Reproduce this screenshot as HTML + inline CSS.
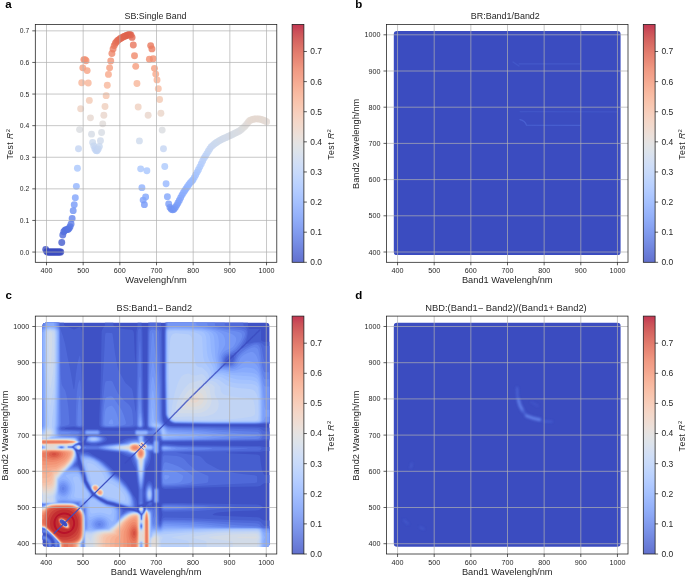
<!DOCTYPE html>
<html><head><meta charset="utf-8"><title>Figure</title>
<style>html,body{margin:0;padding:0;background:#fff;}svg{display:block;}text{font-family:"Liberation Sans",sans-serif;opacity:0.999;}</style>
</head><body>
<svg width="685" height="578" viewBox="0 0 685 578" font-family="'Liberation Sans', sans-serif" fill="#262626">
<defs><linearGradient id="cbg" x1="0" y1="0" x2="0" y2="1"><stop offset="0.0000" stop-color="#c33652"/><stop offset="0.0312" stop-color="#cb5058"/><stop offset="0.0625" stop-color="#d4625f"/><stop offset="0.0938" stop-color="#dc7167"/><stop offset="0.1250" stop-color="#e47f6f"/><stop offset="0.1562" stop-color="#ea8b78"/><stop offset="0.1875" stop-color="#f09982"/><stop offset="0.2188" stop-color="#f3a28b"/><stop offset="0.2500" stop-color="#f6ad94"/><stop offset="0.2812" stop-color="#f8b79e"/><stop offset="0.3125" stop-color="#f9c0a8"/><stop offset="0.3438" stop-color="#f8c8b2"/><stop offset="0.3750" stop-color="#f7cfbd"/><stop offset="0.4062" stop-color="#f4d6c7"/><stop offset="0.4375" stop-color="#f0dbd0"/><stop offset="0.4688" stop-color="#ebe0da"/><stop offset="0.5000" stop-color="#e4e3e3"/><stop offset="0.5312" stop-color="#dde3ea"/><stop offset="0.5625" stop-color="#d6e0f1"/><stop offset="0.5938" stop-color="#ceddf7"/><stop offset="0.6250" stop-color="#c7d9fa"/><stop offset="0.6562" stop-color="#bed4fd"/><stop offset="0.6875" stop-color="#b6ceff"/><stop offset="0.7188" stop-color="#adc7ff"/><stop offset="0.7500" stop-color="#a4c0fe"/><stop offset="0.7812" stop-color="#9bb7fc"/><stop offset="0.8125" stop-color="#92aff9"/><stop offset="0.8438" stop-color="#8aa5f4"/><stop offset="0.8750" stop-color="#819bee"/><stop offset="0.9062" stop-color="#7991e7"/><stop offset="0.9375" stop-color="#7186df"/><stop offset="0.9688" stop-color="#697bd7"/><stop offset="1.0000" stop-color="#6270cd"/></linearGradient> <filter id="sb" x="-20%" y="-20%" width="140%" height="140%"><feGaussianBlur stdDeviation="0.6"/></filter><filter id="sb2" x="-30%" y="-30%" width="160%" height="160%"><feGaussianBlur stdDeviation="0.85"/></filter><filter id="sb3" x="-5%" y="-5%" width="110%" height="110%"><feGaussianBlur stdDeviation="0.35"/></filter><filter id="hb" x="-2%" y="-2%" width="104%" height="104%"><feGaussianBlur stdDeviation="0.75"/></filter></defs>
<rect width="685" height="578" fill="#ffffff"/>
<g>
<clipPath id="clipa"><rect x="35.30" y="24.40" width="241.50" height="237.90"/></clipPath>
<g clip-path="url(#clipa)">
<circle cx="45.72" cy="249.52" r="3.45" fill="#3d50c3" fill-opacity="0.8"/><circle cx="46.71" cy="251.59" r="3.45" fill="#3b4cc0" fill-opacity="0.8"/><circle cx="47.69" cy="252.05" r="3.45" fill="#3b4cc0" fill-opacity="0.8"/><circle cx="48.68" cy="252.05" r="3.45" fill="#3b4cc0" fill-opacity="0.8"/><circle cx="49.67" cy="252.05" r="3.45" fill="#3b4cc0" fill-opacity="0.8"/><circle cx="50.66" cy="252.05" r="3.45" fill="#3b4cc0" fill-opacity="0.8"/><circle cx="51.66" cy="252.05" r="3.45" fill="#3b4cc0" fill-opacity="0.8"/><circle cx="52.65" cy="252.05" r="3.45" fill="#3b4cc0" fill-opacity="0.8"/><circle cx="53.66" cy="252.05" r="3.45" fill="#3b4cc0" fill-opacity="0.8"/><circle cx="54.66" cy="252.05" r="3.45" fill="#3b4cc0" fill-opacity="0.8"/><circle cx="55.66" cy="252.05" r="3.45" fill="#3b4cc0" fill-opacity="0.8"/><circle cx="56.67" cy="252.05" r="3.45" fill="#3b4cc0" fill-opacity="0.8"/><circle cx="57.69" cy="252.05" r="3.45" fill="#3b4cc0" fill-opacity="0.8"/><circle cx="58.70" cy="252.05" r="3.45" fill="#3b4cc0" fill-opacity="0.8"/><circle cx="59.72" cy="252.05" r="3.45" fill="#3b4cc0" fill-opacity="0.8"/><circle cx="60.74" cy="252.05" r="3.45" fill="#3b4cc0" fill-opacity="0.8"/><circle cx="61.76" cy="242.52" r="3.45" fill="#455cce" fill-opacity="0.8"/><circle cx="62.78" cy="234.99" r="3.45" fill="#4f69d9" fill-opacity="0.8"/><circle cx="63.81" cy="231.73" r="3.45" fill="#536edd" fill-opacity="0.8"/><circle cx="64.84" cy="230.38" r="3.45" fill="#5572df" fill-opacity="0.8"/><circle cx="65.88" cy="229.61" r="3.45" fill="#5673e0" fill-opacity="0.8"/><circle cx="66.91" cy="229.61" r="3.45" fill="#5673e0" fill-opacity="0.8"/><circle cx="67.95" cy="229.44" r="3.45" fill="#5673e0" fill-opacity="0.8"/><circle cx="68.99" cy="228.47" r="3.45" fill="#5875e1" fill-opacity="0.8"/><circle cx="70.04" cy="226.74" r="3.45" fill="#5977e3" fill-opacity="0.8"/><circle cx="71.09" cy="223.92" r="3.45" fill="#5d7ce6" fill-opacity="0.8"/><circle cx="72.14" cy="218.52" r="3.45" fill="#6485ec" fill-opacity="0.8"/><circle cx="73.19" cy="210.66" r="3.45" fill="#6f92f3" fill-opacity="0.8"/><circle cx="74.25" cy="204.75" r="3.45" fill="#779af7" fill-opacity="0.8"/><circle cx="75.31" cy="197.63" r="3.45" fill="#81a4fb" fill-opacity="0.8"/><circle cx="76.37" cy="186.36" r="3.45" fill="#92b4fe" fill-opacity="0.8"/><circle cx="77.43" cy="168.25" r="3.45" fill="#aac7fd" fill-opacity="0.8"/><circle cx="78.50" cy="148.77" r="3.45" fill="#c4d5f3" fill-opacity="0.8"/><circle cx="79.57" cy="129.59" r="3.45" fill="#dadce0" fill-opacity="0.8"/><circle cx="80.65" cy="108.72" r="3.45" fill="#edd1c2" fill-opacity="0.8"/><circle cx="81.72" cy="82.73" r="3.45" fill="#f7b497" fill-opacity="0.8"/><circle cx="82.80" cy="67.85" r="3.45" fill="#f59f80" fill-opacity="0.8"/><circle cx="83.88" cy="59.61" r="3.45" fill="#f29072" fill-opacity="0.8"/><circle cx="84.97" cy="59.61" r="3.45" fill="#f29072" fill-opacity="0.8"/><circle cx="86.06" cy="60.74" r="3.45" fill="#f29274" fill-opacity="0.8"/><circle cx="87.15" cy="70.61" r="3.45" fill="#f6a283" fill-opacity="0.8"/><circle cx="88.24" cy="83.06" r="3.45" fill="#f7b497" fill-opacity="0.8"/><circle cx="89.34" cy="100.39" r="3.45" fill="#f2c9b4" fill-opacity="0.8"/><circle cx="90.44" cy="117.86" r="3.45" fill="#e6d7cf" fill-opacity="0.8"/><circle cx="91.54" cy="134.13" r="3.45" fill="#d5dbe5" fill-opacity="0.8"/><circle cx="92.65" cy="142.41" r="3.45" fill="#ccd9ed" fill-opacity="0.8"/><circle cx="93.76" cy="145.85" r="3.45" fill="#c7d7f0" fill-opacity="0.8"/><circle cx="94.87" cy="148.74" r="3.45" fill="#c4d5f3" fill-opacity="0.8"/><circle cx="95.98" cy="150.43" r="3.45" fill="#c3d5f4" fill-opacity="0.8"/><circle cx="97.10" cy="150.70" r="3.45" fill="#c1d4f4" fill-opacity="0.8"/><circle cx="98.22" cy="148.99" r="3.45" fill="#c4d5f3" fill-opacity="0.8"/><circle cx="99.35" cy="146.41" r="3.45" fill="#c7d7f0" fill-opacity="0.8"/><circle cx="100.47" cy="140.78" r="3.45" fill="#cedaeb" fill-opacity="0.8"/><circle cx="101.60" cy="132.53" r="3.45" fill="#d7dce3" fill-opacity="0.8"/><circle cx="102.74" cy="123.86" r="3.45" fill="#e0dbd8" fill-opacity="0.8"/><circle cx="103.87" cy="115.26" r="3.45" fill="#e9d5cb" fill-opacity="0.8"/><circle cx="105.01" cy="106.55" r="3.45" fill="#efcebd" fill-opacity="0.8"/><circle cx="106.15" cy="95.66" r="3.45" fill="#f5c4ac" fill-opacity="0.8"/><circle cx="107.30" cy="85.24" r="3.45" fill="#f7b79b" fill-opacity="0.8"/><circle cx="108.45" cy="74.38" r="3.45" fill="#f7a889" fill-opacity="0.8"/><circle cx="109.60" cy="67.85" r="3.45" fill="#f59f80" fill-opacity="0.8"/><circle cx="110.75" cy="60.98" r="3.45" fill="#f39475" fill-opacity="0.8"/><circle cx="111.91" cy="53.53" r="3.45" fill="#ee8669" fill-opacity="0.8"/><circle cx="113.07" cy="48.96" r="3.45" fill="#eb7d62" fill-opacity="0.8"/><circle cx="114.24" cy="45.61" r="3.45" fill="#e9785d" fill-opacity="0.8"/><circle cx="115.40" cy="43.13" r="3.45" fill="#e67259" fill-opacity="0.8"/><circle cx="116.57" cy="41.79" r="3.45" fill="#e57058" fill-opacity="0.8"/><circle cx="117.75" cy="40.51" r="3.45" fill="#e46e56" fill-opacity="0.8"/><circle cx="118.92" cy="39.62" r="3.45" fill="#e36c55" fill-opacity="0.8"/><circle cx="120.10" cy="38.72" r="3.45" fill="#e36b54" fill-opacity="0.8"/><circle cx="121.29" cy="37.93" r="3.45" fill="#e26952" fill-opacity="0.8"/><circle cx="122.47" cy="37.34" r="3.45" fill="#e16751" fill-opacity="0.8"/><circle cx="123.66" cy="36.74" r="3.45" fill="#e16751" fill-opacity="0.8"/><circle cx="124.86" cy="36.15" r="3.45" fill="#e0654f" fill-opacity="0.8"/><circle cx="126.05" cy="35.65" r="3.45" fill="#e0654f" fill-opacity="0.8"/><circle cx="127.25" cy="35.22" r="3.45" fill="#df634e" fill-opacity="0.8"/><circle cx="128.45" cy="34.79" r="3.45" fill="#df634e" fill-opacity="0.8"/><circle cx="129.66" cy="34.36" r="3.45" fill="#de614d" fill-opacity="0.8"/><circle cx="130.87" cy="34.93" r="3.45" fill="#df634e" fill-opacity="0.8"/><circle cx="132.08" cy="37.39" r="3.45" fill="#e16751" fill-opacity="0.8"/><circle cx="133.30" cy="44.98" r="3.45" fill="#e8765c" fill-opacity="0.8"/><circle cx="134.51" cy="55.70" r="3.45" fill="#f08a6c" fill-opacity="0.8"/><circle cx="135.74" cy="66.37" r="3.45" fill="#f59c7d" fill-opacity="0.8"/><circle cx="136.96" cy="83.57" r="3.45" fill="#f7b599" fill-opacity="0.8"/><circle cx="138.19" cy="106.93" r="3.45" fill="#efcfbf" fill-opacity="0.8"/><circle cx="139.42" cy="140.92" r="3.45" fill="#cdd9ec" fill-opacity="0.8"/><circle cx="140.66" cy="168.86" r="3.45" fill="#aac7fd" fill-opacity="0.8"/><circle cx="141.90" cy="187.64" r="3.45" fill="#90b2fe" fill-opacity="0.8"/><circle cx="143.14" cy="200.12" r="3.45" fill="#7ea1fa" fill-opacity="0.8"/><circle cx="144.38" cy="204.65" r="3.45" fill="#779af7" fill-opacity="0.8"/><circle cx="145.63" cy="196.96" r="3.45" fill="#82a6fb" fill-opacity="0.8"/><circle cx="146.88" cy="170.70" r="3.45" fill="#a7c5fe" fill-opacity="0.8"/><circle cx="148.14" cy="115.21" r="3.45" fill="#e9d5cb" fill-opacity="0.8"/><circle cx="149.40" cy="59.31" r="3.45" fill="#f29072" fill-opacity="0.8"/><circle cx="150.66" cy="45.59" r="3.45" fill="#e9785d" fill-opacity="0.8"/><circle cx="151.93" cy="48.91" r="3.45" fill="#eb7d62" fill-opacity="0.8"/><circle cx="153.20" cy="58.82" r="3.45" fill="#f18f71" fill-opacity="0.8"/><circle cx="154.47" cy="68.35" r="3.45" fill="#f59f80" fill-opacity="0.8"/><circle cx="155.74" cy="74.11" r="3.45" fill="#f7a889" fill-opacity="0.8"/><circle cx="157.02" cy="79.90" r="3.45" fill="#f7b093" fill-opacity="0.8"/><circle cx="158.31" cy="88.64" r="3.45" fill="#f7bca1" fill-opacity="0.8"/><circle cx="159.59" cy="99.46" r="3.45" fill="#f3c8b2" fill-opacity="0.8"/><circle cx="160.88" cy="113.31" r="3.45" fill="#ead4c8" fill-opacity="0.8"/><circle cx="162.18" cy="130.12" r="3.45" fill="#dadce0" fill-opacity="0.8"/><circle cx="163.47" cy="148.79" r="3.45" fill="#c4d5f3" fill-opacity="0.8"/><circle cx="164.77" cy="166.52" r="3.45" fill="#adc9fd" fill-opacity="0.8"/><circle cx="166.08" cy="183.70" r="3.45" fill="#96b7ff" fill-opacity="0.8"/><circle cx="167.38" cy="196.73" r="3.45" fill="#82a6fb" fill-opacity="0.8"/><circle cx="168.70" cy="204.00" r="3.45" fill="#799cf8" fill-opacity="0.8"/><circle cx="170.01" cy="207.45" r="3.45" fill="#7396f5" fill-opacity="0.8"/><circle cx="171.33" cy="209.19" r="3.45" fill="#7093f3" fill-opacity="0.8"/><circle cx="172.65" cy="209.83" r="3.45" fill="#7093f3" fill-opacity="0.8"/><circle cx="173.98" cy="209.33" r="3.45" fill="#7093f3" fill-opacity="0.8"/><circle cx="175.30" cy="207.55" r="3.45" fill="#7396f5" fill-opacity="0.8"/><circle cx="176.64" cy="205.36" r="3.45" fill="#7699f6" fill-opacity="0.8"/><circle cx="177.97" cy="203.05" r="3.45" fill="#7a9df8" fill-opacity="0.8"/><circle cx="179.31" cy="200.51" r="3.45" fill="#7da0f9" fill-opacity="0.8"/><circle cx="180.65" cy="197.81" r="3.45" fill="#81a4fb" fill-opacity="0.8"/><circle cx="182.00" cy="195.11" r="3.45" fill="#85a8fc" fill-opacity="0.8"/><circle cx="183.35" cy="192.64" r="3.45" fill="#88abfd" fill-opacity="0.8"/><circle cx="184.71" cy="190.67" r="3.45" fill="#8badfd" fill-opacity="0.8"/><circle cx="186.06" cy="188.70" r="3.45" fill="#8db0fe" fill-opacity="0.8"/><circle cx="187.43" cy="186.72" r="3.45" fill="#90b2fe" fill-opacity="0.8"/><circle cx="188.79" cy="184.74" r="3.45" fill="#94b6ff" fill-opacity="0.8"/><circle cx="190.16" cy="182.87" r="3.45" fill="#96b7ff" fill-opacity="0.8"/><circle cx="191.53" cy="181.42" r="3.45" fill="#98b9ff" fill-opacity="0.8"/><circle cx="192.91" cy="179.97" r="3.45" fill="#9abbff" fill-opacity="0.8"/><circle cx="194.29" cy="177.59" r="3.45" fill="#9ebeff" fill-opacity="0.8"/><circle cx="195.67" cy="174.96" r="3.45" fill="#a2c1ff" fill-opacity="0.8"/><circle cx="197.06" cy="172.33" r="3.45" fill="#a5c3fe" fill-opacity="0.8"/><circle cx="198.45" cy="169.69" r="3.45" fill="#a9c6fd" fill-opacity="0.8"/><circle cx="199.84" cy="166.83" r="3.45" fill="#adc9fd" fill-opacity="0.8"/><circle cx="201.24" cy="163.91" r="3.45" fill="#b1cbfc" fill-opacity="0.8"/><circle cx="202.65" cy="160.98" r="3.45" fill="#b5cdfa" fill-opacity="0.8"/><circle cx="204.05" cy="158.30" r="3.45" fill="#b9d0f9" fill-opacity="0.8"/><circle cx="205.46" cy="155.96" r="3.45" fill="#bbd1f8" fill-opacity="0.8"/><circle cx="206.88" cy="153.62" r="3.45" fill="#bed2f6" fill-opacity="0.8"/><circle cx="208.29" cy="151.26" r="3.45" fill="#c1d4f4" fill-opacity="0.8"/><circle cx="209.72" cy="148.91" r="3.45" fill="#c4d5f3" fill-opacity="0.8"/><circle cx="211.14" cy="146.83" r="3.45" fill="#c6d6f1" fill-opacity="0.8"/><circle cx="212.57" cy="145.60" r="3.45" fill="#c9d7f0" fill-opacity="0.8"/><circle cx="214.00" cy="144.36" r="3.45" fill="#cad8ef" fill-opacity="0.8"/><circle cx="215.44" cy="143.18" r="3.45" fill="#cbd8ee" fill-opacity="0.8"/><circle cx="216.88" cy="142.26" r="3.45" fill="#ccd9ed" fill-opacity="0.8"/><circle cx="218.33" cy="141.33" r="3.45" fill="#cdd9ec" fill-opacity="0.8"/><circle cx="219.77" cy="140.41" r="3.45" fill="#cedaeb" fill-opacity="0.8"/><circle cx="221.23" cy="139.62" r="3.45" fill="#cfdaea" fill-opacity="0.8"/><circle cx="222.68" cy="138.96" r="3.45" fill="#cfdaea" fill-opacity="0.8"/><circle cx="224.14" cy="138.31" r="3.45" fill="#d1dae9" fill-opacity="0.8"/><circle cx="225.61" cy="137.65" r="3.45" fill="#d2dbe8" fill-opacity="0.8"/><circle cx="227.08" cy="136.99" r="3.45" fill="#d2dbe8" fill-opacity="0.8"/><circle cx="228.55" cy="136.32" r="3.45" fill="#d3dbe7" fill-opacity="0.8"/><circle cx="230.03" cy="135.66" r="3.45" fill="#d4dbe6" fill-opacity="0.8"/><circle cx="231.51" cy="134.92" r="3.45" fill="#d5dbe5" fill-opacity="0.8"/><circle cx="232.99" cy="134.17" r="3.45" fill="#d5dbe5" fill-opacity="0.8"/><circle cx="234.48" cy="133.42" r="3.45" fill="#d6dce4" fill-opacity="0.8"/><circle cx="235.97" cy="132.67" r="3.45" fill="#d7dce3" fill-opacity="0.8"/><circle cx="237.47" cy="131.91" r="3.45" fill="#d8dce2" fill-opacity="0.8"/><circle cx="238.97" cy="131.16" r="3.45" fill="#d8dce2" fill-opacity="0.8"/><circle cx="240.47" cy="130.19" r="3.45" fill="#d9dce1" fill-opacity="0.8"/><circle cx="241.98" cy="128.91" r="3.45" fill="#dbdcde" fill-opacity="0.8"/><circle cx="243.49" cy="127.62" r="3.45" fill="#dcdddd" fill-opacity="0.8"/><circle cx="245.01" cy="126.22" r="3.45" fill="#dedcdb" fill-opacity="0.8"/><circle cx="246.53" cy="124.33" r="3.45" fill="#dfdbd9" fill-opacity="0.8"/><circle cx="248.06" cy="122.44" r="3.45" fill="#e1dad6" fill-opacity="0.8"/><circle cx="249.58" cy="120.58" r="3.45" fill="#e3d9d3" fill-opacity="0.8"/><circle cx="251.12" cy="120.04" r="3.45" fill="#e4d9d2" fill-opacity="0.8"/><circle cx="252.65" cy="119.50" r="3.45" fill="#e4d9d2" fill-opacity="0.8"/><circle cx="254.20" cy="118.95" r="3.45" fill="#e5d8d1" fill-opacity="0.8"/><circle cx="255.74" cy="118.89" r="3.45" fill="#e5d8d1" fill-opacity="0.8"/><circle cx="257.29" cy="118.89" r="3.45" fill="#e5d8d1" fill-opacity="0.8"/><circle cx="258.85" cy="118.89" r="3.45" fill="#e5d8d1" fill-opacity="0.8"/><circle cx="260.40" cy="119.24" r="3.45" fill="#e5d8d1" fill-opacity="0.8"/><circle cx="261.97" cy="119.70" r="3.45" fill="#e4d9d2" fill-opacity="0.8"/><circle cx="263.53" cy="120.25" r="3.45" fill="#e4d9d2" fill-opacity="0.8"/><circle cx="265.10" cy="120.93" r="3.45" fill="#e3d9d3" fill-opacity="0.8"/><circle cx="266.68" cy="121.77" r="3.45" fill="#e2dad5" fill-opacity="0.8"/>
<line x1="46.50" x2="46.50" y1="24.40" y2="262.30" stroke="#b0b0b0" stroke-width="0.7"/>
<line x1="83.17" x2="83.17" y1="24.40" y2="262.30" stroke="#b0b0b0" stroke-width="0.7"/>
<line x1="119.84" x2="119.84" y1="24.40" y2="262.30" stroke="#b0b0b0" stroke-width="0.7"/>
<line x1="156.51" x2="156.51" y1="24.40" y2="262.30" stroke="#b0b0b0" stroke-width="0.7"/>
<line x1="193.18" x2="193.18" y1="24.40" y2="262.30" stroke="#b0b0b0" stroke-width="0.7"/>
<line x1="229.85" x2="229.85" y1="24.40" y2="262.30" stroke="#b0b0b0" stroke-width="0.7"/>
<line x1="266.52" x2="266.52" y1="24.40" y2="262.30" stroke="#b0b0b0" stroke-width="0.7"/>
<line x1="35.30" x2="276.80" y1="252.05" y2="252.05" stroke="#b0b0b0" stroke-width="0.7"/>
<line x1="35.30" x2="276.80" y1="220.45" y2="220.45" stroke="#b0b0b0" stroke-width="0.7"/>
<line x1="35.30" x2="276.80" y1="188.85" y2="188.85" stroke="#b0b0b0" stroke-width="0.7"/>
<line x1="35.30" x2="276.80" y1="157.25" y2="157.25" stroke="#b0b0b0" stroke-width="0.7"/>
<line x1="35.30" x2="276.80" y1="125.65" y2="125.65" stroke="#b0b0b0" stroke-width="0.7"/>
<line x1="35.30" x2="276.80" y1="94.05" y2="94.05" stroke="#b0b0b0" stroke-width="0.7"/>
<line x1="35.30" x2="276.80" y1="62.45" y2="62.45" stroke="#b0b0b0" stroke-width="0.7"/>
<line x1="35.30" x2="276.80" y1="30.85" y2="30.85" stroke="#b0b0b0" stroke-width="0.7"/>
</g>
<rect x="35.30" y="24.40" width="241.50" height="237.90" fill="none" stroke="#1a1a1a" stroke-width="0.75"/>
<line x1="46.50" x2="46.50" y1="262.30" y2="265.30" stroke="#1a1a1a" stroke-width="0.7"/>
<text x="46.50" y="272.90" font-size="7.0" text-anchor="middle" textLength="12.0" lengthAdjust="spacingAndGlyphs" >400</text>
<line x1="83.17" x2="83.17" y1="262.30" y2="265.30" stroke="#1a1a1a" stroke-width="0.7"/>
<text x="83.17" y="272.90" font-size="7.0" text-anchor="middle" textLength="12.0" lengthAdjust="spacingAndGlyphs" >500</text>
<line x1="119.84" x2="119.84" y1="262.30" y2="265.30" stroke="#1a1a1a" stroke-width="0.7"/>
<text x="119.84" y="272.90" font-size="7.0" text-anchor="middle" textLength="12.0" lengthAdjust="spacingAndGlyphs" >600</text>
<line x1="156.51" x2="156.51" y1="262.30" y2="265.30" stroke="#1a1a1a" stroke-width="0.7"/>
<text x="156.51" y="272.90" font-size="7.0" text-anchor="middle" textLength="12.0" lengthAdjust="spacingAndGlyphs" >700</text>
<line x1="193.18" x2="193.18" y1="262.30" y2="265.30" stroke="#1a1a1a" stroke-width="0.7"/>
<text x="193.18" y="272.90" font-size="7.0" text-anchor="middle" textLength="12.0" lengthAdjust="spacingAndGlyphs" >800</text>
<line x1="229.85" x2="229.85" y1="262.30" y2="265.30" stroke="#1a1a1a" stroke-width="0.7"/>
<text x="229.85" y="272.90" font-size="7.0" text-anchor="middle" textLength="12.0" lengthAdjust="spacingAndGlyphs" >900</text>
<line x1="266.52" x2="266.52" y1="262.30" y2="265.30" stroke="#1a1a1a" stroke-width="0.7"/>
<text x="266.52" y="272.90" font-size="7.0" text-anchor="middle" textLength="16.0" lengthAdjust="spacingAndGlyphs" >1000</text>
<line x1="32.30" x2="35.30" y1="252.05" y2="252.05" stroke="#1a1a1a" stroke-width="0.7"/>
<text x="29.20" y="254.55" font-size="7.0" text-anchor="end" textLength="9.4" lengthAdjust="spacingAndGlyphs" >0.0</text>
<line x1="32.30" x2="35.30" y1="220.45" y2="220.45" stroke="#1a1a1a" stroke-width="0.7"/>
<text x="29.20" y="222.95" font-size="7.0" text-anchor="end" textLength="9.4" lengthAdjust="spacingAndGlyphs" >0.1</text>
<line x1="32.30" x2="35.30" y1="188.85" y2="188.85" stroke="#1a1a1a" stroke-width="0.7"/>
<text x="29.20" y="191.35" font-size="7.0" text-anchor="end" textLength="9.4" lengthAdjust="spacingAndGlyphs" >0.2</text>
<line x1="32.30" x2="35.30" y1="157.25" y2="157.25" stroke="#1a1a1a" stroke-width="0.7"/>
<text x="29.20" y="159.75" font-size="7.0" text-anchor="end" textLength="9.4" lengthAdjust="spacingAndGlyphs" >0.3</text>
<line x1="32.30" x2="35.30" y1="125.65" y2="125.65" stroke="#1a1a1a" stroke-width="0.7"/>
<text x="29.20" y="128.15" font-size="7.0" text-anchor="end" textLength="9.4" lengthAdjust="spacingAndGlyphs" >0.4</text>
<line x1="32.30" x2="35.30" y1="94.05" y2="94.05" stroke="#1a1a1a" stroke-width="0.7"/>
<text x="29.20" y="96.55" font-size="7.0" text-anchor="end" textLength="9.4" lengthAdjust="spacingAndGlyphs" >0.5</text>
<line x1="32.30" x2="35.30" y1="62.45" y2="62.45" stroke="#1a1a1a" stroke-width="0.7"/>
<text x="29.20" y="64.95" font-size="7.0" text-anchor="end" textLength="9.4" lengthAdjust="spacingAndGlyphs" >0.6</text>
<line x1="32.30" x2="35.30" y1="30.85" y2="30.85" stroke="#1a1a1a" stroke-width="0.7"/>
<text x="29.20" y="33.35" font-size="7.0" text-anchor="end" textLength="9.4" lengthAdjust="spacingAndGlyphs" >0.7</text>
<text x="155.50" y="19.10" font-size="8.7" text-anchor="middle" textLength="62" lengthAdjust="spacingAndGlyphs" >SB:Single Band</text>
<text x="156.05" y="283.30" font-size="8.7" text-anchor="middle" textLength="61.5" lengthAdjust="spacingAndGlyphs" >Wavelengh/nm</text>
<text font-size="8.7" text-anchor="middle" letter-spacing="0.45" transform="translate(13.20,143.95) rotate(-90)" >Test <tspan font-style="italic">R</tspan><tspan font-size="6" dy="-3.2">2</tspan></text>
<text x="5.30" y="7.80" font-size="11.5" text-anchor="start" font-weight="bold" fill="#000">a</text>
<rect x="292.10" y="24.40" width="11.80" height="237.90" fill="url(#cbg)" stroke="#1a1a1a" stroke-width="0.75"/>
<line x1="303.90" x2="306.90" y1="262.30" y2="262.30" stroke="#1a1a1a" stroke-width="0.7"/>
<text x="310.20" y="265.25" font-size="8.4" text-anchor="start" textLength="11.8" lengthAdjust="spacingAndGlyphs" >0.0</text>
<line x1="303.90" x2="306.90" y1="232.19" y2="232.19" stroke="#1a1a1a" stroke-width="0.7"/>
<text x="310.20" y="235.14" font-size="8.4" text-anchor="start" textLength="11.8" lengthAdjust="spacingAndGlyphs" >0.1</text>
<line x1="303.90" x2="306.90" y1="202.07" y2="202.07" stroke="#1a1a1a" stroke-width="0.7"/>
<text x="310.20" y="205.02" font-size="8.4" text-anchor="start" textLength="11.8" lengthAdjust="spacingAndGlyphs" >0.2</text>
<line x1="303.90" x2="306.90" y1="171.96" y2="171.96" stroke="#1a1a1a" stroke-width="0.7"/>
<text x="310.20" y="174.91" font-size="8.4" text-anchor="start" textLength="11.8" lengthAdjust="spacingAndGlyphs" >0.3</text>
<line x1="303.90" x2="306.90" y1="141.84" y2="141.84" stroke="#1a1a1a" stroke-width="0.7"/>
<text x="310.20" y="144.79" font-size="8.4" text-anchor="start" textLength="11.8" lengthAdjust="spacingAndGlyphs" >0.4</text>
<line x1="303.90" x2="306.90" y1="111.73" y2="111.73" stroke="#1a1a1a" stroke-width="0.7"/>
<text x="310.20" y="114.68" font-size="8.4" text-anchor="start" textLength="11.8" lengthAdjust="spacingAndGlyphs" >0.5</text>
<line x1="303.90" x2="306.90" y1="81.62" y2="81.62" stroke="#1a1a1a" stroke-width="0.7"/>
<text x="310.20" y="84.57" font-size="8.4" text-anchor="start" textLength="11.8" lengthAdjust="spacingAndGlyphs" >0.6</text>
<line x1="303.90" x2="306.90" y1="51.50" y2="51.50" stroke="#1a1a1a" stroke-width="0.7"/>
<text x="310.20" y="54.45" font-size="8.4" text-anchor="start" textLength="11.8" lengthAdjust="spacingAndGlyphs" >0.7</text>
<text transform="translate(333.90,144.15) rotate(-90)" font-size="8.7" text-anchor="middle" letter-spacing="0.45">Test <tspan font-style="italic">R</tspan><tspan font-size="6" dy="-3.2">2</tspan></text>
</g>
<g>
<clipPath id="clipb"><rect x="386.50" y="24.40" width="241.50" height="237.90"/></clipPath>
<g clip-path="url(#clipb)">
<g transform="translate(351.2,0)"><rect x="42.6" y="31.1" width="226.8" height="224.0" rx="3.2" fill="#3b4cc0"/><g filter="url(#sb)" fill="none" stroke-linecap="round" stroke="#4e68d8"><path d="M168.8 119.6Q173.8 120.5 175.3 125.2L228.8 125.4" stroke-width="1.2" opacity="0.7"/><path d="M168.8 111.7L265.8 111.9" stroke-width="1.0" opacity="0.4"/><path d="M161.8 62.0L167.8 66.0M167.8 63.8L228.8 63.8" stroke-width="1.2" opacity="0.4"/></g></g>
<line x1="397.55" x2="397.55" y1="24.40" y2="262.30" stroke="#b0b0b0" stroke-width="0.7"/>
<line x1="434.20" x2="434.20" y1="24.40" y2="262.30" stroke="#b0b0b0" stroke-width="0.7"/>
<line x1="470.85" x2="470.85" y1="24.40" y2="262.30" stroke="#b0b0b0" stroke-width="0.7"/>
<line x1="507.50" x2="507.50" y1="24.40" y2="262.30" stroke="#b0b0b0" stroke-width="0.7"/>
<line x1="544.15" x2="544.15" y1="24.40" y2="262.30" stroke="#b0b0b0" stroke-width="0.7"/>
<line x1="580.80" x2="580.80" y1="24.40" y2="262.30" stroke="#b0b0b0" stroke-width="0.7"/>
<line x1="617.45" x2="617.45" y1="24.40" y2="262.30" stroke="#b0b0b0" stroke-width="0.7"/>
<line x1="386.50" x2="628.00" y1="252.00" y2="252.00" stroke="#b0b0b0" stroke-width="0.7"/>
<line x1="386.50" x2="628.00" y1="215.80" y2="215.80" stroke="#b0b0b0" stroke-width="0.7"/>
<line x1="386.50" x2="628.00" y1="179.60" y2="179.60" stroke="#b0b0b0" stroke-width="0.7"/>
<line x1="386.50" x2="628.00" y1="143.40" y2="143.40" stroke="#b0b0b0" stroke-width="0.7"/>
<line x1="386.50" x2="628.00" y1="107.20" y2="107.20" stroke="#b0b0b0" stroke-width="0.7"/>
<line x1="386.50" x2="628.00" y1="71.00" y2="71.00" stroke="#b0b0b0" stroke-width="0.7"/>
<line x1="386.50" x2="628.00" y1="34.80" y2="34.80" stroke="#b0b0b0" stroke-width="0.7"/>
</g>
<rect x="386.50" y="24.40" width="241.50" height="237.90" fill="none" stroke="#1a1a1a" stroke-width="0.75"/>
<line x1="397.55" x2="397.55" y1="262.30" y2="265.30" stroke="#1a1a1a" stroke-width="0.7"/>
<text x="397.55" y="272.90" font-size="7.0" text-anchor="middle" textLength="12.0" lengthAdjust="spacingAndGlyphs" >400</text>
<line x1="434.20" x2="434.20" y1="262.30" y2="265.30" stroke="#1a1a1a" stroke-width="0.7"/>
<text x="434.20" y="272.90" font-size="7.0" text-anchor="middle" textLength="12.0" lengthAdjust="spacingAndGlyphs" >500</text>
<line x1="470.85" x2="470.85" y1="262.30" y2="265.30" stroke="#1a1a1a" stroke-width="0.7"/>
<text x="470.85" y="272.90" font-size="7.0" text-anchor="middle" textLength="12.0" lengthAdjust="spacingAndGlyphs" >600</text>
<line x1="507.50" x2="507.50" y1="262.30" y2="265.30" stroke="#1a1a1a" stroke-width="0.7"/>
<text x="507.50" y="272.90" font-size="7.0" text-anchor="middle" textLength="12.0" lengthAdjust="spacingAndGlyphs" >700</text>
<line x1="544.15" x2="544.15" y1="262.30" y2="265.30" stroke="#1a1a1a" stroke-width="0.7"/>
<text x="544.15" y="272.90" font-size="7.0" text-anchor="middle" textLength="12.0" lengthAdjust="spacingAndGlyphs" >800</text>
<line x1="580.80" x2="580.80" y1="262.30" y2="265.30" stroke="#1a1a1a" stroke-width="0.7"/>
<text x="580.80" y="272.90" font-size="7.0" text-anchor="middle" textLength="12.0" lengthAdjust="spacingAndGlyphs" >900</text>
<line x1="617.45" x2="617.45" y1="262.30" y2="265.30" stroke="#1a1a1a" stroke-width="0.7"/>
<text x="617.45" y="272.90" font-size="7.0" text-anchor="middle" textLength="16.0" lengthAdjust="spacingAndGlyphs" >1000</text>
<line x1="383.50" x2="386.50" y1="252.00" y2="252.00" stroke="#1a1a1a" stroke-width="0.7"/>
<text x="380.40" y="254.50" font-size="7.0" text-anchor="end" textLength="12.0" lengthAdjust="spacingAndGlyphs" >400</text>
<line x1="383.50" x2="386.50" y1="215.80" y2="215.80" stroke="#1a1a1a" stroke-width="0.7"/>
<text x="380.40" y="218.30" font-size="7.0" text-anchor="end" textLength="12.0" lengthAdjust="spacingAndGlyphs" >500</text>
<line x1="383.50" x2="386.50" y1="179.60" y2="179.60" stroke="#1a1a1a" stroke-width="0.7"/>
<text x="380.40" y="182.10" font-size="7.0" text-anchor="end" textLength="12.0" lengthAdjust="spacingAndGlyphs" >600</text>
<line x1="383.50" x2="386.50" y1="143.40" y2="143.40" stroke="#1a1a1a" stroke-width="0.7"/>
<text x="380.40" y="145.90" font-size="7.0" text-anchor="end" textLength="12.0" lengthAdjust="spacingAndGlyphs" >700</text>
<line x1="383.50" x2="386.50" y1="107.20" y2="107.20" stroke="#1a1a1a" stroke-width="0.7"/>
<text x="380.40" y="109.70" font-size="7.0" text-anchor="end" textLength="12.0" lengthAdjust="spacingAndGlyphs" >800</text>
<line x1="383.50" x2="386.50" y1="71.00" y2="71.00" stroke="#1a1a1a" stroke-width="0.7"/>
<text x="380.40" y="73.50" font-size="7.0" text-anchor="end" textLength="12.0" lengthAdjust="spacingAndGlyphs" >900</text>
<line x1="383.50" x2="386.50" y1="34.80" y2="34.80" stroke="#1a1a1a" stroke-width="0.7"/>
<text x="380.40" y="37.30" font-size="7.0" text-anchor="end" textLength="16.0" lengthAdjust="spacingAndGlyphs" >1000</text>
<text x="505.30" y="19.10" font-size="8.7" text-anchor="middle" textLength="69" lengthAdjust="spacingAndGlyphs" >BR:Band1/Band2</text>
<text x="507.25" y="283.30" font-size="8.7" text-anchor="middle" textLength="90.6" lengthAdjust="spacingAndGlyphs" >Band1 Wavelengh/nm</text>
<text font-size="8.7" text-anchor="middle" textLength="90" lengthAdjust="spacingAndGlyphs" transform="translate(358.80,143.95) rotate(-90)" >Band2 Wavelengh/nm</text>
<text x="355.30" y="7.50" font-size="11.5" text-anchor="start" font-weight="bold" fill="#000">b</text>
<rect x="643.30" y="24.40" width="11.80" height="237.90" fill="url(#cbg)" stroke="#1a1a1a" stroke-width="0.75"/>
<line x1="655.10" x2="658.10" y1="262.30" y2="262.30" stroke="#1a1a1a" stroke-width="0.7"/>
<text x="661.40" y="265.25" font-size="8.4" text-anchor="start" textLength="11.8" lengthAdjust="spacingAndGlyphs" >0.0</text>
<line x1="655.10" x2="658.10" y1="232.19" y2="232.19" stroke="#1a1a1a" stroke-width="0.7"/>
<text x="661.40" y="235.14" font-size="8.4" text-anchor="start" textLength="11.8" lengthAdjust="spacingAndGlyphs" >0.1</text>
<line x1="655.10" x2="658.10" y1="202.07" y2="202.07" stroke="#1a1a1a" stroke-width="0.7"/>
<text x="661.40" y="205.02" font-size="8.4" text-anchor="start" textLength="11.8" lengthAdjust="spacingAndGlyphs" >0.2</text>
<line x1="655.10" x2="658.10" y1="171.96" y2="171.96" stroke="#1a1a1a" stroke-width="0.7"/>
<text x="661.40" y="174.91" font-size="8.4" text-anchor="start" textLength="11.8" lengthAdjust="spacingAndGlyphs" >0.3</text>
<line x1="655.10" x2="658.10" y1="141.84" y2="141.84" stroke="#1a1a1a" stroke-width="0.7"/>
<text x="661.40" y="144.79" font-size="8.4" text-anchor="start" textLength="11.8" lengthAdjust="spacingAndGlyphs" >0.4</text>
<line x1="655.10" x2="658.10" y1="111.73" y2="111.73" stroke="#1a1a1a" stroke-width="0.7"/>
<text x="661.40" y="114.68" font-size="8.4" text-anchor="start" textLength="11.8" lengthAdjust="spacingAndGlyphs" >0.5</text>
<line x1="655.10" x2="658.10" y1="81.62" y2="81.62" stroke="#1a1a1a" stroke-width="0.7"/>
<text x="661.40" y="84.57" font-size="8.4" text-anchor="start" textLength="11.8" lengthAdjust="spacingAndGlyphs" >0.6</text>
<line x1="655.10" x2="658.10" y1="51.50" y2="51.50" stroke="#1a1a1a" stroke-width="0.7"/>
<text x="661.40" y="54.45" font-size="8.4" text-anchor="start" textLength="11.8" lengthAdjust="spacingAndGlyphs" >0.7</text>
<text transform="translate(685.10,144.15) rotate(-90)" font-size="8.7" text-anchor="middle" letter-spacing="0.45">Test <tspan font-style="italic">R</tspan><tspan font-size="6" dy="-3.2">2</tspan></text>
</g>
<g>
<clipPath id="clipc"><rect x="35.30" y="316.10" width="241.50" height="237.90"/></clipPath>
<g clip-path="url(#clipc)">
<clipPath id="hc"><rect x="42.60" y="322.80" width="226.80" height="224.00" rx="3.2"/></clipPath>
<g clip-path="url(#hc)"><rect x="40.6" y="320.8" width="230.8" height="228.0" fill="#3e51c5"/>
<path fill="#465ecf" fill-rule="evenodd" d="M41.1 321.3l22.8 0 0.1 3.5 0.3 0.5 1.6 1 8.2 3.3 3.5 -1.7 2 -0.7 0.5 0.1 0.5 0.4 0.5 0.8 0.7 1.8 0.3 3 0.5 28.9 1.3 33.1 0.3 29.5 -0.2 1 -0.8 1 -1.1 0.7 -1.5 0.5 -2 0 -4 -0.7 -1.5 0 -6.2 0.5 -2.1 0.5 0.1 0.5 4 0.5 10.7 0.3 2 0.5 1.5 0.9 0.5 0 1.5 -1.4 1 -0.4 1.5 -0.2 10 0 1.5 0.4 1.5 0.7 1 0.3 14.5 0.3 16.5 0 1 -0.1 1.5 -1.1 1.7 -0.7 0.6 -0.5 -1.3 -1 -0.5 -0.1 -5.5 0.5 -17 0.5 -8 -0.1 -2.5 -0.4 -1.5 -0.4 -1.3 -1 -0.6 -1 -0.1 -2 0.2 -8.5 1 -22 0.5 -16.5 0.8 -43.5 0.1 -1.5 0.5 -1.5 2.5 -4 0.2 -1 0 -3.5 8.4 0 0.1 4 0.9 1 0.8 0.5 2.4 1 1.6 0.4 6 1 6.5 0.6 1 0.4 0.6 0.6 0.4 1 0.3 2 0.9 21 0.3 5.5 0.5 3.7 0.5 -11.6 0.2 -20.1 0.3 -2 0.9 -4 0.1 -5 3.9 0 0.1 4.5 0.8 4.5 0.1 2.5 1.1 75 0.5 7.9 0.9 8.6 -0.1 1 -0.4 1 -1.7 2 0.3 0.2 1 0.3 2.5 -0.1 0.5 0 0.5 -0.4 -0.9 -2 -0.4 -1.5 0.3 -5.5 0.7 -86.5 0.1 -2.5 0.6 -4.5 0 -4.5 13 0 0.1 4.5 1 4.5 0.1 3 0.4 49 0 32 0.5 4.4 0.5 2.4 0.5 1.1 2.1 2.1 0.6 0.5 1.8 0.6 3 0.5 3.5 0.2 32 0 49.5 0.4 3 0.2 4.5 0.9 7 0.1 0 12.9 -7 0 -4.5 0.5 -2.5 0.1 -82 0.7 -11 0.3 -1.5 -0.2 -2 -1 -0.5 0.1 -0.1 3.7 0.1 0.6 0.5 0.3 2 -1.7 1 -0.4 1 0 12.5 1.2 4.5 0.2 52 0.8 23.5 0.2 2.5 0.1 4.5 0.8 7 0.1 0 3.9 -7 0 -4.5 1 -2 0.2 -18.7 0.2 -13.5 0.5 3.5 0.5 5.7 0.3 21.5 0.9 2 0.3 1 0.4 0.7 0.6 0.3 1 0.8 7 1 6 0.7 2 1 2 1 0.9 1 0.2 5.5 0 0 8.2 -6.5 0.1 -1 0.4 -3.5 2.3 -1.5 0.4 -1.5 0.1 -45 0.8 -17 0.6 -19.5 0.9 -10 0.2 -2 -0.1 -1 -0.5 -1 -1.1 -0.6 -1.9 -0.3 -2 -0.2 -7.5 0.5 -16 0.2 -4 0.4 -3 -0.2 -0.5 -0.8 -1.1 -0.5 0.1 -0.6 1.5 -1.1 1.5 -0.4 1 0 16.5 0.3 14.5 0.2 1 0.8 1.5 0.4 1.5 0 10 -0.3 2 -0.7 1 -1 1 0.1 0.5 1 2 0.3 1.5 0.4 11 0.1 1.4 0.5 1 0.5 -0.5 0.5 -1.4 1.4 -4.5 -0.2 -2 -1.4 -4 -0.2 -2.5 0.7 -2 0.6 -1 0.6 -0.4 1 -0.3 18.5 0 22 0.3 52 1.2 2.5 0.1 1.5 0.5 1.9 1.1 1.1 1 -0.3 0.5 -2.7 1.8 -2 0.7 -2.5 0.3 -22.3 0.7 -13.7 1 -3.1 0.5 -1.7 0.5 -1.9 1 -0.3 0.5 1.5 0.5 5.1 0.5 5.9 0.3 32 1.1 1.5 0.2 1 0.4 2.8 2 1.7 0.7 7 0.1 0 27.7 -217 0 -0.1 -6 -0.9 -2.4 -1.5 -2.2 -2.5 -2.4 -2.8 -1.5 -2.2 -0.5 -3 0zM64.1 522.9l-0.3 0.4 0.8 0.6 0.1 -0.1 -0.1 -0.4zM83.1 434.1l-1.8 1.2 -0.2 0.5 0.3 0.5 0.2 0.3 0.5 0.1 3 -0.6 0.5 0.3 0.2 0.4 0.3 1.6 0.2 -0.6 1.2 -2 -0.4 -0.3 -2 -0.3 -1.5 -1.1zM106.1 434.8l-5 0.1 -0.8 0.4 3.3 0.8 2 1 0.8 0.7 0.4 0.5 0.2 1 -0.4 1 -0.5 0.6 -1.5 1.1 -2.5 1.1 -2 0.6 -4.1 0.6 2.1 0.4 20.7 -2.4 1.2 -0.5 3.1 -1.9 3 -1.3 4 -0.9 5 -0.5 0.7 -0.4 -0.1 -0.5 -0.5 -0.5 -1.1 -0.8 -1 -0.4 -17 -0.1zM148.6 435.7l-2.5 0.7 -0.3 0.4 -0.1 0.5 0.3 1 2.7 1.5 1.4 2.6 0.7 0.4 1 0 0.3 -0.2 0.4 -0.8 0.5 -2 0 -3.5 -0.2 -0.5 -0.7 -0.2zM85.6 439.1l-0.8 1.2 -1.2 1.2 -2.5 1.5 -2.7 0.8 2.2 1.2 1 1.3 0.2 0.5 -0.1 1 -0.4 1 -0.4 0.5 -1.3 0.9 -1 0.2 -1 -0.1 -1.8 -1 -0.4 0 0.2 0.7 1.3 2.3 0.9 5 0.2 3.5 -0.4 3 2.3 3.5 1.5 3.5 1.4 4 1.8 6.7 3 5.6 3.8 5.2 1.2 1.9 1.1 1.1 2.9 1.9 3.6 2.6 5.5 3 1.4 0.6 6.5 1.6 4.5 1.6 3.6 1.7 2.4 1.7 0.5 0.1 3.5 -0.4 4 0.4 4.5 0.8 2.5 1.5 0.1 -0.1 -0.1 -0.5 -0.9 -1.5 -0.1 -1 0.1 -1 0.6 -1 0.8 -0.8 1.5 -0.5 1 0.1 1 0.7 0.8 1 0.7 1.7 0.5 -1 0.4 -1.7 1.1 -1.9 1 -1.3 1.7 -1.3 -2.7 0 -1.1 -0.5 -0.6 -1.5 -0.5 -2.5 -0.3 -3 -0.4 4.5 0 3.5 -0.2 1 -0.4 0.5 -0.5 0.3 -2.5 0.6 -1 0 -0.7 -0.4 -0.4 -0.5 -0.2 -1 0.3 -3 0.1 -10.5 -1.3 -9 -1.3 -11.4 -0.5 -1.5 -2.3 -4.1 -0.9 -2.5 -1 -3.5 -0.6 -0.5 -3.2 -0.8 -2.5 -0.9 -4.3 -2.3 -1.7 -0.5 -11.5 -1.3 -9 -1.2 -9 0 -4.5 0.4 -1 -0.1 -0.8 -0.8 -0.3 -1 0.3 -1.5 0.4 -1.5 0.4 -0.5 1 -0.5 4.6 0 2 -0.5 -2.1 -0.3 -2 -0.4 -1 -0.5 -0.3 -0.3 -0.3 -1zM151.6 452.7l-0.8 6.1 -0.9 3.5 -1.2 3 -2.1 3.2 -0.5 1.8 -2.3 19.5 0.3 4 0.2 -2.5 1 -5 1.4 -3 1.4 -1.7 1 -0.5 0.5 0 1 0.4 0.5 0.4 0.7 0.9 0.7 1.5 0.4 1.5 0.2 1.4 0.5 0.3 0.2 -0.7 0.3 -15 -0.1 -16.5 -0.3 -1 -1.1 -1.4 -0.5 -0.3zM152.1 500.8l-1.5 0.9 -0.5 0.1 1.5 0.1 0.7 0.4 0.2 1 -0.6 2.5 0.3 0.5 0.9 0.3 0.5 -0.4 0.9 -1.4 0 -0.5 -1.2 -2 -0.2 -1.9zM164.7 321.3l83.2 0 0.1 5 0.6 1.8 0.5 0.6 1 0.2 9.5 0 1 0.2 0.3 0.2 0.2 1 0 9.5 0.4 1 0.8 0.5 1.8 0.5 7 0 0 82.3 -7 0 -7.5 0.6 -46 0 -34.5 -0.6 -1.5 -0.1 -2 -0.5 -2 -1 -1.5 -1.2 -2.4 -2.5 -0.9 -1.5 -0.6 -1.5 -0.4 -2.5 -0.6 -35 0 -45 0.1 -3 0.4 -4zM77.4 451.3l0.7 -0.1 2 0.5 2.5 -0.3 2 0 3.5 0.7 2 0.9 2.6 1.8 6.9 3.7 4 2.6 2.5 1.9 6 5.8 0.8 1 1.9 3.5 3.8 2.1 2.7 2.4 3.8 4 1.7 2 3 4.5 3.8 6.9 2.1 3.1 0.8 2 0.5 2.5 0.1 2 -0.4 3 0.6 2 -0.2 0.6 -0.5 0.2 -3 -1.6 -4.5 -0.9 -15.9 -4.8 -5.6 -1.3 -9.5 -4.8 -1.5 -1 -2.5 -2.2 -2.4 -2.7 -1.3 -2 -4.4 -8.5 -1.4 -5.5 -4.8 -15.5 -1.2 -5.3 -1.3 -2.2 -0.1 -0.5zM41.1 535.8l0 -0.5 3 0 1.5 0.3 2 1 2.5 2.3 1.3 1.9 0.6 1.5 0.1 6 -4.7 0 0 -5 -0.3 -0.9 -1.4 -1.6 -1.1 -0.7 -3.5 -0.2zM41.1 543.3l0 -0.3 2.5 0.1 0.5 0.2 0.2 5 -3.2 0z"/>
<path fill="#4f69d9" fill-rule="evenodd" d="M41.1 321.3l18.7 0 0 4.5 0.3 2.3 2.7 7.7 2.3 8.3 2.5 13.2 3 14.1 2.5 15.1 0.5 2.5 0.5 0.2 0.5 -2.9 1.3 -12 1.2 -8.3 1 -5 1.5 -5.5 0.5 0.5 0.5 4.3 0.5 7.5 1.3 24 0.5 20.5 0.1 11 -0.2 2 -0.7 1.1 -1.5 0.8 -3 -0.1 -3 -1.1 -1 -0.1 -11 1.4 -1.2 0.5 -0.3 0.5 0 0.5 0.5 0.5 2.5 0.5 15 0.6 1.5 0.4 0.9 0.5 0.4 0.5 0.2 0.5 -0.1 1 -0.3 0.5 -2.1 1.5 -0.1 0.5 0.5 1 0.1 0.5 -0.5 1.5 0.3 1.5 1.6 1.5 -0.4 0.5 -0.5 0.3 -2.2 0.7 -1.8 1 0.5 0.2 2 0.1 1.5 0.8 0.7 0.9 0.1 0.5 -0.1 1.5 -1.2 1.3 -1.5 0.5 -1 -0.2 -2.5 -1.3 -0.5 -0.1 -0.1 0.3 1.9 3.5 0.5 2 0.5 3.5 0 2 -0.2 1.5 -1.5 3.5 0.4 0.4 2 1.1 1.5 2 1.3 2.5 1.5 4 1.9 7 3.2 6 3.3 4.5 1.8 2.9 3 1.8 4.6 3.3 5.6 3 1.3 0.6 7 1.8 5.5 2.2 2.1 1.4 0.8 1 0.6 1.4 0.5 0.3 3.5 -1.5 1.5 -0.2 2.5 0.1 3.5 0.5 2 0.6 3.5 1.8 -0.5 -1.4 -0.9 -1.6 -0.3 -1 0.4 -1.5 1.3 -1.3 1 -0.2 1 0.1 1.1 0.9 0.8 1.5 0.1 2.5 1 -1.6 0.8 -2.4 0.7 -1 0.5 0.3 0.5 0.8 0.5 0.4 2 0.3 1.5 -0.4 1.5 0.5 0.5 -0.3 1.5 -2 0.5 -0.2 1 0 1 0.8 0.7 1.8 0.5 13.5 0.5 2 0.3 0.5 0.5 0.2 0.6 -0.7 1.4 -3.8 1 -1.7 1 -0.6 1 -0.2 24 0.5 36 1.8 30.5 0.9 3 0.3 1 0.4 1 0.7 2.5 2.9 1 0.8 1 0.2 6 0 0 22.3 -216.5 0 0 -5 -0.2 -1.5 -0.8 -2.1 -1.5 -2.2 -2.5 -2.4 -2.5 -1.5 -2.5 -0.7 -3.5 -0.1zM63.1 522.3l0 0.5 0.7 1 0.8 0.6 0.5 0.1 0.2 -0.2 -0.2 -0.8 -0.6 -0.7 -0.9 -0.6zM73.6 446.3l-1.4 0.5 0 0.5 1.4 0.6 0.3 -0.1zM140.6 513.7l0.5 1.6 0.5 0.4 0.6 -1.4 -0.1 -0.4zM149.5 321.3l7.7 0 0.2 4.5 0.5 1 2.2 2.7 0.7 1.8 0.2 3 0.8 48 0.1 32 0.4 3.5 0.5 3 0.8 2.1 1.1 1.4 1.4 1 2 0.7 6.5 0.8 32 0.2 51.5 0.9 1.5 0.3 1 0.5 2.5 2.1 1 0.5 1 0.2 6 0 0 7.6 -6.5 0 -4.5 1.2 -3 0.2 -93 0.8 -1.5 -0.2 -1 -0.5 -0.8 -0.8 -0.7 -1.2 -0.5 -0.4 -0.5 0.4 -0.2 0.7 0.4 3 0.1 6 -0.1 3 -0.5 1.5 -1.2 1.2 -1.5 0.4 -1 -0.2 -1 -0.5 -1.5 -2 -0.5 -0.2 -1.5 0.3 -0.4 0.5 -0.3 4 -0.8 3.5 -1.1 3 -1.9 3.5 -0.5 2 -1.6 14.5 -1.2 7 0.1 13.5 -0.2 0.5 -0.6 0.4 -2 0.5 -1 -0.4 -0.2 -0.5 0.1 -14 -1.2 -7 -1.7 -15 -0.5 -2.1 -2.1 -4.4 -1.2 -4.5 -0.3 -0.5 -4.9 -1.4 -4.6 -2.1 -2 -0.5 -15.4 -1.7 -7 -1.1 -10.5 0 -3.5 0.1 -0.7 -0.3 -0.3 -1 0.5 -1.9 0.5 -0.6 0.5 -0.2 13.5 0.1 7.5 -1.2 15.2 -1.7 1.5 -0.5 3.3 -1.8 2.5 -0.9 3 -0.7 5 -0.5 0.5 -0.2 0.3 -0.9 0 -1 -0.5 -0.5 -1.5 -1 -0.7 -1 -0.2 -1 0.2 -1 0.5 -1 1.4 -1.1 1.5 -0.3 3 -0.1 5.5 0.1 3 0.5 0.5 -0.1 0.7 -0.5 -0.1 -0.5 -1.6 -1 -0.9 -1 -0.3 -1 -0.1 -1 0.8 -92 0.2 -3 1.1 -4zM148.1 435.2l-2.3 0.6 -0.8 0.5 -0.2 0.5 0.3 2.5 0.5 0.7 2 1.1 1.3 2.2 3.2 0.4 0.5 -0.4 1.1 -4 -0.1 -3.8 -0.5 -0.5 -1 -0.1 -2.5 0zM165.4 321.3l77.9 0 0.1 4 0.8 1 1.4 1 1 1.1 0.8 1.4 0.4 1.5 -0.1 3 -0.7 3.5 -1.5 5 0 0.5 0.2 0.5 0.4 0.2 1 0.1 7.5 -1.9 3.5 -0.3 1.5 0.3 1.5 0.6 1.4 1 1.6 1.7 0.5 0.3 6.5 0.2 0 77.5 -7 0 -5.5 0.5 -6.5 0.1 -42 0 -34 -0.5 -1.5 -0.2 -2 -0.5 -1.5 -0.7 -1.8 -1.4 -1.9 -2 -1 -1.5 -0.7 -2 -0.4 -2.5 -0.6 -33.5 0 -42 0.1 -6 0.6 -5zM231.1 355.2l-2.8 1.1 -1.2 0.8 -1 1 -0.7 1.2 -0.5 1.5 -0.1 1.5 0.4 1 1.9 0.9 1.5 0 1.4 -0.4 1 -0.5 1.6 -1.6 1.2 -2.4 0.3 -1 0 -1.2 -0.5 -1.5 -0.5 -0.5 -1 -0.1zM139.1 328.8l1 -0.3 0.5 0.3 0.6 1.5 0.2 2 1.1 73.5 0.2 5.5 1 11.5 0.1 2 -0.2 1 -0.2 0.5 -0.8 0.9 -1 0.6 -1 0.3 -1 -0.1 -1.5 -0.5 -1.2 -0.7 -1.3 -1.4 -2.5 1.1 -4 0.4 -18 0.6 -6 -0.1 -2.8 -0.6 -1.2 -0.8 -0.5 -1.2 0.2 -13 3 -50 1.3 -26.1 0.4 -2.4 0.6 -0.4 0.5 -0.1 5 0.1 0.5 0.3 0.5 1 2.4 19.1 1.6 9 1.5 6.7 1.4 3.3 5.2 9.5 0.9 1.2 5 4.5 1 1.1 0.5 1 0.5 1.6 1.1 6.6 1.9 14.8 0.5 -4 0.5 -14.4 1.1 -61.4 0.4 -2.7 0.5 -0.8zM86.2 429.8l1.4 -0.2 10 0.1 2 0.7 1.5 1.6 1.1 0.8 -0.6 0.1 -2 1.7 -1.5 0.5 -7.5 0.1 -4.5 -0.3 -1.4 -0.6 -0.4 -0.5 -0.2 -1 0.1 -1 0.4 -1 0.6 -0.5zM90 435.8l2.6 -0.3 3.5 0.1 5.5 0.9 1.5 0.5 1.3 0.8 0.4 0.5 0.2 1 -0.4 1 -1.5 1.2 -2 0.9 -2.5 0.6 -3 0.4 -3 0 -3 -0.2 -2.5 -0.6 -0.6 -0.3 -0.5 -1 0.3 -2 0.6 -1.5 0.6 -1 0.6 -0.6 0.5 -0.2zM83.6 437.3l1 -0.2 0.4 0.2 0.1 1 -0.4 1 -0.6 0.7 -0.5 0.4 -0.5 0 -0.7 -0.6 -0.1 -1 0.6 -1zM163.8 444.8l3.8 0.1 9.5 0.9 5 0.2 74.5 1 2.5 0.2 1.5 0.4 0.8 0.7 0 0.5 -0.6 1 -1.2 0.6 -2 0.3 -61 1.1 -15.7 0.5 -4.7 0.5 15.4 1.9 6.4 1.1 1.7 0.5 0.9 0.5 1.2 1 4.1 4.5 1.2 1 10.1 5.5 2.3 1 1.7 0.5 6.9 1.5 8.5 1.4 7.5 1 10.3 1.1 1.7 0.4 0.9 0.6 0.1 0.5 0 5 -0.2 0.5 -0.3 0.1 -1.1 0.4 -0.9 0.1 -31 1.6 -38 2.3 -18 0.6 -3 0 -1.5 -0.3 -0.5 -0.3 -0.5 -0.8 -0.6 -2.2 -0.3 -8 0.8 -19 0.4 -2 0.9 -2 -1.9 -2 -0.5 -1.5 -0.2 -1 0.1 -1 0.9 -1.5 0.9 -0.8zM80.6 453.3l1 -0.3 2 -0.1 2 0.1 2 0.5 7.5 3.5 4.5 2.6 4 2.8 6.5 5.9 1.3 1.5 2.7 4.5 4.5 2.6 2.1 1.9 4.7 5 1.9 2.5 3.5 5.5 3.6 7 0.8 2.5 0.3 3 -0.1 2 -0.3 1 -0.5 0.5 -0.5 0.3 -1 0.1 -3 -0.3 -5 -1.4 -12.1 -3.7 -5.4 -1.3 -9 -4.4 -2 -1.4 -3 -2.8 -1.8 -2.1 -1 -1.5 -4.5 -9 -1.7 -6.5 -2.7 -8.5 -2 -7 -0.4 -2 0.1 -1.5 0.3 -1zM148.5 483.3l1.1 -0.3 1 0.4 0.7 0.9 0.7 1.5 0.9 4.5 0.1 6.5 -0.2 2 -0.4 1 -0.5 0.5 -2.3 1.1 -2 0.4 -1 -0.2 -0.3 -0.3 -0.5 -1 -0.6 -3.5 -0.1 -4 0.4 -3 0.7 -3 0.9 -2zM156 485.8l0.1 -0.1 0.2 0.6 1.8 1.8 0.5 0.7 0.4 1 0.1 1.5 -0.1 10 -0.4 1 -0.5 0.7 -1 0.6 -1 0.1 -1 -0.1 -0.5 -0.3 -0.5 -0.6 -0.3 -0.9 -0.4 -8 0 -3 0.5 -2 0.7 -1.3 0.8 -0.7zM150 502.8l0.6 -0.1 0.7 0.1 0.3 0.5 -0.1 0.5 -0.9 1.3 -0.5 0.3 -1 0.1 -0.5 -0.2 -0.4 -0.5 0 -0.5 0.8 -1zM163.3 504.3l1.8 -0.2 10.5 0 23.5 0.6 27 1.6 7.1 0.5 3.8 0.5 -3 0.5 -35.9 3.1 -15 0.6 -18 0.3 -1.5 -0.2 -1 -0.7 -0.5 -0.8 -0.4 -1.3 -0.2 -1.5 0.2 -1 0.8 -1.5zM41.1 536.3l0 -0.5 3 0 1.5 0.4 2 1.1 2.2 2 1 1.5 0.6 1.5 0.2 6 -3.7 0 0 -5 -0.3 -1 -1 -1.3 -1.5 -1.2 -1 -0.3 -3 -0.1z"/>
<path fill="#5875e1" fill-rule="evenodd" d="M41.1 321.3l18.1 0 0.1 5 0.7 4 0.1 2 0.5 34.5 0.5 12.3 0.5 4.6 0.5 1.7 3 5 0.6 1.9 0.9 4 1 6 0.8 6 1 14 -0.1 1.5 -0.7 1 -1.1 0.5 -1.4 0.3 -4.5 0.8 -1 0.7 -0.5 0.6 -0.2 1.1 0.1 0.5 0.5 0.5 1.1 0.4 17 0.9 1.1 0.2 0.8 0.5 0.3 0.5 -0.1 1 -0.4 0.5 -2.2 1 -0.5 0.5 1.2 1.5 0.1 0.5 -0.2 1 0.5 2 0.3 0.5 1.2 1 -0.3 0.5 -4.4 2 -2.4 1.7 -2.2 0.8 0 0.5 0.7 0.2 1.5 0.7 1.3 1.6 1 2 0.9 3.5 0.2 3 -0.2 2 -0.5 1.5 -1.7 2.5 -0.6 1.5 0.3 0.5 2.3 0.4 1 0.4 1 0.8 1 1.3 1.1 2.1 1.1 3 1.7 6.5 0.6 1.4 3 5.5 3.7 5.1 1.3 2.5 0.5 0.5 2.5 1.3 5.3 3.7 5.7 3 8 2.2 3 1.2 2.2 1.1 1.7 1.5 0.6 1.5 0.3 2 0.2 0.3 0.5 0.1 1 -0.4 2.5 -1.7 2 -0.7 2.5 -0.2 3.5 0.4 3 0.9 2.5 1.4 0.8 0.9 0.7 1.7 0.5 0.7 0.4 -1.4 1 -2 -0.4 -0.1 -1 0.4 -0.8 -0.3 -1.9 -3 -0.3 -1 0.2 -1 0.6 -1 0.7 -0.5 1 -0.3 1 0.2 1.3 1.1 0.4 1.5 -0.4 2.5 -0.4 1 0.1 0.4 1 -1.2 1.4 -2.7 0.6 -1.7 0.5 -0.5 1.5 1.4 2 0.6 1.5 -0.3 0.5 0.3 1 0.9 0.5 0.1 1 -2.2 0.5 -0.6 0.5 -0.3 1 0.1 0.7 0.7 0.3 1 0.8 14.5 0.4 1.5 0.3 0.6 0.5 0.4 0.5 0.1 0.5 -0.3 0.5 -0.7 1.1 -3.1 0.9 -1.4 1 -0.5 1.5 -0.2 18 0.3 16 0.5 37 2 19 0.8 2.5 0.4 1.5 0.9 1.7 2.2 1.3 0.7 2 0.3 6.5 0 0 20.5 -212.3 0 -0.1 -5 -0.1 -0.4 -0.5 -0.4 -0.3 0.3 -0.1 0.5 0 5 -2.6 0 -0.1 -5 -0.2 -1.5 -0.9 -2.5 -1.3 -2 -3 -2.8 -2.5 -1.4 -2.5 -0.7 -3.5 0 0 -2.6 3 -0.1 0.5 0 0.2 -0.4 -0.7 -0.5 -3 -0.1zM63.1 521.9l-0.4 0.4 0.4 1 0.4 0.5 1.1 0.8 0.5 0.2 0.5 -0.1 0 -0.7 -0.5 -0.9 -1 -0.9zM165.9 321.3l58.8 0 0 3.5 0.2 0.5 0.5 0.5 0.7 0.3 3.3 0.7 11.2 1.4 3.5 1 1.5 0.7 0.7 0.9 0.4 1.5 -0.1 2 -0.5 2.5 -1 2.5 -3.8 7 -0.6 1.5 0 0.5 0.9 0.2 2 -0.4 7.5 -3.8 2 -0.7 3.5 -0.6 2.5 0.4 0.8 0.4 0.4 0.5 1.5 4 1.8 10.4 0.5 1.6 0.5 0.9 0.5 0.3 0.5 0.1 5.5 0 0 61.4 -7 0 -5 0.6 -5 0.1 -44 0 -34 -0.5 -2 -0.2 -1.5 -0.5 -1.5 -0.8 -1.5 -1.1 -1.7 -1.8 -1.1 -1.5 -0.9 -2.5 -0.2 -2 -0.6 -33.5 0 -43.5 0.1 -5 0.7 -5zM235.6 352.3l-7.5 2.8 -1.5 0.8 -1 0.9 -1 1.6 -0.7 2.4 -0.1 2 0.2 1 0.4 0.5 2.2 0.9 1.5 0.1 2.5 -0.6 1 -0.5 1.2 -0.9 0.8 -1 1 -1.9 1.8 -5.1 0.3 -3 -0.6 -0.1zM151.5 327.8l1.1 -0.5 0.5 0.1 3.5 1.4 1.6 1.5 0.6 1 0.3 1.5 1.8 51.5 0.4 30.5 0.4 4 0.4 2 0.8 2 1.2 1.9 2 1.2 2 0.8 2 0.4 4 0.3 30.5 0.4 52.5 1.8 2 0.5 1.5 1.2 0.9 1.5 1.1 3 -0.2 1 -1.3 2 -0.7 0.5 -0.8 0.3 -2 0.2 -93 1 -1.5 0 -1.1 -0.5 -0.8 -1 -1.1 -2.4 -0.5 -0.4 -0.5 0 -0.6 0.8 -0.4 1.5 0.1 1 0.6 2 0.1 1.5 0 7.5 -0.1 1 -0.5 1 -1.2 0.8 -1.5 0.2 -1 -0.3 -0.5 -0.4 -1.5 -2.2 -2.5 0.3 -0.5 0.2 -0.3 0.4 -0.3 4 -0.6 3 -0.9 2.5 -1.5 3 -0.9 3.8 -1.6 14.7 -1.4 7 0 10.5 0.2 2.5 -0.1 0.5 -0.4 0.5 -1.2 0.4 -0.5 0 -0.5 -0.4 -0.1 -0.5 0.2 -3 0 -10 -1.4 -8 -1.7 -14.9 -0.8 -3.6 -1.5 -3.5 -1.2 -4.5 -0.5 -0.5 -4 -1 -5 -1.9 -3 -0.6 -15.5 -1.7 -7 -1.3 -10.5 -0.1 -3 0.3 -0.7 -0.2 -0.4 -0.5 0 -0.5 0.6 -1.2 0.5 -0.3 3 0.1 10.5 0 7.5 -1.4 15.5 -1.7 2.3 -0.5 3.7 -1.8 3 -0.9 3 -0.6 3.5 -0.2 0.6 -0.5 0.4 -2.5 -0.3 -0.5 -1.7 -1 -0.5 -0.5 -0.3 -0.5 -0.2 -1 0.3 -1.5 1 -1 0.7 -0.3 1 -0.2 8 0 1.5 0.2 2.5 0.7 1.5 -0.4 0.9 -0.5 0.2 -0.5 -0.3 -0.5 -0.7 -0.5 -2.1 -0.8 -0.8 -0.7 -0.4 -1 -0.2 -1.5 1.1 -91.5 0.1 -2 0.6 -1.5 0.6 -0.7zM149.6 434.3l-5.1 1.5 -0.3 0.5 0.4 3.9 0.5 0.7 1.5 0.9 1.4 2 4.1 0.5 0.5 -0.1 0.5 -0.7 0.5 -2.2 0.7 -2 0 -4 -0.2 -0.5 -0.5 -0.3zM140.1 340.3l0.5 9.8 0.5 17.9 0.8 40.3 1.3 16 -0.1 1 -0.4 1 -1.1 1 -1 0.2 -1.5 -0.1 -1.5 -0.8 -0.8 -1.3 -0.1 -1.5 1.4 -53.4 1 -20.1 0.5 -7.2zM79.5 380.3l0.1 -0.2 0.5 0.3 0.5 2.5 0.6 6.9 0.6 14 0.3 19 -0.1 2 -0.4 1 -1 0.7 -1 0.1 -2 -0.3 -1 -0.5 -0.7 -1 -0.2 -2 0.4 -16.5 0.7 -13 0.6 -5 0.6 -3.5 0.6 -2.4zM106 381.3l1.6 -0.3 3 -0.2 1 0.1 0.5 0.3 0.5 0.7 3 6.9 2.5 4.9 6.5 7.3 4.4 3.8 1.6 2.2 0.9 1.8 0.5 1.5 0.6 4 0.6 9 -0.1 1 -0.7 1 -1.6 0.5 -2.2 0.2 -17 1 -7 -0.2 -1.5 -0.5 -0.8 -0.5 -0.3 -0.5 -0.3 -1.5 0.1 -6.5 0.8 -13.6 2 -17.6 0.5 -3.1 0.5 -1.4zM86.1 430.3l1.5 -0.3 10 0.1 1 0.3 1 0.7 0.5 0.7 0.1 1 -0.3 1 -0.3 0.2 -1.5 0.7 -11.5 0 -1 -0.3 -0.5 -0.3 -0.5 -0.8 0 -0.5 0.3 -1.5 0.4 -0.5zM89.1 436.3l2 -0.2 3.5 -0.1 2.5 0.1 2.5 0.4 2 0.5 1.4 0.8 0.5 0.5 0.2 1 -0.5 1 -1.1 0.9 -1.5 0.7 -2 0.6 -4.5 0.4 -2.5 0 -2.5 -0.4 -2 -0.6 -0.5 -0.5 -0.2 -0.6 0.2 -1.5 0.9 -2 0.6 -0.6zM77.8 444.8l0.8 -0.1 1 0.3 1.1 0.8 0.5 1 0.1 0.5 -0.3 1 -0.4 0.6 -1 0.7 -1 0.3 -1 -0.2 -3 -1.7 -0.5 -0.7 0.2 -1 0.8 -0.9 1 -0.4zM162.5 445.8l1.1 -0.4 1.5 0 10.2 0.9 5.3 0.3 36.5 0.7 30.6 1 -0.4 0.5 -15.4 1 -11.2 0.5 -56.1 1.5 -1 -0.1 -1 -0.4 -0.5 -0.5 -0.6 -1 -0.3 -1.5 0.1 -1 0.6 -1zM80.9 454.3l1.2 -0.4 1.5 0 2 0.1 2 0.5 6 2.4 5.5 3.2 3.9 2.7 6.5 6 1.2 1.5 2.7 4.5 4.7 2.8 2 1.7 6.4 7 3 4.5 2 3.5 1.9 4.5 0.9 3 0.2 3.5 -0.1 1 -0.7 1 -0.6 0.3 -1 0.1 -2.5 -0.3 -5 -1.3 -10.5 -3.3 -7 -1.8 -9 -4.5 -2 -1.5 -3 -2.9 -1.4 -1.8 -0.9 -1.5 -0.7 -1.7 -3.5 -6.8 -1.5 -6 -3.2 -10 -1.6 -5.5 -0.3 -3 0.4 -1zM164.5 455.3l5.1 0.1 7 0.6 3.3 0.8 2.7 1.3 2.1 1.7 3.5 4 6.8 6 4.1 2.2 8.8 3.8 0.5 0.5 0.1 1 -0.3 4 -0.4 1 -1 0.5 -2.6 0.5 -21.1 2.3 -7.5 0.5 -9.5 0.2 -2 -0.1 -1 -0.4 -0.7 -1 -0.5 -2 -0.1 -9.5 1.2 -15.5 0.1 -1 0.5 -1zM148.3 484.8l0.8 -0.5 1 0.1 0.9 0.9 0.5 1 0.9 3.5 0.2 5 -0.2 3.5 -0.5 1.5 -0.8 0.7 -1 0.4 -2 0.5 -1 -0.2 -0.7 -0.9 -0.6 -3 -0.2 -3.5 0.2 -3 0.6 -2.5 0.8 -2zM155.8 487.8l1.3 0.2 0.9 0.8 0.5 1 0.2 1.5 -0.1 10 -0.5 1 -0.5 0.5 -1.5 0.4 -1 -0.1 -0.8 -0.8 -0.3 -1 -0.1 -1.5 0 -9.5 0.2 -1 0.5 -0.9 0.5 -0.4zM163.5 505.3l1.6 -0.2 5 0 21.5 0.5 11.6 0.7 4.8 0.5 2.2 0.5 -1.1 0.5 -3.2 0.5 -12.8 1.2 -12.5 0.6 -15.5 0.3 -1 -0.1 -1 -0.4 -0.5 -0.6 -0.4 -1 -0.1 -1 0.3 -1 0.4 -0.5zM41.1 536.3l3 0 1.5 0.3 2 1.2 2 2 1 1.5 0.5 1.5 0 5.5 -2.7 0 0 -5 -0.5 -1.5 -1.8 -1.9 -1 -0.7 -1 -0.2 -3 -0.1z"/>
<path fill="#6282ea" fill-rule="evenodd" d="M41.1 321.3l17.5 0 0.1 4.5 0.8 4 0.2 3 0.4 46 0.9 44 -0.3 2.5 -1.5 2.5 -0.2 1 0.1 0.6 0.5 0.7 1.5 0.8 13.5 0.7 2.5 0.2 2 0.5 0.2 0.5 -0.4 0.5 -0.3 0.1 -3 0.7 -5.5 0.7 -0.7 0.5 5.7 0.6 2 0.6 0.5 0.7 0.3 1.1 0.8 2 1.4 1.5 -0.4 0.5 -4.2 2 -2.4 1.7 -1.5 0.6 -2.8 0.2 0 0.5 2.8 0.2 2 1 1.7 2.3 1 3 0.4 3.5 -0.3 2.5 -0.5 1.5 -2.8 4.5 -0.5 1 0.5 0.5 3 0.3 1.5 0.4 1 0.8 1 1.3 1 1.9 1.1 2.8 1.9 7 2.9 5.5 4.3 6 1.2 2.5 2.6 1.3 6 4.1 5.5 2.9 7.5 2.1 2.9 1.1 1.9 1 1.2 1 0.7 1 0.3 1 0.3 3 0.2 0.6 1 -0.1 4.5 -2.7 2 -0.9 2.5 -0.2 3.5 0.4 2.5 0.7 2.7 1.7 0.9 1.5 0.3 1 0.1 2 0.2 0.5 0.3 0.2 0.3 -2.7 0.5 -1.5 1.8 -2.5 1.4 -2.7 0.5 -1.3 0.5 -0.6 1.5 1.3 2.5 1 1 0.1 0.5 0.5 0.7 2.2 0.3 3.3 0.5 2.7 1.5 -9.4 0.5 -0.8 0.5 -0.1 0.5 0.5 0.3 2.3 1 12.5 0.7 2.2 0.5 0.6 0.5 0.3 0.5 0 0.5 -0.2 0.5 -0.5 1.5 -3.5 1 -1.2 1.5 -0.3 3.5 0 20 0.4 17 0.9 31.5 2.7 19 1.1 2 0.3 3.2 1.2 2.3 0.5 7.5 0 0 20 -212 0 0 -5 -0.5 -0.8 -1 -0.9 -0.5 0 -0.1 0.2 0.1 6.5 -1.5 0 0 -5 -0.2 -1.5 -0.9 -2.5 -1.8 -2.5 -2.6 -2.5 -2.5 -1.6 -2.5 -0.7 -4 -0.1 0 -1.6 4.7 0 -0.1 -0.5 -0.4 -0.5 -1.2 -0.8 -3 -0.1zM61.1 446.8l-0.7 0.5 0.7 0.3 0.5 0 0.7 -0.3 -0.6 -0.5zM62.6 521.8l-0.1 0.5 0.1 0.5 1 1.3 1.5 0.9 0.5 0 0.3 -0.2 -0.2 -1 -1.1 -1.4 -1 -0.6zM76.6 503.2l-0.2 0.1 0.2 0.5 0.8 0.5 0.7 0.2 0.3 -0.2 0 -0.5 -0.3 -0.5zM83.6 509.3l-0.3 0.5 0.2 0.5 0.6 0.9 0.5 0 0 -1.4 -0.5 -0.5zM141.1 525.2l-0.2 1.1 0.2 0.7 0.5 -0.2 0.1 -0.5 -0.1 -0.8zM166.4 321.3l48.4 0 0.2 4 0.3 0.5 0.8 0.5 1.1 0.5 1.9 0.6 6.5 1.1 14.5 1.4 1.5 0.4 2 1 0.9 1 0.4 1 0.1 1 -0.3 1.5 -0.7 2 -1.2 2.5 -1.7 2.9 -1.5 2.1 -2.9 3.5 -2.1 1.8 -2.8 1.7 -5.7 2.3 -1 0.8 -1.1 1.4 -0.6 1.5 -0.3 1.5 -0.2 4 0.3 1 0.4 0.5 2 0.8 2 0.1 2.5 -0.3 2 -0.7 1.4 -0.9 1.3 -1.5 2.3 -5.2 1.7 -2.8 2.8 -2.8 4 -3 5 -2.8 3.5 -1.4 1.5 -0.2 1 0 1 0.3 0.6 0.4 1.1 1.5 0.9 2.5 1.7 14.5 0.7 3.4 1 3.6 0.5 0.9 1 0.6 6 0 0 50.2 -7 0.1 -5 0.7 -4.5 0.1 -44 0.1 -34 -0.6 -2.5 -0.2 -1.5 -0.5 -1.5 -0.8 -1.4 -1.1 -1.8 -2 -1 -1.5 -0.7 -2 -0.2 -2 -0.6 -34 0 -43.5 0.2 -4.5 0.8 -5zM151.5 329.8l1.1 -0.4 0.5 0 2.1 0.9 1.1 1 0.6 2 0.9 19 2.1 34.5 0.8 30.5 0.6 3.5 0.7 1.5 1.6 2.6 1.5 1.1 2.5 1.3 1.5 0.4 2.5 0.3 30 0.8 36 2.1 19 0.9 1.5 0.3 1 0.7 1 1.5 0.5 1.5 -0.5 1.4 -1 1.1 -1.1 0.5 -1.9 0.2 -52 1.1 -39.5 0.4 -1.5 -0.1 -1.1 -0.6 -0.4 -0.6 -1 -2.8 -0.5 -0.9 -0.5 -0.5 -0.5 -0.1 -0.5 0.3 -0.7 1.1 -0.8 2.5 0.1 0.5 1.1 2 0.3 1.5 0 8 -0.4 1.5 -1.1 0.9 -1 0.2 -1 -0.1 -1 -0.7 -1 -2 -0.5 -0.3 -3.2 0.5 -0.8 0.5 -0.2 3.5 -0.5 3 -0.9 2.5 -1.4 3.1 -0.5 2.3 -1.7 14.6 -0.8 5 -0.5 2.2 -1 2 -0.5 -0.1 -0.5 -0.9 -0.8 -2.7 -0.9 -5.5 -1.3 -12 -0.5 -3.3 -0.5 -2.3 -1.3 -3.4 -1.2 -4.3 -0.5 -0.3 -3 -0.7 -5.5 -1.9 -4.8 -0.8 -8.7 -0.9 -7 -0.9 -3.4 -0.7 -1.4 -0.5 -0.8 -0.5 0.1 -0.5 0.9 -0.5 3.1 -0.9 5 -0.8 12 -1.2 3.8 -0.6 1.9 -0.5 2.8 -1.3 2.5 -0.8 3 -0.5 3.5 -0.2 0.5 -0.7 0.5 -3.5 -2.5 -1.5 -0.4 -0.5 -0.2 -1 0.4 -1.5 0.4 -0.5 0.8 -0.5 1.5 -0.2 8 0.1 1.5 0.4 2 1 2.5 -0.7 1.1 -0.6 0.5 -0.5 0 -0.5 -0.4 -0.5 -0.8 -0.5 -2.9 -1.1 -0.7 -0.4 -0.6 -1 -0.2 -1 0.4 -39 1.1 -51.8 0.2 -1.7 0.3 -1.2 0.5 -0.6zM149.1 433.6l-1.5 1 -3.1 0.7 -0.7 0.5 0.4 5 0.4 0.6 1.5 1.2 0.9 1.2 0.6 0.5 5 0.5 0.6 -0.5 0.7 -3 1.4 -2.5 -0.4 -4 -0.3 -0.7 -1 -0.4 -3.5 -0.3zM140 376.8l0.1 -0.3 0.5 4.8 0.9 29 1.2 14 -0.1 1 -0.4 1 -0.6 0.5 -1 0.4 -1.5 -0.2 -1.2 -0.7 -0.5 -1 -0.2 -1.5 1.4 -36.4 0.5 -6.1 0.5 -3.7zM79.5 396.3l0.1 -0.4 0.5 0.5 0.5 3.9 0.5 11 0.1 11 0 2 -0.3 1 -0.5 0.5 -0.8 0.1 -1 -0.2 -0.7 -0.4 -0.3 -0.4 -0.3 -2.1 0.3 -10.3 0.5 -8.2 0.5 -4.4 0.5 -2.7zM110.3 396.3l1.8 0.1 1 0.9 6.8 10 1.8 3 2.1 5 2.1 7 0 1.5 -0.4 0.5 -0.8 0.5 -1.5 0.5 -2.5 0.5 -8.1 0.7 -7.4 -0.2 -1.3 -0.5 -0.6 -0.5 -0.3 -1 -0.1 -1 0.4 -10.5 0.8 -8.1 1 -5.6 0.5 -1.1 0.9 -0.7 1.6 -0.6zM85.9 430.8l0.7 -0.3 1 -0.1 10 0.1 1 0.3 0.6 0.5 0.3 0.5 0.2 1 -0.4 1 -0.7 0.4 -1 0.3 -11 -0.1 -1 -0.4 -0.5 -0.7 0 -1.5zM92.5 436.3l4.6 0.1 3 0.6 1.8 0.8 0.5 0.5 0.3 1 -0.6 1 -1.5 1 -2 0.7 -2 0.4 -2.5 0.2 -3 -0.2 -2.5 -0.4 -1.5 -0.7 -0.3 -1 0.1 -1 0.6 -1.5 0.6 -0.7 1.5 -0.6zM76.2 445.3l2.4 -0.4 1.5 0.5 0.8 0.9 0.1 0.5 -0.1 1.5 -0.8 0.9 -1.5 0.5 -1 -0.2 -2.5 -1.4 -0.7 -0.8 -0.1 -0.5 0.8 -1zM162.5 446.3l1.1 -0.4 1.5 -0.1 14 1.3 26.4 0.7 6.6 0.5 -0.1 0.5 -3.3 0.5 -5.8 0.5 -38.3 1.4 -1.5 -0.2 -0.5 -0.3 -0.6 -0.9 -0.4 -1 0 -1 0.4 -1zM84.4 447.3l0.7 -0.2 0.5 0.1 0.4 0.1 0.1 0.5 -1.5 0.4 -0.4 -0.4zM81.9 454.8l1.7 -0.2 2 0.2 4.5 1.2 4.5 2 5 3 3 2.3 6.5 6 3.8 6 5.2 3.1 1.7 1.4 6.3 6.9 2.8 4.1 2 3.5 1.5 3.5 1.1 4 0.3 3 -0.2 1.1 -0.5 0.9 -0.5 0.3 -1 0.2 -2.5 -0.3 -15.8 -4.7 -5.7 -1.4 -6.1 -3.1 -2.9 -1.2 -2 -1.4 -3.5 -3.4 -1.8 -2.5 -1.2 -2.8 -3.2 -6.2 -1.4 -5.5 -3.6 -11.5 -1.2 -4.5 -0.2 -1.5 0.1 -1.4 0.5 -0.7zM165.4 462.3l1.7 0.2 5 1.5 6 2.3 3.5 1.9 9.9 6.6 1.2 1 0.2 1 -0.4 3 -0.8 2 -0.4 0.5 -0.9 0.5 -1.9 0.5 -6.9 0.9 -6.5 0.6 -7 0.3 -3 0 -1.5 -0.3 -0.8 -1 -0.4 -1.5 -0.2 -6 0.2 -4 0.7 -5.5 0.5 -2.2 0.5 -1.3 0.5 -0.7zM148.4 485.8l0.7 -0.4 1 0.1 0.5 0.4 0.6 0.9 0.5 1.5 0.4 2 0.3 4.5 -0.3 3.5 -0.5 1.4 -1.5 1 -1 0.3 -1 0.1 -0.5 -0.2 -0.5 -0.4 -0.5 -1.2 -0.4 -2.5 -0.2 -3 0.2 -2.5 0.5 -2.5 0.9 -2zM154.8 488.8l0.8 -0.4 1 0 0.5 0.2 0.7 0.7 0.5 1.5 0 10 -0.2 0.7 -0.5 0.8 -0.5 0.3 -1 0.2 -1 -0.2 -0.4 -0.3 -0.3 -0.5 -0.2 -1 0 -10 0.1 -1zM140.7 501.8l0.4 -0.2 0.3 1.2 -0.1 0.5 -0.7 0.2 -0.3 -0.2 0 -0.5zM163.6 506.3l1 -0.2 1.5 -0.1 14.4 0.3 9.9 0.5 3.6 0.5 -0.9 0.5 -7 0.7 -9.5 0.4 -11.5 0.3 -1.5 -0.4 -0.5 -0.5 -0.3 -1 0.3 -0.6zM140.5 506.8l1.1 -0.1 1 0.4 0.6 0.7 0.4 1 -0.1 1.5 -0.5 2 -0.9 0.9 -0.5 0.2 -0.5 -0.1 -0.5 -0.5 -1.8 -3 0 -1 0.1 -0.5 0.7 -1zM41.1 536.8l3 0 1.5 0.4 1.7 1.1 1.8 1.7 1 1.6 0.4 1.2 0.1 5.5 -1.6 0 -0.1 -5.5 -0.4 -1 -0.7 -1 -1.7 -1.6 -1 -0.6 -1 -0.2 -3 0z"/>
<path fill="#6b8df0" fill-rule="evenodd" d="M44.2 321.3l13.4 0 0 4.5 1.3 3 0.4 1.5 0.1 4 0.4 89 -0.2 2 -1.2 2.5 -0.1 1.5 0.3 0.7 0.6 0.8 0.9 0.6 1 0.4 6 0.2 2.9 0.3 1.1 0.5 -1 0.5 -2.5 0.4 -6 0.3 -0.6 0.3 -0.2 0.5 0.5 0.5 3.8 0.8 8.5 0.5 2 0.4 1.5 1.2 1.4 2.6 1.2 1 -0.5 0.5 -4 2 -1.6 1.3 -1 0.5 -1.5 0.4 -2.8 0.3 0 0.5 0.3 0.1 3 0.3 1 0.3 1 0.7 1.2 1.6 0.6 1 0.8 3 0.2 3 -0.4 2.5 -0.7 1.5 -4 6.5 0.3 0.4 0.4 0.1 3.6 0.1 1.5 0.3 1 0.5 1 1 1 1.6 1.1 2.5 1.8 6.5 0.6 1.5 3 5.5 4.2 6 0.8 2.1 0.5 0.4 2.5 1.1 6 4.1 5.5 2.9 7 1.9 2.6 1 1.9 1 1.2 1 0.8 1.5 0.5 5.4 0.5 0.1 0.5 -0.3 6 -3.6 1.5 -0.7 2.5 -0.4 3 0.2 2 0.4 1.5 0.6 2 1.4 0.7 0.9 0.5 1 0.2 3 0.1 0.4 0.5 0.2 0.3 -0.6 0.1 -2 0.3 -1.5 0.5 -1 1.5 -2 2.3 -4.2 1.2 1.2 2.2 1 1.5 1.5 0.5 2 0.5 8 0.6 2.4 0.5 0.4 0.5 -0.5 0.5 -1.8 1 -5.4 0.5 -0.1 1.3 8 0.9 2 0.8 0.8 0.5 0.2 1 -0.1 0.5 -0.4 2 -3.8 0.5 -0.5 1 -0.4 2 -0.1 13 0.3 11.5 0.5 12 0.9 19 2.1 6.4 0.5 14.9 0.5 13.7 0.2 2 0.2 5 1 7 0 0 19.6 -187.3 0 -0.2 -6 -0.5 0 -0.5 1 0 5 -23.3 0 -0.1 -5 -0.6 -1.1 -3 -2.7 -4.5 -4.8 -3.5 -3.1 -2.6 -2.8 -0.9 -0.5 -3 -0.1 0 -23 3 -0.1 0.7 -0.3 0.3 -0.5 -1 -0.2 -3 0 0 -177.9 2.5 0 0.5 -0.4 0.1 -1zM60.6 446.7l-0.6 0.6 0.7 0.5 1.4 0 0.6 -0.5 -0.6 -0.6zM75.1 502.6l-0.5 0.2 0.5 0.5 3 1.7 0.5 0.3 0.5 -0.2 -0.1 -1.8 -0.4 -0.6 -1 -0.2zM81.1 506.2l-0.3 0.1 -0.2 0.5 0.5 0.4 0.4 -0.4 -0.1 -0.5zM82.6 508.7l0 0.6 0.5 1 1.5 2.4 0.5 0.3 0.2 -2.2 -0.2 -1.7 -0.5 -0.4zM98.6 523.2l-0.8 0.6 -0.2 0.5 0.1 0.5 0.4 0.5 1 0.4 0.5 0 1 -0.4 0.3 -0.5 0.1 -0.5 -0.4 -0.7 -1 -0.5zM141.1 524.8l-0.3 0.5 -0.2 1 0.5 1.2 0.5 -0.2 0.3 -1 -0.3 -1.3zM62.6 487.1l-0.6 0.7 -0.2 0.5 0.1 1 0.7 0.9 0.5 0.1 0.5 -0.1 0.5 -0.4 0.3 -0.5 0 -1 -0.3 -0.8 -0.5 -0.4zM62.6 521.5l-0.3 0.3 0.2 1 1.1 1.5 1.5 0.9 0.5 0.1 0.5 -0.4 0 -0.6 -0.2 -0.5 -0.8 -1.1 -1.5 -1.1zM167 321.3l40.3 0 0 3 0.2 1 0.5 0.5 0.9 0.5 1.3 0.5 8.4 2 17.1 2.5 3.9 0.9 1.2 0.6 0.8 1 0.4 1 0.1 1.5 -0.3 1.5 -0.7 1.8 -0.9 1.7 -3.1 4.5 -2.2 2.5 -2.3 1.9 -2.2 1.1 -3.8 1.2 -1.5 0.8 -1.5 1.5 -0.9 1.5 -0.5 1.5 -0.2 1.5 0 5.5 0.6 1.3 2 0.8 2 0.2 3.5 -0.2 2 -0.4 1.5 -0.6 1.4 -1.1 1.1 -1.3 2 -4.9 1.4 -2.3 1.6 -1.7 2.5 -2.1 4.7 -3.2 3.4 -1.5 1.4 -0.4 1.5 -0.1 1.5 0.4 1 0.6 0.8 1 0.7 2.3 1 5.3 0.8 6.4 1.3 7.5 0.9 3.8 1 3 0.5 1 0.5 0.5 0.5 0.2 6 0 0 42.7 -6.5 0 -5 1 -4 0.2 -45 0 -34 -0.5 -2 -0.2 -1.5 -0.4 -1.5 -0.7 -1.5 -1.1 -1.9 -2 -1 -1.5 -0.7 -2 -0.3 -2 -0.5 -34.5 0 -44 0.2 -4 1 -4.5zM152.3 332.8l0.3 -0.4 0.5 0.2 0.5 1.7 1.1 12.5 1.9 17.2 1.2 12.3 1.2 18 0.8 24.5 0.3 1.5 0.5 1 2.6 4 4.4 2.9 1 0.4 1.5 0.3 25 0.8 17 1.2 15.5 1.4 15.5 1.7 12 1 2 0.5 0.4 0.3 -0.4 0.5 -3.2 0.5 -11.8 0.7 -16.4 1.3 -10.2 0.5 -19.3 0.5 -32.1 0.3 -1 -0.1 -1 -0.7 -1.5 -4.1 -1 -1.5 -0.5 -0.4 -0.6 0 -0.4 0.3 -1 1.3 -0.5 0.2 -0.4 -0.8 0.1 -1.5 -0.2 -0.3 -2.3 -0.2 -0.2 -0.5 1.7 -1.5 0.1 -0.5 -0.3 -0.5 -1.3 -1 -3.7 -1.3 -1 -0.5 -0.5 -0.7 -0.2 -1.5 0.5 -34.5 0.7 -22.1 2.3 -32.4 0.2 -1.9zM140 400.3l0.1 -0.4 0.8 10.9 1.4 13 -0.3 2 -0.4 0.6 -1 0.4 -1 -0.1 -1 -0.4 -0.7 -1 -0.1 -1 0.1 -5.5 0.7 -8.5 1 -9.2zM109.3 406.3l2.3 -0.5 1 0.5 2 2.8 1.8 3.7 1.3 4.5 1.1 5.5 0 1 -0.3 0.5 -0.6 0.5 -1.1 0.5 -3.7 0.6 -4.5 0 -3 -0.4 -0.6 -0.2 -0.5 -0.5 -0.2 -2 0.3 -6 0.5 -5 0.3 -1.5 0.4 -1 0.8 -1.2 1 -0.9zM86.9 430.8l10.7 0 1 0.5 0.4 0.5 0.2 1 -0.2 0.5 -0.4 0.5 -1 0.4 -11 -0.1 -0.7 -0.3 -0.3 -0.4 -0.2 -1.1 0.5 -1zM136.3 430.8l1.3 -0.3 8 -0.1 1.6 0.4 1.3 1 0.2 1 -0.6 1 -1.5 0.8 -3 0.6 -0.5 0.6 0.5 2 0.1 2.5 0.3 1 2.9 3 0.7 0.4 3 0.2 2 0.5 0.5 -0.1 0.5 -0.8 0.3 -2.2 0.4 -1 0.3 -0.5 1 -0.8 1 0 0.5 0.3 0.8 1 0.4 1.5 0 8 -0.2 1 -0.5 0.7 -0.5 0.4 -1 0.2 -1.2 -0.3 -0.8 -0.7 -1 -2.3 -4 0.6 -1 0.4 -0.7 6 -0.7 2.5 -1.1 2.4 -0.5 2.1 -0.7 4.5 -1 9.5 -0.8 5.3 -0.8 3.2 -0.7 1.3 -0.5 -0.1 -0.5 -0.9 -0.6 -2.3 -0.7 -4 -1.3 -11.5 -0.9 -6 -0.5 -2 -1.2 -3 -0.8 -3.3 -0.5 -0.3 -3 -0.6 -3.2 -1.3 -2.2 -0.5 -5.6 -0.8 -13.5 -1.5 -3.4 -0.7 -1.5 -0.5 -0.7 -0.5 0 -0.5 0.9 -0.5 2.7 -0.7 6 -0.9 12.5 -1.4 3.5 -0.7 3.5 -1.4 2 -0.6 6 -0.6 0.4 -0.7 0.2 -2 0.5 -2 -0.3 -0.5 -1.8 -0.6 -1 -0.9 -0.2 -1.5 0.4 -1zM89.6 436.8l4.5 -0.3 4 0.4 1.7 0.4 1.1 0.5 0.6 0.5 0.3 1 -0.6 1 -0.7 0.5 -2.9 1 -3.5 0.4 -4 -0.3 -2.2 -0.6 -0.6 -0.5 -0.2 -0.5 0.1 -1 0.6 -1.5 0.8 -0.7zM77.1 445.3l1 -0.2 1 0 1 0.5 0.5 0.5 0.3 0.7 0 1 -0.8 1.2 -1 0.5 -1 0 -3 -1.6 -0.5 -0.6 -0.1 -0.5 0.6 -0.8 0.5 -0.3zM163.7 446.3l3.4 0.1 10.5 1.1 10.6 0.8 0 0.5 -3.6 0.5 -11.3 1 -9.2 0.4 -1 -0.3 -0.5 -0.4 -0.4 -0.7 -0.3 -1 0.2 -1 0.4 -0.5zM83.4 455.3l3.7 0.4 4 1.2 4 1.9 4.8 3 3.2 2.6 5.2 4.9 4.2 6.5 5.6 3.3 2 1.8 6 6.6 2.6 3.8 1.9 3.5 1.3 3 0.9 3.5 0.3 3 -0.1 1 -0.4 1 -0.9 0.5 -0.6 0.1 -2.5 -0.3 -15 -4.5 -6 -1.5 -6 -3 -2 -0.7 -1.5 -0.8 -1.7 -1.3 -3.3 -3.2 -1.7 -2.3 -1.2 -3 -2.9 -5.5 -1.7 -6.5 -4.2 -13.5 -0.5 -3 0.2 -1.5 0.5 -0.6 0.5 -0.2zM164.4 469.8l0.7 -0.4 1 0 5.5 1.1 4.4 1.3 3.6 1.6 2.2 1.4 1.2 1 0.2 0.5 -0.1 1 -0.8 2.5 -0.7 1 -1.1 1 -0.8 0.5 -1.7 0.5 -3.5 0.5 -4.4 0.3 -4.5 0.2 -1.5 -0.2 -0.5 -0.3 -0.5 -1.3 -0.3 -5.7 0.3 -3.2 0.3 -1.3 0.2 -0.8zM149 486.3l0.6 -0.1 0.5 0.2 0.5 0.5 0.8 1.4 0.6 3 0.1 4 -0.2 2.5 -0.4 1.5 -0.4 0.5 -0.8 0.5 -1.7 0.5 -1 -0.4 -0.6 -1.1 -0.5 -2.5 -0.1 -3 0.3 -3 0.5 -2 0.9 -1.8zM154.9 489.3l0.7 -0.4 0.5 -0.1 1 0.3 0.6 0.7 0.3 1 -0.1 10 -0.4 1 -0.4 0.3 -1 0.3 -1 -0.2 -0.5 -0.7 -0.1 -0.7 -0.1 -10 0.2 -1zM141.1 506.8l1 0.2 0.5 0.3 0.7 1 0.2 1 -0.8 3 -0.6 0.7 -0.5 0.2 -0.5 -0.2 -0.5 -0.5 -1.4 -2.2 -0.3 -1 0.2 -1 0.5 -0.8 0.5 -0.4z"/>
<path fill="#7597f6" fill-rule="evenodd" d="M45.3 321.3l11.2 0 0.1 4.5 0.6 1.5 1.4 1.9 0.5 2.1 0.1 52 -0.3 39.5 -0.1 2.5 -1.2 3 0.1 1.5 1.4 2.5 0.2 0.5 -0.2 2 0.3 0.5 0.7 0.4 1.5 0.6 2.8 0.5 8.2 0.3 2.5 0.4 1 0.5 1 0.8 1 2 1.2 1 -0.4 0.5 -3.8 1.9 -2.5 1.8 -1.5 0.4 -2.5 0.1 -0.5 0.3 -0.1 0.5 0.6 0.3 3.5 0.4 1.5 0.9 1.6 2.4 0.7 2 0.2 2 0 2.5 -0.5 2 -2.3 4 -2.8 4 -0.5 1 0.6 0.4 6 0.2 1.5 0.6 1 1 1 1.6 1 2.3 1.6 5.9 0.6 1.5 3 5.5 4.2 6 0.9 2.5 0.7 0.4 2.5 1 5.5 3.8 5.5 2.9 1.5 0.6 6.5 1.8 2.3 1 1.6 1 0.8 1 0.4 1 0.3 2 0 4 0.1 0.5 0.5 0.3 4.5 -3 4.5 -2.5 2 -0.5 3 0 2 0.4 1.5 0.4 2.5 1.7 0.6 0.7 0.4 1 0.4 3.5 0.6 0.3 0.4 -0.8 0.2 -2.5 0.2 -1 0.5 -1 1.6 -2 2.1 -3.7 1.4 1.2 1.1 0.4 0.9 0.6 1 1.5 0.5 2.5 0.4 8 0.2 1.5 0.6 1.5 0.4 0.5 0.5 0.3 0.5 -0.2 1.5 -1.7 0.5 0 2.1 3.1 0.6 0.5 0.8 0.3 1 -0.1 0.5 -0.3 2.5 -3.6 1 -0.4 1.5 -0.1 21 0.8 22.6 1.9 8.7 0.5 19.2 0.5 20 0.1 2 0.2 4.5 1.1 7 0.1 0 19 -187.1 0 0 -5.5 -0.4 -1.4 -0.9 0.9 -0.4 1 -0.1 5 -22.7 0 -0.1 -5 -0.8 -1.3 -6.5 -6.7 -7 -6.6 -1 -0.6 -3 -0.1 0 -22.5 3 0 1 -0.5 0.8 -0.7 -1.2 -0.5 -3.6 0 0 -175.8 2.5 0 0.5 -0.1 0.5 -0.5 0.6 -1.6zM60.1 446.7l-0.4 0.6 0.4 0.5 0.5 0.1 1.5 0.1 0.5 -0.2 0.5 -0.5 -0.3 -0.5 -0.7 -0.3 -1 0zM71.6 502.2l-0.2 0.1 1.2 0.3 2.5 1 3.7 2.2 2.7 2.5 2.8 4.5 1.2 3 0.1 0.8 0.2 -2.3 -0.1 -5.5 -0.6 -0.6 -2 -0.4 -0.6 -0.5 0.1 -1 0.7 -1.5 -0.2 -0.4 -1.5 0.8 -1.1 0.1 -0.5 -0.5 -0.4 -2 -0.3 -0.5 -0.7 -0.2 -5 -0.1zM86.1 520l-0.5 1.8 0 2 0 2 0.5 1.4 0.2 -3.4zM97.6 521.3l-1.5 0.9 -0.8 1.1 -0.2 1.5 0.8 1.5 1.5 1 1.7 0.3 2.2 -0.3 1.5 -1 0.6 -1 0.2 -1 -0.3 -1 -0.6 -1 -1.1 -0.8 -1 -0.4 -1.5 -0.1zM141.1 524.5l-0.5 0.7 -0.1 1.1 0.1 0.8 0.5 0.7 0.5 -0.1 0.5 -1.4 -0.4 -1.5zM62.1 484.7l-1 0.7 -0.9 1.4 -0.3 1.5 0.1 1.5 0.6 1.5 0.9 1 1.1 0.5 1 0 1.5 -0.7 1 -1.2 0.5 -1.6 -0.1 -1.5 -0.5 -1.5 -0.9 -1.1 -1.5 -0.7zM60.1 501.8l3.5 0.3 4.8 -0.3 -4.8 -0.3zM62.6 521.3l-0.5 0.4 0 0.6 0.9 1.5 1.6 1.3 1 0.3 0.5 -0.1 0.2 -0.5 -0.1 -0.5 -0.9 -1.5 -1.2 -1.1 -1 -0.4zM167.9 321.3l28.4 0 0 3 0.1 0.5 0.5 0.5 1.4 0.5 3.8 0.6 3.3 0.9 9.7 1.9 7.2 1.6 7.7 2.5 2.2 1 2.2 1.5 0.9 1 0.6 1 0.3 2 -0.5 2.5 -1.5 3 -1.6 1.9 -1.5 1.1 -4.5 1.7 -2 1.3 -2 2 -1.3 2.5 -0.4 1.5 -0.2 1.5 0.4 6.5 0.3 1.5 0.7 0.5 2.5 0.6 5.5 0.2 2 -0.2 1.9 -0.6 2.1 -1.3 1.7 -1.7 0.8 -1.5 1.1 -3 0.9 -1.7 1.5 -1.8 2 -1.6 3.5 -1.8 3 -0.9 2 0.1 1 0.5 1 0.8 1 1.2 1 1.7 1.5 4 1.6 6.5 2.9 13.9 1 3.7 0.5 1.1 0.5 0.6 0.5 0.3 6 0 0 35 -6.5 0 -4.5 1.3 -3 0.2 -47 0.1 -34.5 -0.6 -1.5 -0.2 -1.5 -0.5 -1.5 -0.8 -1 -0.9 -2 -2.2 -0.9 -1.5 -0.6 -2 -0.1 -2 -0.6 -34 0.1 -45 0.3 -3.5 1.6 -4.5zM152.5 361.3l0.1 -0.4 0.5 0.5 0.5 2.2 2 10.9 1 7.3 1.2 15 1 22.5 0.7 2 2.1 2.4 1.4 2.1 2.2 1.5 2.4 2 2 0.7 21 0.8 14 1 11.6 1.5 10.9 2 1.4 0.5 -0.8 0.5 -2.8 0.5 -11.6 1.5 -5.6 0.5 -11.6 0.5 -31.5 0.5 -1 -0.1 -1 -0.4 -0.6 -1 -1.4 -4.4 -2 -3.9 -3.5 -1.7 -5.5 -1.9 -0.5 -0.6 -0.3 -1 0.3 -22.4 0.5 -17 1 -11.7 1.5 -10.9zM140.1 412.8l0.5 1.1 0.5 2.8 0.8 7.1 0 1 -0.3 1 -0.5 0.5 -0.5 0.2 -1 -0.1 -0.8 -0.6 -0.4 -0.5 -0.1 -1 0.1 -3.5 0.4 -3.5 0.8 -3.7zM111.4 419.3l0.7 0.1 0.5 0.9 0.6 2 0 1.5 -0.4 0.5 -0.7 0.2 -2.4 -0.2 -0.9 -0.5 -0.2 -0.5 0.2 -1 1.2 -2zM137.1 430.8l8.5 -0.1 1.5 0.5 0.7 0.6 0.2 1 -0.5 1 -1.4 0.7 -3 0.5 -0.6 0.3 0 0.5 0.8 2 0.1 3 0.2 0.5 1.5 1.7 2 1.8 1 0.3 3 0.2 2 0.8 0.5 -0.4 0.1 -0.4 0.7 -3.5 0.7 -0.9 0.5 -0.3 1 0 0.5 0.3 0.6 0.9 0.3 1 0 8 -0.3 1 -0.6 0.7 -1.5 0.2 -0.9 -0.4 -0.6 -0.9 -0.5 -1.9 -0.5 -0.4 -2 0.8 -3 0.3 -0.4 0.1 -0.3 0.5 -0.1 3 -0.3 2.5 -0.6 2 -1.3 3.4 -0.5 2.9 -2.1 16.7 -0.6 3 -0.3 0.8 -0.5 0.7 -0.5 -0.1 -0.2 -0.4 -0.8 -2.3 -0.7 -4.2 -1.2 -10.5 -1 -7 -1.4 -3.5 -0.8 -3.5 -0.4 -0.4 -3.5 -0.7 -3.4 -1.4 -7.1 -1.1 -12.7 -1.4 -3.3 -0.7 -1.1 -0.3 -0.8 -0.5 0.1 -0.5 0.9 -0.5 2.9 -0.7 18.5 -2.3 2.6 -0.5 2.9 -1.2 2 -0.5 2.5 -0.3 3 -0.1 0.6 -0.4 0.4 -3.5 0.7 -1.5 0 -0.5 -2.7 -0.9 -0.6 -0.6 -0.2 -0.5 0 -1.5 0.4 -0.5zM86.6 431.3l1 -0.2 9.5 0 0.7 0.2 0.6 0.5 0.3 1 -0.2 0.5 -0.4 0.4 -1 0.3 -10 -0.1 -0.6 -0.1 -0.4 -0.3 -0.3 -0.7 0.2 -1zM91.6 436.8l4 0 3 0.5 1.3 0.5 0.7 0.5 0.3 0.5 0.1 0.5 -0.7 1 -1.2 0.7 -2 0.6 -2 0.2 -2.5 0.1 -2 -0.2 -2 -0.6 -1 -0.6 -0.2 -1.2 0.8 -1.5 0.9 -0.6zM77.7 445.3l0.9 -0.1 1 0.2 0.5 0.4 0.7 1 0 1 -0.2 0.5 -0.5 0.5 -1 0.6 -0.5 0.1 -1 -0.3 -2.8 -1.9 0 -0.5 0.2 -0.5 0.6 -0.4zM163.3 446.8l1.8 -0.2 3.5 0.3 5.8 0.9 1.5 0.5 -0.4 0.5 -3.9 0.9 -4.5 0.4 -3 0.1 -1 -0.4 -0.7 -1 -0.1 -1 0.3 -0.6zM82.1 456.3l1 -0.3 2 -0.1 2 0.3 2.5 0.6 4 1.7 4.8 2.8 2.7 2 6.5 6 4.5 7 5.5 3.2 2 1.6 6.5 7.2 2.4 3.5 1.7 3 1.2 3 0.8 3 0.3 3 -0.1 1 -0.4 1 -0.6 0.5 -0.8 0.2 -2 -0.2 -5.5 -1.5 -9.5 -3 -6 -1.4 -6 -3.1 -2 -0.6 -1.5 -0.7 -1.5 -1.2 -1.5 -1.7 -1.6 -1.3 -1.3 -1.5 -0.9 -1.5 -0.8 -2.5 -3.1 -6 -1.5 -6 -4.3 -14 -0.3 -2.5 0.3 -1zM164.5 475.3l0.6 -0.4 0.5 0 2.3 0.4 1.3 0.5 0.4 0.5 0 0.5 -0.7 1 -1.2 1 -1.6 0.7 -1 -0.1 -0.5 -0.6 -0.3 -1.5 -0.1 -1zM148.7 487.3l0.9 -0.3 0.5 0.2 0.8 1.1 0.7 2.2 0.3 2.8 -0.1 3 -0.4 2.5 -0.7 1 -1.6 0.6 -1 -0.1 -0.6 -1 -0.6 -2 -0.2 -2.5 0.1 -2.5 0.3 -2 0.8 -2zM155.9 489.3l0.7 0.1 0.6 0.4 0.3 0.5 0.1 1 0 9.5 -0.5 0.8 -1 0.4 -1 -0.4 -0.4 -0.8 0 -1 0 -9 0.4 -1.1zM140 507.3l1.1 -0.4 1 0.2 0.8 0.7 0.4 1 0 1 -0.5 2 -0.7 0.9 -0.5 0.3 -0.5 -0.2 -0.4 -0.5 -1.6 -2.5 -0.1 -0.5 0.2 -1z"/>
<path fill="#7ea1fa" fill-rule="evenodd" d="M46 321.3l9.4 0 0.1 4.5 0.8 1.5 1.8 2.2 0.6 1.8 0.2 5 -0.1 41 -0.7 46 -0.2 2 -0.8 2.5 -0.1 1 0.1 1 0.9 2.5 0 2.5 0.3 0.5 0.8 0.8 1 0.6 1 0.3 2.8 0.3 8.7 0.2 2.5 0.4 1.5 0.9 1.2 2 1.1 1 -0.8 0.8 -2.5 1.2 -3 2.1 -1.5 0.3 -2.5 0.2 -0.7 0.4 0 0.5 0.7 0.4 3 0.2 1 0.4 1 0.8 0.9 1.2 0.8 1.5 0.5 2 0.2 1.5 -0.2 2.5 -0.9 2.5 -1.9 3.5 -3.9 5 -0.4 1 0.9 0.3 7 0.2 1.5 0.6 1 0.9 1.6 3 1.7 6 0.6 1.5 3 5.5 4.2 6 0.9 2.9 0.5 0.3 2.5 0.7 6.5 4.4 5.5 2.9 6.6 1.8 2.4 1 1.5 1 0.9 1 0.4 1.5 0.2 7 0.3 0.5 0.2 0.1 1 -0.5 4.8 -3.6 4.2 -2.3 2 -0.6 2.5 -0.2 2 0.3 2 0.6 1 0.5 1.5 1.1 0.9 1.6 0.3 3.5 0.3 0.4 0.5 0.1 0.5 -0.6 0.2 -2.9 0.5 -1.5 1.8 -2.4 1.5 -2.9 0.5 -0.6 1.5 1.3 1.5 0.7 0.7 0.9 0.5 1 0.4 3 0.2 8.5 0.4 2 1.3 1.5 1 0.1 1.5 -0.8 0.5 0 2.2 1.7 1.3 0.5 1 -0.1 0.7 -0.4 2.3 -2.6 1 -0.4 2 -0.1 13 0.5 20.9 1.1 14.7 0.5 42.4 0.4 2 0.2 1.7 0.4 1.2 0.5 2.1 1.3 6.5 0.1 0 17.6 -186.9 0 0 -6.5 -0.1 -0.6 -0.5 -0.5 -1.2 1.6 -0.5 1 0 5 -22.3 0 0 -5 -1 -1.5 -6.8 -7 -6.7 -6.3 -1 -0.5 -3 -0.1 0 -22 3 -0.1 1 -0.5 1.5 -1 0 -0.5 -0.5 -0.1 -5 -0.1 0 -174.5 3 -0.2 1 -1.1 0.8 -2zM59.6 446.8l-0.2 0.5 0.4 0.5 1.3 0.4 1.5 -0.2 0.4 -0.2 0.4 -0.5 -0.3 -0.5 -1.5 -0.5 -1 0.1zM97.6 519.7l-1.5 0.6 -1 0.6 -0.9 0.9 -0.6 1 -0.3 1 0 1 0.3 1 0.6 1 1.4 1.1 0.9 0.4 1.1 0.1 4 -0.2 1.5 -0.4 0.8 -0.5 0.9 -1 0.5 -1.5 -0.1 -1.5 -0.8 -1.5 -1.3 -1.2 -1.5 -0.7 -2 -0.4zM141.1 524.2l-0.5 0.6 -0.3 1.5 0.3 1.3 0.5 0.5 0.7 -0.3 0.4 -1.5 -0.3 -1.5 -0.3 -0.5zM62.6 482.8l-1 0.3 -1 0.6 -1 1.4 -0.5 2.8 0 2.9 0.4 1.5 1.1 1.3 1.5 0.9 1.5 0.2 1 -0.3 1 -0.5 1.5 -1.6 0.8 -2 0.2 -2 -0.6 -2.5 -1.4 -1.9 -1.5 -0.9 -1 -0.3zM61.6 500.8l-2.8 0.5 -0.4 0.5 0 0.5 1.2 0.2 10 0.1 3 0.4 2 0.7 2.5 1.3 2 1.4 2 1.9 1.2 1.5 1.5 2.5 1.1 3 0.3 3.5 0.1 9.5 0.3 0.8 0.5 0 0.4 -0.3 0.4 -1.5 0.2 -3.5 -0.6 -8 -0.3 -7.5 -0.2 -0.5 -0.4 -0.2 -1.4 -0.3 -0.6 -0.3 -0.2 -0.7 0.8 -1.5 1.7 -2 0.2 -0.5 -0.4 -0.5 -0.6 0.1 -3 2.3 -1 0.2 -0.5 -0.4 -0.5 -1.9 -0.5 -0.5 -0.5 -0.1 -7 -0.2 -7.5 -0.6zM62.1 521.3l-0.2 0.5 0.2 0.8 1.2 1.7 1.8 1.2 0.5 0.1 0.7 -0.3 0.2 -0.5 -0.3 -1 -1.2 -1.5 -1.5 -1 -0.9 -0.2zM169.7 326.8l5.4 -0.3 13.5 0.4 14 1 8 1.4 4.4 1 2.1 0.7 2.7 1.3 2.3 1.5 1.3 1.5 1 2 0.7 3 0.1 3 -0.2 1.5 -0.5 1.5 -3.9 6.4 -0.7 1.6 -0.5 2 -0.2 3 0.7 4.5 0.2 3 0.2 1 0.8 0.6 2.5 0.5 7 0.5 3 -0.3 2 -0.7 2 -1.2 6.5 -5.5 1.5 -0.7 1.5 -0.2 2.5 0.1 2.5 0.8 1.5 0.8 2.5 2.1 1.5 2 1 2.2 1.4 4.5 0.7 3 1.9 11 2 19.5 0.5 2.4 0.5 0.5 0.5 0.1 5 0 0 6.9 -5.5 0 -0.5 0.3 -1.1 2.8 -1.4 1.5 -2.2 1 -2.8 0.4 -46.5 0.1 -35 -0.6 -1.5 -0.1 -1.5 -0.4 -1.5 -0.8 -1 -0.7 -2.6 -2.9 -0.7 -1.5 -0.5 -2 -0.6 -35.5 0.1 -46.5 0.3 -2 0.5 -1.3 1 -1.1zM152.5 376.8l0.1 -0.4 0.5 0.4 0.5 1.9 1.4 7.6 0.9 6 0.7 8.5 0.9 18.5 0.9 2 3 3 1.2 1.9 1.8 1.1 3.2 3.1 2 0.8 17.5 0.8 9.8 0.8 11.2 1.8 3.6 0.7 1.1 0.5 -0.6 0.5 -6 1 -8.6 1 -5.5 0.3 -27.5 0.8 -1.1 -0.1 -0.7 -0.5 -0.9 -2 -2.3 -7.7 -2.5 -0.6 -6.8 -2.2 -0.7 -0.5 -0.4 -1 0.4 -18 0.5 -11.9 1.1 -11.1 0.9 -5.8zM140 417.3l0.1 -0.1 0.5 0.5 0.5 2.3 0.4 3.3 -0.1 2 -0.3 0.5 -0.5 0.3 -1.1 -0.3 -0.4 -0.5 -0.3 -1 0.3 -4 0.5 -2.1zM136.7 431.3l1.4 -0.3 7.5 0 1 0.3 0.5 0.4 0.4 0.6 0 0.5 -0.2 0.5 -0.4 0.5 -0.8 0.4 -3 0.4 -2 0.7 -0.5 -0.1 -0.9 -0.4 -2.6 -0.6 -0.7 -0.4 -0.3 -0.5 -0.1 -1zM86.6 431.8l1 -0.3 9.5 0.1 0.6 0.2 0.4 0.5 0.1 0.5 -0.3 0.5 -0.8 0.3 -9.5 0 -1.1 -0.3 -0.2 -0.5 0 -0.5zM140.1 435.8l0.5 -0.4 0.5 -0.1 1 0.8 0.5 0.7 0.4 1 0.1 3 0.3 0.5 1.7 2.1 2.5 2 3.5 0.2 1.3 0.7 0.7 0.9 0.5 0 0.5 -1.9 0.4 -3 0.6 -0.9 1 -0.3 0.7 0.2 0.7 1 0.2 1 0 7.5 -0.1 0.5 -0.5 0.8 -0.5 0.2 -1 0.1 -1 -0.6 -1 -3.9 -0.5 0 -0.6 0.9 -0.9 0.6 -1 0.3 -3 0.1 -0.7 0.5 -0.2 5 -0.4 2 -1.2 2.9 -0.3 1.1 -1 7 -1.3 11 -0.7 3.5 -0.7 1.3 -0.5 -0.1 -0.4 -0.7 -0.6 -2.3 -2.6 -19.7 -0.2 -1 -1.4 -3 -0.8 -3.5 -3.5 -0.8 -3.5 -1.5 -7.5 -1 -11 -1.3 -3.5 -0.7 -1.6 -0.7 0 -0.5 0.6 -0.3 2.5 -0.7 19.5 -2.5 6 -1.9 2.5 -0.2 3 0 0.5 -0.6 0.4 -3.8 0.6 -1.1zM89.8 437.3l3.8 -0.4 3.5 0.3 1.5 0.4 1 0.6 0.5 0.6 0.1 0.5 -0.2 0.5 -0.9 0.7 -2.3 0.8 -3.2 0.3 -3 -0.3 -2 -0.6 -0.6 -0.4 -0.2 -0.5 0 -0.5 0.3 -1 0.5 -0.5zM76.4 445.8l1.7 -0.5 1.5 0.3 0.8 0.7 0.3 0.5 0 1 -0.3 0.5 -0.4 0.5 -0.9 0.5 -0.5 0.1 -1 -0.3 -2.6 -1.8 0 -0.5 0.3 -0.5zM163.1 447.3l1.5 -0.3 3.5 0.3 2.7 0.5 0.8 0.5 -0.7 0.5 -2.1 0.5 -3.2 0.3 -1.5 0 -0.8 -0.3 -0.4 -0.5 -0.2 -0.5 0 -0.5zM82.6 456.8l1 -0.2 2 0 4 0.7 4 1.6 4.8 2.9 3.1 2.5 5.4 5 1.7 2.4 3 4.9 6 3.6 2 1.6 6.5 7.2 2 3 1.6 2.8 1.4 3.5 0.6 3 0.1 3 -0.3 1 -0.4 0.4 -1.5 0.3 -2 -0.3 -14 -4.1 -6 -1.5 -5.5 -2.8 -2.5 -0.7 -1 -0.5 -1.9 -1.3 -1.6 -1.9 -1.5 -1.2 -1.2 -1.4 -0.9 -1.5 -0.9 -2.9 -2.5 -4.6 -0.5 -1.3 -1.3 -5.2 -4.3 -14 -0.3 -2.5 0.3 -1zM149.5 487.8l0.9 0.5 0.7 1.4 0.5 2.6 0.1 2.5 -0.2 2.5 -0.4 1.5 -0.9 1 -1.1 0.3 -0.8 -0.3 -0.7 -1.2 -0.5 -2.3 -0.1 -2.5 0.2 -2.5 0.7 -2 0.7 -1.1zM156 489.8l0.6 0.2 0.4 0.3 0.2 1.5 0 8.5 -0.1 0.5 -0.4 0.5 -0.6 0.2 -0.5 -0.1 -0.5 -0.5 -0.1 -1.1 0 -9 0.2 -0.5 0.4 -0.4zM140.2 507.3l0.9 -0.3 1 0.2 0.6 0.6 0.5 1 0 1 -0.6 2 -0.5 0.7 -0.5 0.2 -0.7 -0.4 -1.7 -2.5 -0.1 -0.5 0.2 -1z"/>
<path fill="#88abfd" fill-rule="evenodd" d="M47.5 321.3l6.3 0 0.2 4 0.9 1.5 2.6 3 0.6 1 0.3 1.5 -0.1 38.5 -1 52.5 -0.1 2 -0.7 2.5 -0.1 1 0.7 3.5 0.1 2.5 0.4 1 0.8 1 1 0.5 3.7 0.3 9 0.2 2.5 0.3 1.5 0.7 1.4 2 1.1 1 -0.2 0.5 -3.1 1.5 -2.7 1.9 -1.5 0.4 -2.5 0.1 -0.9 0.6 0 0.5 0.4 0.4 3.5 0.4 1 0.3 1 0.8 1.1 1.6 0.4 1 0.6 2 0.1 2 -0.4 2.5 -1.9 4 -1.9 2.8 -3.5 4.2 -0.6 1 -0.1 0.5 0.7 0.3 6 0 2.5 0.1 1.5 0.6 1 0.9 1.5 2.8 1.8 6.3 2.9 5.5 4.5 6.5 0.8 3.1 0.5 0.4 2.4 0.5 1.1 0.5 5.5 3.8 5.5 3 1.5 0.6 5.9 1.6 2.7 1.5 0.8 1 0.5 1.5 0.1 2.5 -0.1 5.5 0.1 0.6 0.5 0.3 1.5 -0.9 4.5 -3.6 2.5 -1.6 3.5 -1.7 1.5 -0.4 1.5 -0.1 2 0.1 2 0.5 1.5 0.7 1 0.7 0.8 0.9 0.5 1 0.3 3.5 0.4 0.6 0.5 0 0.6 -0.6 0.2 -3 0.5 -1.5 1.6 -2 1.3 -2.5 0.8 -1.1 1.5 1.3 1.5 0.9 0.8 1.4 0.5 3 0.3 11 0.4 1.5 1.5 0.6 1 0.1 2 -0.4 2.6 1.2 1.4 0.2 1 -0.3 2 -1.6 1 -0.6 2 -0.2 49.5 0.9 41 0.2 3.8 0.4 1.1 0.5 2.1 2.6 1 0.7 6.5 0.1 0 15.6 -186.7 0 0 -6 -0.3 -2.6 -0.5 0.3 -1.5 2.3 -0.5 1 0 5 -21.9 0 0 -5 -0.2 -0.5 -0.9 -1.2 -6.6 -6.8 -6.9 -6.4 -1 -0.6 -3 0 0 -21.6 2.5 0 1 -0.3 2.6 -1.6 0.5 -0.5 -2.1 -0.4 -4.5 0 0 -76.6 2.5 0 0.5 -0.5 0.3 -1.5 0.1 -3 -0.4 -17.9 -0.5 -4.9 -0.5 -0.8 -2 -0.1 0 -67.9 2.5 -0.1 0.5 -0.1 0.5 -0.5 2.8 -4.2zM60.6 446.2l-1.3 0.6 -0.2 0.5 0.3 0.5 1.2 0.5 1.5 0 1.2 -0.5 0.4 -0.5 -0.2 -0.5 -0.9 -0.5zM98.1 518.3l-2 0.4 -1.5 0.8 -1.5 1.1 -1 1.2 -0.7 1.5 -0.1 1 0.2 1 0.8 1.5 1.5 1.5 0.9 0.5 0.9 0.2 2 0 4.5 -0.3 2.2 -0.4 1 -0.5 1.2 -1.5 0.5 -1.5 -0.2 -2 -0.8 -1.5 -1.5 -1.5 -1.9 -1 -2 -0.5zM141.1 523.9l-0.5 0.4 -0.2 0.5 -0.2 1.5 0.3 1.5 0.6 0.6 0.5 -0.1 0.4 -0.5 0.3 -1.5 -0.2 -1.6 -0.5 -0.7zM62.1 481.2l-1 0.4 -1 0.7 -0.5 0.6 -0.5 1.1 -0.5 4.1 -0.1 4.2 0.1 0.6 0.5 1 1.5 1.6 1.5 0.9 1.5 0.2 1 -0.2 1.5 -0.8 1 -0.9 1 -1.3 1.1 -2.6 0.2 -1.5 0 -1.5 -0.3 -1.5 -0.5 -1.4 -1.5 -2.2 -1 -0.8 -1.5 -0.7 -1.5 -0.2zM62.1 499.8l-3.5 0.8 -0.5 0.3 -0.5 1.4 0.5 0.3 1 0.2 10.5 0.1 2 0.2 2 0.4 1.5 0.6 2.5 1.4 1.5 1.1 2.2 2.2 1.4 2 1.1 2 0.9 3 0.3 3 0.1 10.4 0.5 0.7 1.4 -0.6 0.3 -0.5 0.5 -2 0.4 -3 -1.1 -8.5 -0.3 -7.5 -0.2 -0.6 -0.5 -0.3 -1.5 -0.5 -0.2 -0.6 0.5 -1 1.6 -2 0.3 -1 -0.2 -0.5 -0.5 -0.3 -1 0.2 -2.5 1.9 -1 0.3 -0.4 -0.6 -0.6 -1.5 -0.5 -0.2 -8.5 -0.4 -7.5 -1.1zM62.1 521.1l-0.3 0.7 0.1 0.5 0.5 1 0.8 1 1.9 1.3 1 0.1 0.5 -0.4 0 -0.5 -0.3 -1 -1.2 -1.5 -1.5 -1.1 -1 -0.2zM173.4 327.8l15.7 0.2 13 0.8 6 1 3.5 0.8 2.9 1.2 1.4 1 1.2 1.5 0.7 1.5 0.5 2 0.4 3 0.2 3.5 0 2.5 -1.2 7.5 -0.2 3.5 0.3 2.5 0.9 4.5 0.2 3.5 0.2 0.8 0.5 0.5 6 0.5 4.5 0.8 2.5 0 3.6 -0.6 6.9 -2.5 2 -0.3 2.5 0 3.5 0.4 2.5 0.7 1.5 0.8 2 1.8 1.5 2.2 1 2.7 1 4.5 1.1 6.7 0.8 12.5 0.2 14.5 -0.3 5.5 -0.4 1 -0.4 0.5 -1 0.6 -1.5 0.4 -4 0.2 -44 0 -34.5 -0.5 -2 -0.2 -1.5 -0.4 -1.5 -0.7 -1.6 -1.4 -1.4 -1.6 -0.9 -1.4 -0.6 -2 -0.1 -1.5 -0.6 -35 0.1 -45 0.1 -1.6 0.4 -1.4 0.6 -1.1 0.5 -0.3 1.5 -0.4zM152.5 390.3l0.1 -0.3 0.5 0.5 1.2 7.3 0.9 9 0.7 11 0.4 2 0.4 1 0.7 1 3.7 3 1 2 1.3 0.5 0.7 0.5 2.5 3 1 0.9 2 0.9 19 1.4 7.5 1 2.9 0.8 -0.8 0.5 -3.2 0.5 -8.4 0.8 -17.5 0.8 -4.5 0.5 -1 -0.2 -0.5 -0.3 -1 -2 -1.2 -4.6 -0.3 -3.7 -3 -0.1 -5 -1.2 -2.2 -1 -0.4 -0.5 -0.2 -0.5 0.4 -5.5 0.9 -18 0.8 -8zM140.1 420.8l0.5 0.2 0.4 2.3 0 1.5 -0.4 0.7 -0.7 -0.2 -0.4 -1 0.1 -1.8zM136.7 431.8l0.4 -0.3 1 -0.1 7.5 0 1 0.4 0.3 0.5 0.1 0.5 -0.2 0.5 -0.7 0.5 -4.5 0.6 -1.5 0 -3.1 -0.6 -0.5 -0.5 -0.1 -0.5zM87.4 432.3l9.2 -0.1 0.5 0.2 0.1 0.4 -1.1 0.2 -8 0 -1 -0.2zM140.2 436.3l0.9 -0.2 1.1 0.7 0.5 1 0.1 3 2.3 2.9 2.5 1.9 3 0.2 1 0.3 0.7 0.7 0.2 1 -0.6 1 -0.8 0.4 -4 0.3 -0.6 0.3 -0.1 5.5 -0.5 2 -1.3 3.4 -2.2 17.1 -0.8 3.7 -0.5 0.9 -0.5 -0.1 -0.4 -1 -0.6 -2.4 -2.4 -18.1 -1.5 -3.5 -0.8 -3.5 -0.8 -0.5 -2 -0.3 -1.5 -0.4 -3 -1.4 -17 -2.1 -4 -0.8 -0.9 -0.5 0.1 -0.5 0.8 -0.4 2.6 -0.6 18.4 -2.4 3.5 -1.2 2 -0.5 2 -0.2 3.5 0.1 0.4 -0.8 0.2 -3.5 0.4 -1zM91.3 437.3l3.3 -0.1 2.5 0.3 1.9 0.8 0.4 0.5 0.1 0.5 -0.3 0.5 -1.1 0.7 -1.5 0.5 -1.5 0.3 -3.5 -0.1 -1.7 -0.4 -1.3 -0.6 -0.4 -0.4 -0.1 -0.5 0.5 -1 1 -0.6zM155.4 441.8l0.7 -0.2 0.5 0.1 0.5 0.6 0.2 1 0 7.5 -0.1 0.5 -0.4 0.5 -0.7 0.3 -1 -0.3 -0.3 -0.5 -0.5 -3.5 0.5 -5zM77 445.8l1.6 -0.4 1.2 0.4 0.8 1 0 1 -0.3 0.5 -1.2 0.9 -1 0 -0.8 -0.4 -2 -1.5 -0.1 -0.5 0.4 -0.5zM163.4 447.8l0.7 -0.3 1.5 0 1.8 0.3 0.7 0.5 -1.3 0.5 -2.2 0.2 -1 -0.3 -0.3 -0.4zM83.5 457.3l1.1 -0.2 2 0.1 4 1 3.6 1.6 4.1 2.5 7.8 7 2 2.8 3 5 6.3 3.7 2.2 1.8 6.5 7.2 3 5 1.3 3 0.7 3 0.1 3 -0.6 1.3 -1 0.4 -2.5 -0.2 -13 -3.9 -6.5 -1.6 -5.5 -2.8 -2 -0.4 -1.5 -0.6 -1.7 -1.2 -1.7 -2 -1.8 -1.5 -1.8 -2.5 -0.8 -3 -2.7 -5.3 -1.6 -6.2 -3.4 -10.8 -0.7 -2.7 -0.2 -2 0.4 -1zM148.8 488.8l0.8 -0.3 0.5 0.3 0.5 0.6 0.6 1.9 0.3 2.5 -0.2 2.5 -0.4 2 -0.6 1 -1.2 0.4 -0.7 -0.4 -0.5 -1 -0.4 -1.5 -0.2 -2 0 -2 0.3 -1.6 0.5 -1.4zM155.9 490.8l0.2 -0.1 0.2 0.1 0.1 1 0 8 -0.3 0.9 -0.4 -0.4 -0.1 -0.5 0 -8.4zM140.4 507.3l0.7 -0.2 1 0.3 0.5 0.4 0.5 1 -0.1 1 -0.7 2 -0.2 0.4 -0.5 0.3 -0.5 -0.2 -1.8 -2.5 -0.1 -0.5 0.2 -1z"/>
<path fill="#92b4fe" fill-rule="evenodd" d="M49.8 326.3l0.8 0 3 0.8 1.5 0.9 1.3 1.3 0.8 1 0.5 1.5 0.2 1.5 -0.2 35.5 -1.1 55 -0.1 1.5 -0.6 2.5 -0.1 1 0.6 3.5 0.1 2.5 0.3 1.5 0 1 3.4 0.5 10.9 0.2 3 0.2 1.5 0.6 0.6 0.5 0.9 1.5 1.3 1 -0.3 0.5 -3 1.5 -2.5 1.8 -1.5 0.4 -2.5 0.1 -0.6 0.2 -0.4 0.5 -0.1 0.5 0.6 0.6 3.5 0.3 1 0.4 1 0.8 1 1.4 0.6 1.5 0.3 1.5 0.1 2 -0.5 2.5 -1.9 4 -2.1 3 -4.7 5.5 -0.6 1 0.1 0.5 0.7 0.2 9 -0.3 1.5 0.2 1.5 0.8 1 1.3 0.5 1.1 1.7 5.7 1 2 2.5 4.5 4.1 6 0.4 1 0.3 2.7 0.5 0.4 2 0.1 1.5 0.4 6 4.1 5.5 2.9 1.5 0.7 4.5 1.2 1.3 0.5 1.7 1 1 1.4 0.4 1.6 -0.3 9 0 0.5 0.4 0.5 1.5 -0.8 5.5 -4.5 2.5 -1.8 4 -1.9 2.5 -0.6 2 -0.1 2 0.4 1.5 0.6 1.5 1 0.7 0.7 0.4 1 0.4 3.5 0.5 0.7 0.5 0.1 0.5 -0.4 0.2 -0.4 0.2 -2.5 0.3 -1.5 0.6 -1 1.2 -1.5 1.3 -2.5 0.7 -0.8 1.5 1.3 1.5 1 0.7 1.5 0.4 3 0.2 11.5 0.2 1.9 0.5 0.5 1 -0.3 1 0.1 2.5 -0.3 3 1 1 0 1 -0.2 2.5 -1.6 3.5 -0.3 36 -0.1 52.5 0.1 4 0.3 1.1 0.4 0.5 0.5 1.6 3 1.3 3.3 1 1.2 -1 1.7 -0.6 1.8 0 7.5 -121.8 0 0 -4.5 -0.1 -0.5 -0.5 -0.2 -0.2 0.7 -0.1 4.5 -56.2 0 -0.1 -7.5 -0.1 -1.5 -0.3 -0.7 -2.7 4.7 -0.1 5 -21.5 0 0 -5 -0.2 -0.6 -1 -1.2 -6.9 -7.2 -6.6 -6.1 -1 -0.5 -3 0 0 -21.3 3 0 4.5 -2.6 -1.3 -0.5 -6.2 -0.1 0 -55.5 2.5 -0.1 0.6 -0.3 -0.6 -0.4 -2.5 -0.1 0 -18.3 2.5 0 0.5 -0.2 0.5 -0.7 0.5 -2.3 0 -3.5 -0.5 -33 -0.5 -17 -0.5 -8.2 -0.5 -1.8 -0.5 -0.2 -1.5 0 0 -29.3 2.5 -0.1 0.5 -0.6 0.9 -1.8 1.1 -1.7 1 -0.7zM60.1 446.2l-1.1 0.6 -0.2 0.5 0.3 0.5 1 0.5 1 0.2 1.5 -0.2 1.1 -0.5 0.2 -0.5 -0.1 -0.5 -1.2 -0.6 -1.5 -0.1zM141.1 523.6l-0.5 0.4 -0.4 0.8 -0.2 1.5 0.3 1.5 0.3 0.5 0.5 0.4 0.5 -0.1 0.5 -0.6 0.4 -1.7 -0.4 -2 -0.5 -0.6zM62.6 479.2l-1.5 0.6 -1 0.6 -1 1.1 -0.2 0.8 -0.5 3.5 -0.5 7.5 0.2 1.3 1.7 2.7 0.2 1 -0.3 0.5 -2.1 1.5 -0.6 2 0.2 0.5 1.9 0.2 10 0 3.5 0.4 2 0.6 2 1 2 1.4 1.5 1.4 1.4 1.5 1.4 2 0.9 2 0.5 1.5 0.4 3.5 0.1 10 0.3 2.1 0.5 0.1 2.1 -0.7 1.4 -2 0.5 -0.3 1 0.2 2.5 1.6 1.5 0.3 10.4 -0.8 1.7 -0.5 0.6 -0.5 0.8 -1 0.7 -1.5 0.1 -1 -0.1 -1.5 -0.7 -1.5 -1 -1.4 -1.3 -1.1 -1.7 -1 -3 -0.9 -1.5 -0.1 -2 0.1 -3.1 0.9 -3.9 2.3 -1 0.1 -0.5 -0.5 -0.6 -1.4 -0.6 -2.5 -0.5 -9 -0.3 -0.6 -1.3 -0.9 0.4 -1 0.9 -1.2 0.4 -0.8 0 -1 -0.1 -0.5 -0.3 -0.4 -1 -0.1 -1 0.2 -2 1.4 -0.5 0.1 -0.5 -0.3 -0.5 -0.9 -0.5 -0.3 -6.5 -0.3 -3.5 -0.4 -2.1 -0.5 -1.1 -0.5 -0.5 -0.5 -0.1 -0.5 0.2 -0.5 2.1 -3.4 1 -2.6 0.3 -3 -0.4 -2.5 -0.5 -1.5 -0.8 -1.5 -1.7 -2 -1.4 -0.9 -1 -0.5 -1.5 -0.2zM62.1 520.9l-0.4 0.4 0.1 1 0.5 1 0.8 1 1 0.9 1 0.5 1 0.2 0.5 -0.4 0.1 -0.7 -0.1 -0.5 -0.5 -1 -0.9 -1 -1.6 -1.2 -1 -0.3zM169.2 328.8l5.9 -0.2 13.5 0.2 13 0.7 4.5 0.8 2 0.6 2.3 0.9 1.4 1 0.9 1 0.8 1.5 0.6 2 0.4 4 0.8 15.5 0.6 3.5 1.4 5.5 0.2 4 0.3 1 0.8 0.3 5.5 0.2 5 1 3 0.4 2.5 0 8 -0.5 8.5 0.5 3.5 0.7 1.5 0.8 1 0.8 1 1.3 1 2.3 1 3.9 0.8 4.8 0.7 12.5 0.2 14.5 -0.2 5.5 -0.4 1 -0.4 0.5 -0.9 0.5 -1.3 0.3 -5 0.2 -42.5 0 -34.5 -0.5 -2 -0.2 -1.5 -0.4 -1.5 -0.8 -1.3 -1.1 -1.7 -2 -0.6 -1 -0.5 -1.5 -0.3 -1.5 -0.5 -35 0.1 -45.5 0.2 -2 0.4 -1 0.7 -0.7zM152.6 408.3l0 -0.3 0.5 1.1 0.7 8.7 0.4 2 0.9 1.5 4.5 3 1.1 1 0.2 1 -0.3 0.6 -0.8 0.4 -2.2 0.2 -5 -1.1 -1.2 -0.6 -0.7 -1 0 -1 1 -4.5 0.4 -7zM162.5 427.8l0.6 0.1 1 0.7 3 4.5 0.5 0.6 1 0.6 2 0.5 6.9 0.5 3.1 0.5 -1.7 0.5 -9.3 0.6 -5 1.1 -1 -0.2 -0.5 -0.4 -0.6 -1.1 -1.2 -5 0 -1.5 0.2 -1 0.6 -0.8zM137.8 431.8l7.7 0 0.6 0.3 0.3 0.7 -0.3 0.5 -1 0.2 -4 0.4 -3 -0.3 -1 -0.3 -0.2 -0.5 0.2 -0.7zM140.1 436.8l1 -0.2 0.5 0.1 0.5 0.6 0.3 1 0.1 2.5 2.5 3 1.1 0.7 1.5 1.5 3.5 0.3 0.7 0.5 0.3 1 -0.2 0.5 -0.8 0.6 -1 0.2 -3.5 0.1 -0.5 0.3 -0.1 0.3 0.3 3 -0.1 2 -0.4 2 -1.4 3.5 -2.1 16 -0.7 3.4 -0.5 1 -0.5 -0.2 -0.1 -0.2 -0.4 -1 -0.5 -2.4 -2.1 -16.1 -1.6 -3.5 -0.8 -3.7 -0.5 -0.4 -3.5 -0.7 -3.5 -1.5 -16 -2.1 -3.1 -0.6 -1 -0.5 0.1 -0.5 2 -0.7 5.1 -0.8 13.4 -1.7 2.5 -1 2 -0.6 3 -0.2 3 0.3 0.5 -0.2 0.2 -0.6 0.1 -3.5 0.3 -1zM90.3 437.8l2.8 -0.4 3 0.2 2 0.7 0.5 0.5 0.1 0.5 -0.3 0.5 -0.8 0.5 -1.5 0.5 -2 0.2 -2.5 -0.1 -2 -0.6 -0.7 -0.5 -0.2 -0.5 0.1 -0.5 0.4 -0.5zM155.6 442.3l0.5 -0.1 0.5 0.3 0.3 0.8 0 7.5 -0.3 0.6 -0.5 0.2 -0.5 -0.1 -0.5 -0.6 -0.2 -2.6 0.2 -5zM77.4 445.8l1.2 -0.3 1 0.3 0.5 0.4 0.4 1.1 -0.4 1.1 -1 0.7 -1 0 -0.6 -0.3 -1.8 -1.5 -0.1 -0.6zM83.4 458.3l0.7 -0.3 1 -0.1 2.5 0.1 3 0.8 2.5 1 2.7 1.5 2.2 1.5 6.8 6 0.9 1 1.4 2 3.5 6 3.8 2 4.2 2.7 4.5 4.7 3 3.5 2.5 4.3 1.3 3.3 0.4 2 0.2 2 0 1 -0.4 1.1 -0.5 0.4 -0.5 0.2 -2.4 -0.2 -5.5 -1.5 -7.1 -2.2 -6 -1.5 -1.9 -0.8 -3.6 -1.9 -2.5 -0.4 -1 -0.4 -1.4 -0.8 -1.1 -1 -1.2 -1.5 -2.3 -1.9 -1.1 -1.6 -0.6 -1.5 -0.5 -2.5 -2.4 -4.5 -1.7 -6.5 -3.7 -12.2 -0.3 -2.3 0.2 -1zM149.4 489.3l0.7 0.3 0.5 0.8 0.5 1.9 0.1 1.5 -0.1 2.5 -0.4 1.5 -0.5 1 -0.6 0.4 -0.5 0 -0.5 -0.4 -0.5 -1 -0.6 -3 0.1 -2 0.5 -2 0.5 -1zM140.8 507.3l0.8 0 0.5 0.2 0.5 0.5 0.4 0.8 -0.3 1.5 -0.6 1.5 -0.5 0.4 -0.5 -0.3 -1.4 -1.6 -0.4 -1 0.3 -1.1 0.5 -0.6z"/>
<path fill="#9bbcff" fill-rule="evenodd" d="M48.5 327.8l1.1 -0.3 1 0 3 0.5 1 0.4 1.1 0.9 0.8 1 0.6 1.5 0.1 1.5 0 23 -0.3 24 -1 44 -0.6 4 0.5 4 0 3.5 -0.2 0.7 -1.1 0.8 0.6 0.5 2 0.1 14 0.3 2.5 0.2 1 0.2 1 0.6 1.2 1.6 1.4 1 -0.2 0.5 -2.9 1.3 -2.5 1.9 -1.5 0.4 -3 0.2 -0.7 0.7 0 0.5 0.7 0.7 3.5 0.3 1.2 0.5 1 1 0.9 1.5 0.5 1.5 0.2 2 -0.2 2 -1.3 3.5 -1.8 3.1 -2 2.6 -5.1 5.8 -1.3 2 -1.1 2 -2.5 2.5 -1.4 2 -0.4 2 -1 12 0.4 3.5 -0.6 1.5 -0.4 2.5 -0.7 1 2.1 0.3 10.5 0.1 4 0.4 1.5 0.4 2 0.9 2 1.3 1.8 1.6 1.4 1.5 1.4 2 1 2 0.5 2 0.4 3.5 0.1 10.5 0 1 0.4 1.1 1 -0.6 2 -0.3 2 -0.8 3.5 0.5 12 -1 2.2 -0.4 2.1 -1.5 2.2 -2.2 2.5 -1.3 2 -1.4 8 -6.7 3.5 -2 3.5 -1.2 2 -0.2 1.5 0.1 2 0.6 1.4 0.8 1.1 1 0.5 1 0.3 3 0.2 0.9 0.5 0.5 0.5 0 0.5 -0.3 0.3 -0.6 0.2 -2.5 0.3 -1.5 0.6 -1 1.3 -1.5 1.3 -2.6 0.5 -0.4 3 2.5 0.6 1.5 0.2 3 0.2 12 0.5 3.8 1 -1.2 1 -0.4 3 -0.4 3 0.8 1 0.1 1 -0.2 2.5 -1.3 2 -0.2 22.5 -0.7 17 -0.2 48.5 -0.1 5 0.2 1.2 0.3 0.7 0.5 1.3 2.5 0.6 2 0.5 3 -0.5 4 0 7 -120.4 0 0 -5 -0.4 -0.6 -0.5 -0.1 -0.3 0.2 -0.3 0.5 -0.1 5 -55.6 0 -0.1 -9 -0.1 -1 -0.5 -0.7 -1.2 2.7 -1.8 3 0 5 -21.2 0 0 -5 -0.5 -1 -1.3 -1.5 -6.8 -7 -6.2 -5.7 -1 -0.5 -3 0 0 -20.9 2.5 0 1 -0.3 2 -1.3 2.9 -1.3 0.1 -0.5 -2.5 -0.2 -6 0 0 -55.1 3 0 0.3 -0.2 0.3 -0.5 -0.2 -0.5 -0.4 -0.2 -3 -0.1 0 -16.9 2.5 0 0.5 -0.2 0.5 -0.4 0.8 -2.2 0.2 -3 -0.8 -57.5 -0.2 -33 0.3 -2 0.9 -2 0.8 -0.9zM59.6 446.2l-0.9 0.6 -0.2 0.5 0.6 0.7 1 0.5 1 0.1 1.5 -0.1 1 -0.4 0.4 -0.3 0.2 -0.5 -0.2 -0.5 -0.4 -0.4 -1 -0.3 -1.5 -0.2zM62.1 520.7l-0.5 0.5 -0.1 0.6 0.4 1 0.7 1.1 1 1 1.4 0.9 1.1 0.2 0.5 -0.2 0.3 -0.5 -0.2 -1 -1.1 -1.7 -1 -1 -1 -0.6 -1 -0.3zM140.6 523.7l-0.5 1.1 -0.2 2 0.5 1.5 0.7 0.6 0.5 0 0.5 -0.6 0.4 -1 0.1 -1.5 -0.2 -1 -0.4 -1 -0.4 -0.4 -0.5 -0.1zM173.8 329.3l15.3 0.2 12.5 0.9 3.5 0.9 2 1 1.2 1 1 1.5 0.8 2.5 0.3 2.5 0.5 9 0.6 4.5 1.1 5 2.9 8.5 0.2 1.5 0.2 3.5 0.2 0.7 0.5 0.2 2 -0.1 4.5 0.1 7 1.8 4.5 0.8 17.5 1.3 3 0.8 2 1.4 1 1.4 1 2.5 1.1 5.1 0.7 12 0.2 14 -0.2 5.5 -0.2 1 -0.6 0.9 -1 0.4 -1 0.2 -6 0.2 -40.5 0.1 -35 -0.6 -2 -0.1 -1.5 -0.5 -1.2 -0.6 -1.3 -1 -1.7 -2 -0.8 -1.4 -0.5 -1.6 -0.1 -1.5 -0.6 -35.5 0.2 -44 0.2 -2 0.3 -0.8 0.5 -0.5 1.5 -0.5zM152.7 422.3l0.4 -0.1 3.5 1.3 1.8 0.8 1.3 1 0.3 0.5 -0.1 0.5 -0.8 0.5 -2 0.2 -3.3 -0.7 -1.5 -0.5 -0.5 -0.5 -0.1 -1 0.4 -1.3zM162.5 428.8l0.6 0 0.5 0.3 0.9 1.2 0.9 2 1.1 3 0.1 0.5 -0.5 0.5 -1.5 0.6 -1.1 -0.1 -0.4 -0.3 -0.5 -1.1 -0.7 -3.1 -0.1 -1.5 0.3 -1.5zM140.2 437.3l0.9 -0.3 0.5 0.3 0.4 1 0.2 2.5 0.3 0.5 1.2 1 1.1 1.5 1.3 0.9 1.5 1.6 3 0.3 0.6 0.2 0.4 0.5 0 0.5 -0.3 0.5 -0.7 0.3 -4 0.2 -0.9 0.5 -0.1 0.5 0.4 3 -0.1 2.5 -0.5 2 -1.3 3 -2 15 -0.5 2.5 -0.5 1 -0.5 -0.1 -0.1 -0.4 -0.9 -3.4 -1.9 -14.6 -1.6 -3 -0.9 -4 -0.6 -0.3 -3.5 -0.7 -3.5 -1.6 -14.8 -1.9 -2.3 -0.5 -1.2 -0.5 0.1 -0.5 1.3 -0.5 4.4 -0.8 13 -1.6 3 -1.2 2 -0.5 2.5 -0.2 3.5 0.4 0.5 -0.6 0.1 -0.5 0 -3 0.2 -1zM91.6 437.8l2.5 -0.1 2 0.2 1.1 0.4 0.6 0.5 0.1 0.5 -0.3 0.5 -1 0.5 -2.5 0.4 -2.5 -0.2 -1.9 -0.7 -0.3 -0.5 0 -0.5 0.6 -0.5zM77.7 445.8l1.4 -0.1 1 0.7 0.3 0.9 -0.1 0.5 -0.7 0.9 -0.5 0.3 -1 0 -1.1 -0.7 -0.8 -1 -0.1 -0.5zM85 458.8l2.6 0.1 3.5 0.8 2.5 1.1 3.3 2 5.2 4.5 2.6 2.5 3.4 5.3 1.5 3.3 3 1.3 2.7 1.6 2.8 1.8 1.5 1.4 5.5 6.1 1 1.3 1.5 2.6 1 2.3 0.8 3 0.2 2.5 -0.2 1 -0.3 0.5 -0.5 0.4 -1 0.1 -3 -0.5 -11 -3.3 -6 -1.5 -5 -2.4 -2 -0.1 -1 -0.3 -2.3 -1.4 -1 -1 -0.7 -1 -2 -1.6 -1 -1.1 -0.8 -1.3 -0.4 -1.5 -0.1 -2 -2.5 -5 -1.5 -6 -3.2 -10.2 -0.5 -2.3 -0.1 -1.5 0.4 -1zM72 473.8l3.1 -0.2 1.8 0.2 1.2 0.5 1 1 1 2.1 1.2 3.9 1 2 2.4 4.5 3.9 5.5 0.5 1 0.1 2.5 -0.3 1.5 -0.3 0.7 -5 0.8 -2 -0.2 -5.5 -0.2 -3.8 -0.6 -1.1 -0.5 -0.5 -0.5 -0.2 -0.5 0.2 -1 1.2 -3.5 0.6 -2.5 0 -2.5 -0.2 -2 -0.8 -2.5 -1 -2 -1.4 -1.9 -3 -3.1 -0.2 -0.5 0.3 -0.5 1 -0.5 1.7 -0.5zM148.9 490.3l0.7 -0.3 0.5 0.4 0.5 1 0.3 1.9 0 2 -0.2 1.5 -0.6 1.4 -0.5 0.3 -0.5 -0.1 -0.5 -0.5 -0.5 -1.3 -0.2 -1.3 0.1 -3 0.5 -1.5zM90 498.8l2.1 -0.2 2 0.3 5.5 3.8 2.5 1.4 4.5 2.3 5.7 1.9 1.3 1 0.6 1 0.3 1 -0.1 3.5 -0.3 2.8 -0.5 2.1 -0.5 1.3 -0.5 0.6 -0.5 0 -0.5 -0.3 -2.5 -2.5 -2.1 -1.5 -2.4 -1.2 -2 -0.6 -2.5 -0.4 -2.5 0.1 -2.5 0.5 -4 1.4 -1 -0.2 -0.5 -0.4 -0.5 -1 -0.5 -2.5 -0.3 -6.7 -0.3 -2 0.8 -5 0.3 -0.2zM140 507.8l0.6 -0.4 1 0 0.5 0.2 0.6 0.7 0.2 0.5 -0.1 1 -0.7 1.4 -0.5 0.6 -1 -0.7 -1 -1.3 -0.1 -1z"/>
<path fill="#a5c3fe" fill-rule="evenodd" d="M49.2 328.3l1.4 -0.1 2.5 0.4 1 0.2 0.9 0.5 0.9 1 0.5 1 0.3 3 -0.1 24 -0.3 21 -1.1 45 -0.5 4 0.5 3.5 0 2 -0.1 1.5 -0.5 1 -1 0.5 -1.8 0.5 -0.5 0.5 5.3 0.4 16.5 0.3 1.2 0.3 0.8 0.4 1.4 1.6 1.5 1 -0.2 0.5 -2.7 1.2 -2.5 1.9 -1.5 0.4 -3 0.2 -0.5 0.3 -0.3 0.5 -0.1 0.5 0.3 0.5 0.6 0.3 3.5 0.3 1 0.4 1 1 1 1.5 0.4 1.5 0.2 2 -0.2 2 -1.4 3.5 -2 3.4 -10 11.5 -3.4 4.6 -1 10.5 -0.7 5.5 -0.2 5.5 -0.2 0.5 -0.5 0.5 -0.9 0.5 0.9 0.3 1.2 0.2 11.3 0.1 4 0.3 2 0.5 2 0.9 1.8 1.2 1.7 1.4 1.5 1.6 1.4 2 0.8 1.5 0.7 2 0.4 4 0.2 13.4 0.5 0.5 0.4 -0.9 0.6 -0.5 0.5 -0.2 5.5 -0.1 6 -0.8 10.1 -0.9 0.9 -0.5 4 -3 9.3 -8 2.6 -2 3.1 -1.8 3.5 -1.3 2 -0.2 1.5 0.1 2 0.5 1.2 0.7 1.1 1 0.6 1 0.3 3.5 0.2 0.5 0.6 0.5 0.5 0.1 0.5 -0.3 0.4 -0.8 0.2 -2.5 0.3 -1.5 1.9 -2.5 1.2 -2.4 0.5 -0.4 0.5 0.2 1 1.2 1.1 0.9 0.4 0.6 0.4 1.4 0.2 2.5 0.1 10.5 0.3 7.9 0.5 0.7 0.8 -2.6 0.7 -1 1 -0.5 1.5 -0.3 1.5 0 3.5 0.8 1 -0.2 2.5 -0.9 1.5 -0.2 45 -1.7 33 -0.2 15 0.1 1 0.3 0.9 0.8 1.1 2 0.5 1.5 0.5 3.5 -0.4 4 0 7 -119.4 0 0 -5 -0.2 -0.5 -0.5 -0.4 -0.5 -0.1 -0.5 0.2 -0.4 0.8 -0.1 5 -55.2 0 0 -8.5 -0.3 -5.9 -0.1 1.9 -1.1 3 -1 2 -1.4 2 -0.1 0.5 -0.1 5 -20.7 0 -0.1 -5 -0.4 -0.9 -1 -1.2 -6.7 -6.9 -6.8 -6.3 -1 -0.5 -3 0 0 -20.5 3 -0.1 4 -2.3 3 -1.1 1.4 -0.2 -4.4 -0.4 -7 0 0 -54.6 3 0 0.8 -0.5 0.1 -0.5 -0.1 -0.5 -0.8 -0.5 -3 -0.1 0 -15.6 2.5 0 0.5 -0.2 0.5 -0.4 0.6 -1.2 0.5 -1.5 0.4 -3.5 -0.8 -53.5 -0.2 -37 0.2 -2 0.8 -1.7 1 -0.8zM61.6 445.8l-1.5 0.1 -1.1 0.4 -0.6 0.5 -0.1 0.5 0.2 0.5 1.1 0.7 2 0.2 1.5 -0.2 1.2 -0.7 0.2 -0.5 -0.2 -0.5 -0.6 -0.5zM62.1 520.6l-0.5 0.3 -0.2 0.9 0.4 1 0.8 1.2 1 1 1.2 0.8 0.8 0.3 1 -0.1 0.4 -0.7 0 -0.5 -0.4 -1 -0.7 -1 -1.8 -1.6 -1 -0.5zM141.1 523.1l-0.5 0.3 -0.5 0.7 -0.3 2.2 0.4 2 0.4 0.6 0.5 0.3 0.5 -0.1 0.5 -0.4 0.4 -0.9 0.2 -1.5 -0.1 -1.5 -0.4 -1 -0.6 -0.7zM169.6 330.3l5.5 -0.3 14.4 0.3 11.6 1.3 1 0.2 1 0.5 1.2 1 0.8 1 0.6 1.5 0.4 1.5 0.3 3 0.4 10.5 0.9 5.5 1.2 3.5 3.2 5.8 1 2.2 0.5 2 0.3 4 0.2 0.6 0.5 0.2 2 -0.3 3 0 2.5 0.3 9.5 3.4 5 1.2 4.5 0.5 8.5 0.4 3 0.3 2.5 0.8 1 0.5 1 0.9 1 1.5 1 2.7 1 11.5 0.3 16.5 -0.2 4.5 -0.2 1 -0.4 0.5 -0.8 0.5 -1.2 0.2 -6 0.2 -40 0.1 -35 -0.6 -1.5 0 -1.6 -0.4 -1.9 -1 -1 -0.9 -2 -2.7 -0.5 -1.4 -0.3 -1.5 -0.5 -35.5 0.2 -44 0.1 -1.5 0.5 -1.3 0.5 -0.4zM153.3 424.3l1.8 -0.1 1.5 0.2 1.5 0.7 0.6 0.7 -0.6 0.5 -2.1 0 -2.9 -1 -0.2 -0.5zM162.6 430.3l0.5 -0.3 0.5 0.4 0.9 1.9 0.1 2.5 -0.1 0.5 -0.4 0.4 -0.5 -0.1 -0.2 -0.3 -0.8 -2 -0.2 -1.5zM140.6 437.8l0.5 -0.1 0.4 0.6 0.2 2.5 0.4 0.5 1.5 1 1 1.6 1.5 0.9 1.5 1.9 2.5 0.2 0.7 0.4 0.1 0.5 -1 0.5 -3.3 0.2 -0.8 0.3 -0.5 0.5 0.5 3 0 2.5 -0.5 2 -1.5 3.5 -1.7 13.3 -0.5 2.3 -0.5 1.1 -0.5 -0.2 -0.5 -1.3 -0.4 -2.2 -1.8 -13 -1.6 -3 -0.8 -4 -0.4 -0.4 -0.5 -0.1 -2 -0.3 -1.5 -0.4 -2.5 -1.3 -1 -0.4 -12.8 -1.6 -2.4 -0.5 -1.2 -0.5 0.1 -0.5 1.4 -0.5 2.4 -0.5 13 -1.6 3 -1.3 2 -0.5 3 -0.1 3 0.4 0.5 -0.3 0.5 -1.1 0.1 -3zM91.1 438.3l2 -0.4 2 0.2 1.5 0.4 0.4 0.3 0.1 0.5 -0.5 0.5 -1.5 0.5 -3 0 -1.4 -0.5 -0.5 -0.5 0.1 -0.5zM78 445.8l1.1 0 0.8 0.5 0.3 0.5 0.1 0.5 -0.2 0.8 -1 0.8 -1 0 -0.5 -0.3 -1.1 -1.3 0 -0.5 0.5 -0.5zM85.3 460.3l1.8 -0.3 3 0.5 3.4 1.3 2.3 1.5 4.8 4 3 3 3.5 5.6 1 3 0.5 0.8 3 1 1.2 0.6 4.8 2.9 1.5 1.2 5 5.6 1.5 1.9 1 1.7 1 2.4 0.6 2.3 0.1 2 -0.1 1 -0.3 0.5 -1.3 0.5 -3 -0.5 -9.5 -2.8 -6.5 -1.7 -4.5 -2.1 -2 0.2 -1.5 -0.3 -2.2 -1.3 -1 -1 -0.8 -1.2 -2 -1.5 -1.1 -1.3 -0.7 -1.5 -0.3 -1 0.1 -2.5 -2 -4.1 -1.7 -6.4 -2.8 -9.2 -0.6 -3.3 0.3 -1zM75.3 476.3l1.8 0.1 1 0.5 0.5 0.6 0.5 0.8 1.2 3 3 5.5 4.8 7 0.2 1 -0.2 1.5 -0.5 1 -0.5 0.4 -1 0.4 -1.5 0.1 -6 -0.1 -2.5 -0.4 -1.1 -0.4 -0.6 -0.5 -0.2 -0.5 -0.1 -1 0.8 -4.5 0.1 -3.5 -0.4 -3 -1.4 -4.5 -0.3 -1.5 0.2 -0.7 0.5 -0.6zM148.9 491.3l0.2 -0.3 0.5 -0.1 0.5 0.4 0.5 2 0 2.5 -0.5 1.4 -0.5 0.5 -0.5 -0.1 -0.5 -0.7 -0.4 -1.6 0.1 -2.5zM91.3 499.8l1.8 -0.2 1 0.2 7 4.6 5 2.7 3 1.2 1.8 1 0.7 1 0.3 1 -0.2 1.5 -0.6 1.3 -1 0.6 -1 0 -5.5 -1.6 -3.5 -0.5 -3 0.2 -4.5 0.8 -1 -0.1 -0.5 -0.2 -0.7 -1 -0.4 -1.5 -0.3 -3 -0.1 -4 0.2 -2 0.3 -1 0.5 -0.6zM140.2 507.8l0.9 -0.4 0.5 0.1 0.6 0.3 0.4 0.6 0.2 0.9 -0.1 0.5 -0.6 1.1 -0.5 0.4 -0.5 -0.1 -0.5 -0.3 -0.9 -1.1 -0.1 -1z"/>
<path fill="#aec9fc" fill-rule="evenodd" d="M49.6 328.8l1 0 3 0.5 1 0.4 0.5 0.4 0.8 1.7 0.3 3.5 -0.2 26 -0.4 21.5 -1.3 41.5 -0.6 3.5 0.8 4 0.1 2 -0.1 1 -0.6 1 -0.8 0.5 -2 0.7 -0.8 0.8 0.5 0.5 0.8 0.1 18.5 0.2 3 0.2 1.6 0.5 1.5 1.5 1.6 1 -0.2 0.5 -2.5 1.1 -2.6 1.9 -1.4 0.4 -3 0.2 -0.7 0.4 -0.3 0.5 0 0.5 0.5 0.7 1 0.4 2.5 0.1 1 0.2 1.5 1.3 0.8 1.3 0.5 1.5 0.1 1.5 -0.2 2 -1.2 3.5 -2 3.4 -2.5 3 -8 8.9 -3.1 4.2 -0.3 1 -0.3 4.5 -0.6 6 -1.1 6 0.1 4 -0.3 1 -0.9 0.5 -1.5 0.4 -12 0 0 -54.1 2.5 0 1 -0.2 0.6 -0.6 0.1 -0.5 -0.1 -0.5 -0.6 -0.6 -1 -0.2 -2.5 0 0 -14.3 2.5 0 0.5 -0.2 0.5 -0.5 1.7 -3.7 0.5 -2 0.2 -2 -1.2 -46.5 -0.3 -43.5 0.2 -2 0.4 -1 0.4 -0.5 1.1 -0.5zM60.1 445.8l-1.4 0.5 -0.6 0.5 -0.1 0.5 0.2 0.5 0.4 0.4 1 0.4 2 0.3 1.5 -0.2 1 -0.5 0.5 -0.4 0.2 -0.5 -0.2 -0.5 -0.5 -0.5 -1 -0.4 -1.5 -0.2zM171 331.3l4.6 -0.3 11.8 0.3 2.7 0.2 4 0.8 3.1 1 2 1 1.9 1.5 0.7 1 0.4 2 0.7 14.5 0.3 3.5 0.6 2.5 0.6 2 1 2 3.7 4.7 1.4 2.3 0.7 2 0.6 4 0.8 0.2 1.5 -0.2 3 0.1 3 0.4 3 1.3 6 3.4 4 1.3 5.5 0.7 13.5 0.6 2.5 0.6 2 1.2 1 1.4 0.3 1 0.7 4.3 0.8 7.2 0.3 14.5 -0.3 4.5 -0.4 1.5 -0.7 0.5 -1.2 0.3 -5.5 0.2 -40 0.1 -35 -0.5 -1.8 -0.1 -1.7 -0.5 -1 -0.5 -1.2 -1 -1.8 -2.5 -0.5 -1.2 -0.3 -1.8 -0.5 -42 0.3 -36.5 0.5 -2.5 0.5 -0.5zM93 438.3l2.1 0.2 0.8 0.3 0.1 0.5 -0.7 0.5 -1.7 0.2 -1.6 -0.2 -0.8 -0.5 0.2 -0.5zM140.5 441.8l0.6 -0.5 1 0.2 1 0.5 0.8 0.8 0.7 1.2 1 0.6 0.8 0.7 1 2 -0.3 0.5 -1.7 1 -0.3 0.5 0.5 3.5 -0.1 2.5 -0.6 2 -1.2 2.5 -1.6 11.8 -0.5 2.4 -0.5 1.1 -0.5 -0.1 -0.6 -1.7 -1.8 -13 -1.2 -2 -0.7 -1.5 -0.7 -3.7 -0.5 -0.4 -2.5 -0.3 -1.5 -0.5 -3 -1.6 -11.2 -1.5 -2.6 -0.5 -1.2 -0.5 0.1 -0.5 1.9 -0.6 13.5 -1.9 2.5 -1.2 2 -0.5 3 -0.2 3 0.6 0.5 -0.3zM77.3 446.3l1.3 -0.5 1 0.4 0.5 0.6 0 1 -0.3 0.5 -0.7 0.5 -0.8 0 -0.7 -0.3 -0.7 -0.7 -0.2 -0.5 0.1 -0.5zM87.7 463.3l0.9 -0.2 1.5 0.1 2.8 1.1 2.9 2 3.5 3 2.3 3.1 2.3 3.9 0.5 1.5 0.9 4 0.3 0.5 0.9 0.5 4.1 0.9 1.5 0.5 5 3.1 2 1.5 3 3.5 2 3 0.7 1.5 0.4 1.5 0 1 -0.3 1 -0.8 0.4 -0.5 0.1 -2.9 -0.5 -7.6 -2.2 -5.4 -1.3 -3.6 -1.6 -2.5 1 -1 0 -1 -0.2 -2 -1.2 -1.1 -1 -0.9 -1.4 -2 -1.5 -1.3 -1.6 -0.6 -1.5 0.1 -1.5 0.9 -2.5 -1.6 -3.4 -1.2 -5.1 -2.3 -7.5 -0.5 -3 0.1 -1zM149 492.3l0.1 -0.2 0.5 -0.2 0.5 0.7 0.1 0.7 0 2 -0.1 0.7 -0.5 0.7 -0.5 -0.2 -0.5 -1.4 0 -1.6zM51.8 503.8l2.8 -0.4 12 0.1 4 0.1 2.5 0.4 2.5 1 2.5 1.6 2.4 2.2 1.9 2.5 1.3 3 0.5 3 0.2 15.5 -0.5 3.5 -0.5 2 -0.9 2 -1.7 2.5 -0.2 0.5 0 5 -20.4 0 -0.1 -5 -0.5 -1 -1.5 -1.7 -6.5 -6.8 -6.5 -5.9 -1 -0.5 -3 -0.1 0 -20.1 3 -0.1 3.5 -2.1 2.5 -0.9zM61.6 520.7l-0.3 0.6 0.1 1 0.7 1.2 1 1.2 1.5 1.1 1 0.4 1 -0.1 0.4 -0.3 0.1 -1 -0.4 -1 -1.6 -1.9 -2 -1.3 -1 -0.1zM140.4 507.8l0.7 -0.2 0.5 0 0.5 0.3 0.5 0.8 0 1.1 -0.5 0.8 -0.5 0.4 -0.5 0 -0.5 -0.3 -0.8 -0.9 -0.1 -1zM146.4 510.3l0.2 -0.2 0.5 0.3 1 1.4 1 0.9 0.5 0.9 0.3 1.2 0.1 3 0.2 17.5 0.1 1 0.3 0.8 0.5 -0.2 0.5 -0.6 0.6 -2 0.6 -1 0.8 -0.6 1.5 -0.4 1.5 0.1 4 0.8 2.5 -0.7 1.5 -0.2 48.5 -2.3 20 -0.4 24 0 1.5 0.4 0.9 0.8 1 1.5 0.5 1.5 0.5 3.5 -0.4 4 0 7 -118.6 0 0 -5 -0.4 -0.9 -0.5 -0.3 -0.5 -0.1 -0.7 0.3 -0.4 0.5 -0.1 0.5 0 5 -54.8 0 0 -13 0.2 -2 0.3 -0.8 0.5 -0.6 1 -0.2 4 0 6.5 -1.1 11 -1 4.6 -3.3 8.9 -7.9 3 -2.3 3.5 -2.1 3.5 -1.1 2 -0.2 1.5 0.1 1.5 0.4 1.1 0.6 1.1 1 0.5 1 0.5 4 0.8 0.7 0.5 0 0.5 -0.2 0.6 -1 0.1 -2.5 0.4 -1.5 1.8 -2.5 1 -2zM141.1 522.8l-0.5 0.2 -0.5 0.8 -0.4 1 -0.1 1.5 0.5 2.3 0.5 0.6 0.5 0.3 0.5 -0.1 0.6 -0.6 0.4 -1 0.3 -1.5 -0.2 -1.5 -0.3 -1 -0.8 -0.9z"/>
<path fill="#b9d0f9" fill-rule="evenodd" d="M48 329.8l1.6 -0.4 1 -0.1 3 0.6 0.8 0.4 0.5 0.5 0.4 1 0.3 3.5 -0.3 32.5 -0.7 24.6 -0.5 8.6 -1.9 17.3 -0.4 5 0.2 4 1.6 4 0.3 2 -0.1 1 -0.6 1 -0.6 0.5 -2 1 -1.1 1 -0.3 0.5 2.4 0.4 18 0.1 3 0.2 1.5 0.3 1.9 1.5 1.6 1 -0.2 0.5 -2.4 1 -2.8 2 -1.1 0.3 -3 0.2 -0.9 0.5 -0.3 0.5 0 0.5 0.7 0.9 1 0.3 3.3 0.3 0.8 0.5 0.9 0.9 0.7 1.1 0.4 1.5 0.1 1.5 -0.2 2 -1.3 3.5 -2.1 3.5 -3 3.5 -7.1 7.7 -3.5 4.6 -0.3 1.2 -0.2 4.5 -0.7 5.5 -1.4 6.5 0.1 4.5 -0.5 0.6 -2 0.5 -11.5 0.1 0 -53.7 3.5 -0.1 0.6 -0.4 0.4 -1 -0.4 -1 -0.6 -0.4 -1 -0.2 -2.5 0 0 -12.4 2.5 -0.1 0.5 -0.2 2 -3.9 2.2 -2.8 0.4 -1.5 0.2 -1.5 -0.3 -5.5 -1.5 -18.9 -0.5 -8.9 -0.6 -28.2 -0.1 -28.5 0.2 -1.5 0.3 -1 0.7 -0.6zM59.6 445.7l-1.3 0.6 -0.5 0.5 -0.1 0.5 0.4 0.8 1 0.6 1.5 0.3 2 -0.1 1.5 -0.4 0.8 -0.7 0.2 -0.5 -0.1 -0.5 -0.5 -0.5 -0.9 -0.4 -2 -0.4zM173.5 333.8l1.1 -0.4 1 -0.1 9.5 0.6 4 0.7 1.5 1.2 1.2 2 0.8 3 1.9 18.5 0.6 3 0.7 2 0.8 1.4 1 0.9 1.5 0.7 3 0.2 4.5 4.2 1 1.2 0.7 1.4 0.5 1.5 0.4 2.5 0.2 0.5 0.7 0.1 1.5 -0.4 1.5 0 2.5 0.3 2 0.5 2.7 1.5 5.2 4 1.6 0.8 2.5 0.9 4.5 0.9 3.5 0.5 12.5 1 2.5 0.8 2 1.4 1 1.2 1 1.9 1 2.9 0.6 2.7 0.4 14.5 -0.5 4.4 -0.6 1.1 -1.4 0.6 -5.5 0.2 -37.5 0.3 -13.8 -0.1 -24.2 -0.4 -2.1 -0.6 -0.9 -0.5 -1 -0.8 -1.5 -2.7 -0.5 -1.5 -0.1 -1 0.3 -17.5 -0.4 -20.5 0.2 -16.7 0.5 -11.5 0.5 -6 0.4 -2.8 0.6 -2 0.5 -0.9 1 -1.1zM93.2 439.3l0.4 -0.2 0.5 0.2zM141 441.8l0.6 -0.2 1.5 0.6 0.6 0.6 0.9 1.4 1 0.5 0.7 0.6 0.6 1.5 0 0.5 -0.3 0.5 -1.5 1 -0.3 0.5 0.6 3 -0.1 3 -0.6 2 -1.3 2.5 -1.3 9.5 -0.5 2.8 -0.5 1.2 -0.5 -0.1 -0.5 -1.6 -1.6 -11.3 -1.4 -2.2 -0.6 -1.3 -0.8 -4 -0.6 -0.3 -2 -0.2 -1.8 -0.5 -3.2 -1.8 -11 -1.5 -2.2 -0.7 0.1 -0.5 1.6 -0.5 12 -1.7 2.5 -1.3 2 -0.6 3 -0.1 3 0.6 0.5 -0.2 1 -1.5zM77.5 446.3l1.1 -0.3 1 0.3 0.5 1 -0.4 1 -1.1 0.4 -1.1 -0.4 -0.6 -1 0.1 -0.5zM93.8 484.3l0.8 -0.3 1 0 1 0.2 1 0.4 1.3 1.2 0.5 1 0.3 1 0.4 0.5 1 0.2 1 0.5 0.9 0.8 0.9 1.5 0.2 1.5 -0.2 1 -0.5 1 -0.5 0.5 -0.8 0.5 -1 0.3 -1 -0.1 -1 -0.3 -2 -1.4 -1.4 -2 -1.6 -1 -0.9 -1 -1.2 -2 -0.2 -1.5 0.3 -0.9 0.5 -0.8zM149.6 493.8l0 1 -0.2 -0.5zM53.2 503.8l2.4 -0.2 12 0 3 0.2 2.5 0.4 2.5 0.9 2.5 1.7 2.2 2 1.9 2.5 1.2 2.5 0.6 3 0.2 4.5 -0.1 11 -0.3 3.5 -0.6 2.5 -0.9 2 -1.8 2.5 -0.1 0.5 -0.1 5 -20 0 -0.1 -5 -0.5 -1 -1.6 -1.9 -6.5 -6.7 -6.5 -5.9 -1 -0.5 -3 -0.1 0 -19.8 3 0 2.5 -1.7 1.5 -0.7 2.5 -0.8zM61.6 520.5l-0.4 0.8 0.2 1 0.7 1.3 1 1.2 1.4 1 1.1 0.5 1 0 0.5 -0.4 0.1 -0.6 -0.2 -1 -1.4 -2.1 -2 -1.5 -1 -0.3zM140.6 507.8l0.5 -0.1 0.6 0.1 0.6 0.5 0.2 0.5 -0.1 1 -0.3 0.6 -0.5 0.4 -0.5 0 -0.5 -0.2 -0.7 -0.8 -0.1 -1 0.3 -0.6zM146.1 510.8l0.5 -0.5 0.5 0.3 2 2.7 0.5 1.5 0.2 3.5 0.2 18 0.1 1.2 0.5 0.5 1.2 -1.2 1.3 -2.7 1 -0.7 1 -0.2 2 0.1 3 1.1 1.5 0.2 21.7 -1.8 27.8 -1.6 21.5 -0.7 23.5 -0.1 1.5 0.2 1.3 0.7 0.9 1 0.6 1.5 0.5 3.5 -0.4 4 0 7 -117.7 0 -0.2 -5.5 -0.5 -0.7 -1 -0.4 -1 0.5 -0.3 0.6 -0.1 5.5 -54.4 0 0 -12.5 0.3 -2.1 0.5 -1.1 1 -0.3 4 0.1 6.5 -1.4 6 -0.7 4.5 -0.2 1 -0.3 4.7 -3.5 7.8 -7 3.6 -3 3.4 -2 3.5 -1.2 2 -0.3 1.5 0.2 1.5 0.3 1.5 1 1.1 1.5 0.5 4 0.4 0.6 0.5 0.3 0.5 0 0.7 -0.4 0.5 -1 0.2 -3 0.3 -1 1.8 -2.4zM140.6 522.7l-0.5 0.6 -0.4 1 -0.2 2.5 0.6 2.2 0.5 0.6 0.5 0.2 0.5 -0.1 0.8 -0.9 0.5 -1.5 0.1 -1.5 -0.2 -1.5 -0.7 -1.4 -0.5 -0.4 -0.5 0z"/>
<path fill="#c1d4f4" fill-rule="evenodd" d="M48.5 330.3l1.1 -0.3 1 -0.1 2.5 0.6 1 0.5 0.5 0.6 0.2 0.7 0.2 2.5 -0.2 29.5 -0.7 17.9 -0.5 5.3 -0.7 4.3 -2.3 13.1 -0.5 0.8 -0.5 -1.8 -0.5 -3.8 -1.5 -14 -0.5 -6.3 -0.5 -12.7 -0.2 -33.3 0.2 -1.9 0.3 -0.6 0.6 -0.5zM186.8 373.8l1.3 -0.2 1 0.1 2.5 1.4 2.5 0.5 3 -0.3 4.5 -1.2 1 0.2 1.8 1.5 1.1 1.5 0.5 1.5 0.6 2.6 0.5 0.1 3 -0.7 2.5 0.3 2.5 0.9 2 1.5 2.7 2.8 0.7 1 0.2 3 0.4 1.4 0.5 0.9 1.5 1.4 2 1 2 0.6 3 0.6 18 2 2.6 0.6 1.9 0.8 0.7 0.7 0.3 0.6 1 4.3 0.5 5.6 0 2.5 -0.2 1 -0.8 1 -1 0.6 -1.5 0.5 -2.5 0.7 -8.1 1.2 -8.4 0.7 -22 0.8 -8.5 0.1 -15 -0.4 -11.5 0.1 -1.8 -0.3 -1.2 -0.5 -1 -0.8 -0.3 -0.7 0 -4 0.2 -3.5 0.7 -4.5 1.1 -5.5 1.3 -6.1 1 -3.6 2.7 -7.8 1.1 -2.5 1.2 -2.1 1.1 -1.4 1.4 -1.2 1.5 -0.7zM48.7 428.3l0.9 -0.4 0.5 0 1 0.9 1.5 2.5 0.4 2 -0.2 1 -0.7 1 -1.5 1 -1.5 1.2 -1.4 0.8 0.4 0.2 0.8 0.3 1.7 0.1 16 0.1 5.5 0.2 2 0.5 3.3 2.1 -0.2 0.5 -2.4 1 -2.7 1.9 -1 0.2 -3 0.2 -1 0.6 -0.4 0.6 -0.1 0.5 0.2 0.5 0.8 0.6 1 0.3 3 0.2 1 0.5 1 1 0.6 0.9 0.4 1.5 0 1.5 -0.3 2 -1.2 3.4 -2 3.2 -3.5 4.1 -6.5 6.9 -3.8 4.9 -0.3 1 -0.3 5 -0.7 5.5 -0.8 3.5 -1.1 3 0.1 4.5 -0.6 0.5 -2 0.4 -10.5 0.1 0 -53.3 3 0 0.8 -0.2 0.6 -0.5 0.4 -1 -0.4 -1 -0.9 -0.6 -3.5 -0.2 0 -10.9 2.5 0 0.7 -0.3 0.4 -0.5 1.4 -3.7 1 -1.1zM59.1 445.7l-1.2 0.6 -0.4 0.5 -0.2 0.5 0.2 0.5 0.4 0.5 1.2 0.5 2.5 0.3 2 -0.2 1.3 -0.6 0.4 -0.5 0.2 -0.5 -0.2 -0.5 -0.4 -0.5 -1.8 -0.8 -2 -0.1zM140.6 442.3l0.5 -0.4 0.5 -0.1 1 0.2 0.5 0.3 0.5 0.5 0.9 1.5 1.1 0.5 0.6 0.5 0.6 1.5 -0.4 1 -1.6 1 -0.2 0.5 0.7 3 -0.1 2.5 -0.6 2.4 -1.4 2.6 -1.1 7.5 -0.5 2.6 -0.5 1.4 -0.5 -0.2 -0.5 -1.7 -1.4 -9.1 -1.3 -2 -0.7 -1.5 -0.7 -4 -0.4 -0.3 -2.5 -0.4 -2 -0.5 -3 -1.8 -6.9 -1 -2.8 -0.5 -1.5 -0.5 0.1 -0.5 1.8 -0.5 9.8 -1.5 2.5 -1.3 2 -0.6 2.5 -0.2 1.5 0.2 2 0.5 0.5 -0.1zM77.8 446.3l0.8 -0.2 1 0.4 0.4 0.8 -0.1 0.5 -0.4 0.5 -0.9 0.3 -1 -0.4 -0.5 -0.9 0.1 -0.5zM93.5 484.8l0.6 -0.3 1.5 -0.1 1 0.1 1 0.5 1.2 1.3 0.8 2.1 2 0.7 1.3 1.2 0.6 1 0.2 1.5 -0.4 1.5 -0.8 1 -0.9 0.5 -1 0.2 -1 -0.3 -1 -0.4 -1.8 -1.5 -1.2 -1.8 -1.5 -0.9 -0.8 -0.8 -1 -1.5 -0.4 -1.5 0.5 -1.5zM56 503.8l13.1 0 2.5 0.2 2 0.4 2.5 1.1 2 1.4 2.5 2.4 1.8 2.5 1 2.5 0.5 3 0.1 5 -0.1 10.5 -0.4 3.5 -0.7 2.5 -1 2 -1.5 2 -0.2 0.5 0 5 -19.7 0 -0.1 -4.5 -0.1 -1 -2.6 -3 -6.3 -6.5 -6.2 -5.6 -1 -0.5 -3 0 0 -19.5 3 -0.1 3 -2 3 -1.1 2.5 -0.5zM62.1 520.3l-0.5 0.1 -0.4 0.4 -0.1 0.5 0.2 1 0.8 1.5 1 1.1 1.5 1.1 1.5 0.5 0.7 -0.2 0.5 -0.5 0 -1 -1.1 -2 -2.1 -1.9 -1 -0.5zM141 507.8l0.6 0.1 0.5 0.3 0.3 0.6 -0.1 1 -0.7 0.8 -0.5 0 -0.5 -0.2 -0.5 -0.5 -0.2 -0.6 0.3 -1zM146.2 510.8l0.4 -0.3 0.5 0.3 0.4 0.5 1.5 2.5 0.4 1.5 0.2 4 0.1 17 0.4 3.9 0.6 -1.4 1.6 -2 0.8 -1.5 0.5 -0.6 1 -0.5 1.5 -0.1 1.5 0.4 5.1 2.8 0.1 0.5 -1.2 1.9 -0.5 1.6 0 7 -18.1 0 -0.1 -5.5 -0.8 -1.1 -1 -0.3 -1 0.5 -0.6 0.9 0 5.5 -54 0 0.1 -12.4 0.4 -2.1 0.6 -0.6 4.5 0.1 2.9 -1 3.6 -0.8 5.5 -0.8 6 -0.5 1 -0.5 4 -3.2 7.3 -6.7 4.2 -3.4 3 -1.8 3.7 -1.3 1.8 -0.3 1.5 0.1 1.5 0.4 1.3 0.8 0.7 0.8 0.5 0.9 0.4 3.8 0.6 0.9 0.5 0.3 0.5 0 0.5 -0.3 0.7 -0.9 0.3 -3.5 0.4 -1 1.6 -2.1zM141.1 522.1l-0.5 0.2 -0.8 1 -0.3 1 -0.2 1.5 0.1 1.5 0.4 1.5 0.6 1 0.7 0.3 0.5 0 0.5 -0.4 0.5 -0.8 0.4 -1.1 0.1 -1.5 -0.1 -1.5 -0.4 -1.4 -0.5 -0.8 -0.5 -0.4zM251 531.3l4.1 0 2 0.2 1.5 0.6 0.9 1.2 0.8 4 -0.4 4 0 7 -71 0 0 -6 -0.1 -0.5 -0.4 -0.5 -1.1 -0.5 -1.9 -0.5 -13.1 -2.5 -0.7 -0.5 2.1 -0.5 19.3 -3 9.3 -1 20.8 -1z"/>
<path fill="#cad8ef" fill-rule="evenodd" d="M49.4 330.8l0.7 -0.2 1 0.2 1.3 0.5 1.2 0.8 0.5 1.2 0.1 2.5 -0.1 15.6 -0.6 14.9 -0.7 7 -1.1 8 -1.1 6.1 -0.5 0.8 -0.5 -1.7 -0.5 -3.9 -1.1 -12.8 -0.5 -11.5 -0.4 -17 0 -6 0.2 -2 0.6 -1.5zM200.2 380.3l1.4 -0.1 0.5 0.2 0.4 0.4 0.5 1 0.4 2 0.3 0.5 0.6 0 2.8 -1 2.5 0.3 1.5 0.5 1.3 0.7 1.2 1 0.9 1 0.2 1 -0.1 4 0.3 2.5 1 2.5 2.2 3.5 0.6 3 0 2 -0.3 2 -0.7 2 -0.9 1.5 -1.9 2 -2.3 1.5 -4 1.3 -4.5 0.8 -5.5 0.4 -10.5 -0.2 -11.5 0.4 -3.1 -0.2 -0.3 -0.5 0.2 -0.5 1.1 -1.5 0.9 -2 0.3 -3.5 0.4 -2.5 0.7 -3 1.1 -3 2.5 -5.5 3.4 -5.5 3.3 -3.9 1.5 -1.4 1 -0.7zM47.8 429.8l1.8 -0.4 0.8 0.4 0.7 0.7 0.7 1.3 0.2 1 0 1 -0.4 1 -2.5 2.2 -1.5 0.7 -1.5 0.3 -5 -0.2 0 -2.5 2.5 0 1 -0.3 0.5 -0.8 1 -3.1 0.5 -0.7zM41.1 439.3l0 -0.3 5 -0.1 25 0.5 2.5 0.5 3.6 1.9 -0.2 0.5 -2.5 1 -1.9 1.5 -1.4 0.5 -2.6 0.1 -1 0.2 -1.5 1.4 -2 -1.4 -2.5 -0.4 -1.5 0.1 -1.5 0.4 -1 0.5 -0.5 0.6 -0.1 0.5 0.4 1 0.9 0.5 1.3 0.3 2 0.2 2 -0.2 1.5 -0.6 1 -1 1.5 1.1 3.5 0.3 1 0.4 1 0.7 0.9 1.3 0.4 1.5 0 1.5 -0.3 2 -0.7 2 -0.9 2 -1.3 2 -3.6 4.3 -6.9 7.2 -3.6 4.5 -0.3 1 -0.4 5.5 -1 6 -1 3 -1.6 3 0.3 4 -0.1 0.5 -1.2 0.5 -10.7 0.2 0 -52.8 3 0 1 -0.2 0.8 -0.7 0.3 -1 -0.3 -1 -1.3 -0.9 -3.5 -0.1zM140.9 442.3l0.7 -0.3 0.5 0 1 0.4 0.5 0.6 0.7 1.3 1.7 1 0.4 0.5 0.2 1 -0.5 1 -1.6 1 -0.1 0.5 0.5 2 0.2 1.5 -0.1 2.5 -0.6 2 -1.5 2.5 -0.8 5.5 -0.5 2.5 -0.5 1.3 -0.5 -0.2 -0.5 -1.6 -1.1 -7 -0.2 -0.5 -1.2 -1.6 -0.7 -1.4 -0.4 -1.5 -0.4 -2.7 -0.5 -0.4 -2.5 -0.2 -1.5 -0.4 -1.5 -0.8 -2 -1.3 -5 -0.7 -2.5 -0.5 -1.4 -0.5 0.1 -0.5 1.6 -0.5 7.7 -1.2 2.5 -1.4 2 -0.6 3 -0.2 3 0.8 0.5 -0.1zM78 446.3l1.1 0 0.6 0.5 0 1 -0.6 0.6 -1 0 -0.7 -0.6 -0.1 -0.5 0.1 -0.5zM94.1 484.8l1.5 -0.2 1.5 0.4 1.4 1.3 0.6 2 0.5 0.5 1.5 0.4 1.5 1.1 0.6 1 0.3 1.5 -0.5 1.5 -0.8 1 -0.6 0.3 -1 0.2 -1 -0.2 -1 -0.4 -1.6 -1.4 -0.9 -1.5 -2 -1.3 -1 -1.1 -0.9 -1.6 -0.1 -1.5 0.5 -1zM51.8 504.3l4.3 -0.4 10 0 4.5 0.1 2.5 0.4 2.3 0.9 2.2 1.4 2.5 2.3 1.8 2.3 1.2 2.5 0.7 3.5 0.1 5.5 -0.1 10 -0.4 3.5 -0.7 2.5 -1.1 2 -1.5 2 -0.2 0.5 -0.1 5 -19.4 0 0 -4.5 -0.1 -1 -2.2 -2.6 -6.7 -6.9 -6.3 -5.7 -1 -0.5 -3 0 0 -19.2 3 -0.1 3.5 -2.3 2 -0.7zM61.6 520.2l-0.6 0.6 0 1 0.4 1 1 1.5 1.2 1.1 1.5 0.9 1 0.3 1 -0.3 0.3 -0.5 0 -1 -0.7 -1.5 -0.8 -1 -1.3 -1.1 -1 -0.6 -1 -0.4zM140.4 508.3l0.7 -0.4 0.5 0.1 0.5 0.4 0.2 0.9 -0.2 0.6 -0.5 0.5 -0.9 -0.1 -0.5 -0.5 -0.2 -1zM146.4 510.8l0.2 -0.1 0.5 0.3 0.7 1.3 1 2 0.4 2 0.2 4.5 0.2 27.5 -6.4 0 -0.1 -5.5 -0.5 -1 -0.5 -0.4 -1 -0.3 -1 0.3 -0.5 0.6 -0.2 0.8 -0.1 5.5 -53.5 0 0.1 -11 0.2 -2.1 0.5 -0.8 4.5 0.2 2.5 -1.4 3.5 -1.1 5.5 -0.9 6 -0.5 1 -0.2 5 -3.9 5.6 -5.3 4.9 -4.2 3 -2 3 -1.2 2.5 -0.6 2.5 0 1.5 0.6 1.5 1.4 0.5 1.5 0.2 3 1.1 1.5 -1.1 1.5 -0.4 1 -0.2 2 0.1 2 0.3 1.1 0.5 1 0.5 0.4 0.5 0.2 0.5 -0.1 0.7 -0.6 0.6 -1 0.4 -2.5 -0.3 -2.5 -0.4 -1 -0.8 -1 -0.1 -0.5 0.9 -0.8 0.4 -0.7 0.2 -3 0.4 -1.5 1.5 -1.9 0.9 -2.1zM225.9 532.8l26.7 -0.5 3.5 0.1 1.5 0.3 0.8 0.6 0.3 0.5 0.7 2 0.3 1.5 -0.6 4 -0.1 7 -52.5 0 0 -6 -0.1 -0.5 -0.4 -0.5 -3 -1 -8.8 -2 -1.6 -0.5 -0.4 -0.5 1.3 -0.5 2.4 -0.5 14.2 -2.3 6.4 -0.7zM154.1 535.3l1.5 -0.3 1.5 0.3 1.5 0.8 1.2 1.2 0.3 1 -0.3 3 -0.1 7 -9 0 -0.1 -7 0.3 -1.5 0.6 -1.5 2.1 -2.6z"/>
<path fill="#d2dbe8" fill-rule="evenodd" d="M49.4 332.3l0.7 -0.5 0.5 0.1 1 0.9 0.4 1 0.2 2 -0.2 11 -0.6 11 -0.8 9 -0.5 1.4 -0.5 -3.1 -0.3 -4.8 -0.5 -16 -0.1 -9.5 0.2 -1.5zM204.6 385.8l1.5 0.1 1.6 0.4 1 0.5 0.8 1 0.9 6.5 1.2 5 -0.1 2 -0.7 3 -1.1 2.5 -1.6 2 -1.8 1.5 -2.2 1.2 -2.5 0.9 -2.5 0.5 -4 0.3 -13 0 -3 -0.1 -1.3 -0.3 -0.1 -0.5 0.2 -0.5 3 -5 0.8 -4.5 1.5 -4 2.4 -4.1 3 -3.7 1 -0.9 1 -0.5 2 -0.7 1.5 -0.2 2 0.1 0.8 0.5 0.7 0.9 0.5 0 4.5 -3.1zM48 430.8l1.1 -0.2 1 0.3 0.7 0.9 0.3 1 -0.1 1.5 -1.8 2 -1.1 0.8 -1.5 0.4 -5.5 -0.2 0 -1.2 3 -0.1 1 -0.7 1.5 -3.8 0.5 -0.4zM41.1 439.3l25 0.1 4.5 0.2 3 0.6 3.4 1.6 -0.2 0.5 -2.5 1 -2.1 1.5 -0.6 0.2 -3.5 0.3 -2 1 -1.5 -0.7 -1.5 -0.4 -3 -0.1 -2 0.5 -1 0.6 -0.4 0.6 -0.2 0.5 0.4 1 0.7 0.5 1.5 0.4 2 0.2 2.1 -0.1 1.4 -0.3 1.5 -0.6 2 0.6 3.6 0.3 1.4 0.9 0.7 1.1 0.4 1.5 -0.1 2 -1 3.7 -1 2 -1.2 1.8 -4.8 5.5 -5.5 5.5 -4 5 -0.2 1 -0.4 5 -0.4 3 -1 4 -1 2.3 -1 1.2 -1.5 1 -2 0.7 -3.3 0.8 2.3 1 1 0.8 0.9 1.2 0.2 0.5 -0.7 0.5 -8.4 0.2 0 -52.1 4 -0.2 1 -0.5 0.3 -0.4 0.2 -1 -0.3 -1 -1.2 -1 -1 -0.2 -3 -0.1zM141.1 442.3l1 -0.2 1 0.5 0.6 0.7 0.4 1 1.8 1 0.4 0.5 0.2 1 -0.6 1 -1.7 1 0.7 3.5 0 2.5 -0.7 2.5 -1.6 2.5 -0.6 4 -0.4 1.9 -0.5 1.3 -0.5 -0.2 -0.5 -1.5 -0.8 -5 -0.2 -0.5 -1.5 -1.9 -0.7 -1.6 -0.7 -4 -0.6 -0.3 -2.5 -0.2 -1.5 -0.4 -1.2 -0.6 -1.8 -1.4 -0.5 -0.2 -3.5 -0.5 -1.9 -0.4 -1.4 -0.5 0.2 -0.5 1.5 -0.5 5.6 -0.9 2.5 -1.5 2 -0.7 3 -0.1 3.5 0.8 0.9 -1.6zM77.6 446.8l1 -0.5 0.5 0.2 0.5 0.5 0 0.8 -0.7 0.5 -0.8 -0.1 -0.5 -0.4 -0.1 -0.5zM95.1 484.8l1.5 0.2 1 0.6 0.9 1.2 0.6 2 2.5 0.9 1.1 1.1 0.5 1.5 0 1 -0.4 1 -0.9 1 -1.3 0.4 -1 -0.2 -1 -0.5 -1.5 -1.2 -1 -1.8 -2 -1.2 -1 -1.1 -0.5 -0.9 -0.4 -1 0.3 -1.5 1.1 -1.1zM52.9 504.3l4.2 -0.2 10 -0.1 3.5 0.2 2.5 0.4 2.5 0.9 2.5 1.7 2.1 2.1 1.9 2.5 1 2.5 0.5 3 0.2 6 -0.2 9.5 -0.4 3.5 -0.7 2.5 -0.9 1.8 -1.8 2.2 -0.2 0.5 0 5 -19.1 0 0 -4.5 -0.1 -1 -2.3 -2.7 -6.6 -6.8 -6.4 -5.8 -1 -0.5 -3 0 0 -18.8 3 -0.1 2.5 -1.8 1.5 -0.8 2.5 -0.8zM61.6 520.1l-0.4 0.2 -0.3 0.5 0 1 0.4 1 1 1.5 1.3 1.2 1.5 0.9 1 0.3 1 -0.2 0.4 -0.7 0 -1 -0.5 -1 -0.9 -1.3 -1.2 -1.2 -1.3 -0.8 -1 -0.4zM140.5 508.3l0.6 -0.2 0.5 0.1 0.5 0.6 0 0.7 -0.5 0.6 -0.5 0.2 -0.7 -0.5 -0.3 -0.5 0.1 -0.5zM146.1 511.3l0.5 -0.5 0.6 0.5 1.3 3 0.4 2 0.3 5 0.2 27 -5.9 0 -0.1 -5.5 -0.3 -0.8 -0.5 -0.6 -0.5 -0.4 -1 -0.2 -1 0.2 -0.5 0.4 -0.3 0.9 -0.2 1 0 5 -52.7 0 0 -9 0.2 -1.7 0.3 -0.3 0.2 -0.1 0.5 0.2 1.7 1.4 1.3 2.8 0.8 -3.3 0.7 -2 1 -1.5 1 -0.8 2.5 -1.2 2.5 -0.6 5 -0.8 5 -0.4 1 -0.3 4.9 -3.9 4.6 -4.5 5.7 -5 3 -2 2.8 -1.2 3 -0.6 2 0 1.5 0.6 1.2 1.2 0.6 1.5 0.2 3 0.6 1.5 -0.6 1.1 -0.4 1.9 -0.1 2.5 0.3 2 0.6 1.5 0.6 0.5 0.5 0.2 1 -0.4 0.6 -0.8 0.4 -1 0.4 -2.5 -0.3 -2.5 -0.9 -2 0 -0.5 0.6 -1 0.4 -1 0.3 -3.6 1.5 -2zM251.7 533.8l3.4 0 1.5 0.3 1 0.7 1 1.5 0.3 1 -0.2 1 -1.5 3.5 0 6.5 -24.5 0 0 -6 -0.2 -0.5 -1.1 -0.5 -17.8 -2.6 -4.2 -0.9 -0.4 -0.5 1.5 -0.5 3.1 -0.5 12.5 -1.4 11 -0.7zM154 536.3l1.1 -0.4 1.5 0.2 1.4 0.7 0.7 1 0.2 1.5 -0.2 9 -7.6 0 -0.1 -6.5 0.2 -1.5 0.3 -1 0.6 -1z"/>
<path fill="#d9dce1" fill-rule="evenodd" d="M202.1 388.8l1 0.2 1 0.5 0.8 0.8 0.7 1 1 3 0.9 4.5 0 1.5 -0.8 2.5 -1.1 2 -1.2 1.5 -1.8 1.4 -2 1 -2 0.6 -2.5 0.4 -4 0.2 -4.5 -0.1 -3.5 -0.4 -2.1 -0.6 0.1 -1 0.9 -1.5 2.8 -3.5 3.6 -4 9.2 -8 2 -1.4zM47.5 432.3l1.1 -0.3 1 0.2 0.6 1.1 -0.2 1 -1.3 1.5 -1.1 0.9 -1 0.3 -1.2 -0.2 -0.1 -0.5 0.8 -1.5 0.5 -1.6zM41.1 439.8l0 -0.4 26 0.2 4 0.3 2.5 0.5 1.5 0.5 1.6 0.9 -0.1 0.5 -2.6 1 -2.4 1.5 -3.5 0.3 -2 0.7 -3 -0.9 -3.5 0 -2 0.6 -1 0.6 -0.5 0.7 -0.2 0.5 0.2 1 0.6 0.5 1.9 0.5 4 0.2 4 -0.6 1.5 0.3 3 0.2 1 0.3 1 0.8 0.6 0.8 0.3 1.5 -0.1 2 -0.5 2 -0.7 2 -2.1 3.4 -5 5.7 -5.1 4.9 -4.2 5 -0.2 1 -0.5 6 -0.7 3 -0.8 2.8 -1 1.8 -1 1 -1.5 0.8 -1.5 0.4 -3 0.2 -5 0 0 -45.3 3 0 1.4 -0.2 1.2 -0.5 0.4 -1 -0.3 -1.5 -1.2 -1.1 -1.5 -0.4 -3 0zM141.5 442.3l0.6 -0.1 1 0.5 1 1.8 1.6 0.8 0.4 0.5 0.2 1 -0.5 1 -2 1 0.9 3 0 3 -0.7 2.5 -1.8 2.5 -0.6 3.8 -0.5 1.2 -0.5 -0.1 -0.3 -0.9 -0.8 -4 -1.4 -1.5 -1 -1.9 -0.4 -1.6 -0.2 -2.5 -0.4 -0.4 -2.5 -0.2 -1.7 -0.4 -1.8 -0.9 -1.5 -1.4 -3.8 -0.7 -1.3 -0.5 0.1 -0.5 1.5 -0.5 3.5 -0.5 2.5 -1.7 2 -0.7 3 -0.1 3.5 0.9 0.4 -0.4 0.6 -1.4zM77.9 446.8l0.7 -0.2 0.5 0.1 0.4 0.6 -0.2 0.5 -0.7 0.4 -0.5 -0.2 -0.4 -0.7zM93.8 485.3l0.8 -0.3 1 0 1.5 0.5 1.2 1.3 0.5 2 0.3 0.3 2 0.5 1 0.7 0.7 1 0.3 1.5 -0.2 1 -0.8 1.2 -0.5 0.3 -1 0.3 -1 -0.2 -1 -0.5 -1.5 -1.3 -0.9 -1.8 -1.6 -0.7 -1 -0.9 -0.9 -1.4 -0.4 -1.5 0.4 -1zM54.5 504.3l13.6 -0.1 3 0.2 2.3 0.4 2.4 1 2.3 1.6 2.4 2.4 1.6 2.3 1 2.7 0.4 3 0.1 9.5 -0.1 6 -0.4 3 -0.8 2.5 -1 2 -1.7 2 -0.2 0.5 -0.1 5 -18.7 0 0 -4.5 -0.1 -1 -2.4 -2.8 -6.5 -6.7 -6.5 -5.9 -1 -0.5 -3 0 0 -18.5 3 -0.1 2.7 -2 1.8 -0.9 2.5 -0.7zM61.1 520.2l-0.4 1.1 0.3 1 0.6 1.1 1.1 1.4 1.4 1.1 1.5 0.7 1 0.2 0.8 -0.5 0.2 -1 -0.2 -1 -0.8 -1.3 -1 -1.2 -1.5 -1.1 -1 -0.5 -1 -0.3zM140.9 508.3l0.7 0.1 0.3 0.4 0 0.5 -0.3 0.6 -0.5 0.1 -0.5 -0.2 -0.2 -0.5 0 -0.5zM146.3 511.3l0.3 -0.3 0.5 0.4 0.6 1.4 0.8 2.5 0.4 4 0.3 29 -5.5 0 0 -5 -0.1 -1 -0.5 -0.9 -0.5 -0.5 -0.5 -0.4 -1 -0.2 -1 0.1 -0.5 0.3 -0.5 1.4 -0.1 6.2 -45.9 0 0 -7 0.2 -3 0.6 -2 1 -1.5 2.2 -1.3 3 -1 3.8 -0.7 5.7 -0.4 1 -0.4 5 -4.2 4.4 -4.5 5.1 -4.5 3 -2.1 3 -1.3 2.5 -0.6 2.5 -0.1 1.5 0.5 1 1.1 0.5 1.4 0.4 4.1 -0.6 4.5 0.4 4 0.3 1.2 0.5 0.7 1 0.3 1 -0.4 0.7 -0.8 0.5 -1 0.4 -2 -0.1 -3 -0.9 -3 0.7 -1.5 0.2 -3.2 0.5 -1.3 1 -1.3zM154.9 536.8l0.7 0 1 0.3 0.5 0.3 0.5 0.9 0.2 1.5 -0.1 8.5 -6.2 0 -0.1 -6.5 0.2 -1.5 0.5 -1.1 1 -1.2 1 -0.9zM241.7 536.8l12.4 -0.3 2 0.2 0.8 0.6 -0.1 0.5 -1 0.5 -2.7 0.2 -13.5 -0.6 -1.8 -0.1 -1.4 -0.5z"/>
<path fill="#e0dbd8" fill-rule="evenodd" d="M197.6 392.8l1.5 -0.3 1 0.2 1 0.5 1.1 1.1 1.1 2 0.5 2.5 -0.1 1.5 -0.9 2 -1.2 1.5 -1.5 1.2 -1.5 0.8 -2 0.6 -2 0.4 -2.5 0.1 -2.5 -0.2 -2 -0.5 -1.7 -0.9 -0.2 -0.5 0.5 -1 3.3 -4 4.6 -4.3zM41.1 439.8l0 -0.2 25.5 0.2 4 0.3 3 0.5 1.5 0.5 1.4 0.7 -0.2 0.5 -5.2 2.2 -3.5 0.4 -1.5 0.4 -3.5 -0.7 -3.8 0.2 -2.2 0.7 -1.4 1.3 -0.4 1.5 0.4 0.5 2.3 0.5 4.1 0.4 5 -0.4 5 0.5 1 0.5 0.9 1 0.3 1.5 -0.1 1.5 -0.4 2 -0.7 2 -1 1.9 -1.5 2.1 -4.5 5.1 -4.7 4.4 -4.8 5.3 -0.4 1.2 -0.6 6.3 -0.5 2.2 -1 2.7 -1 1.7 -0.7 0.6 -1.3 0.7 -1.5 0.4 -3 0.2 -5 0 0 -43.4 3.5 -0.1 1.9 -0.3 1.6 -0.5 0.1 -0.5 -0.7 -2 -0.9 -1 -0.5 -0.3 -1.5 -0.4 -3.5 0zM140.9 442.8l0.7 -0.4 0.5 0 1 0.4 1 1.9 1.5 0.6 0.4 0.5 0.2 1 -0.6 1 -1 0.4 -1 0.1 -0.1 0.5 0.8 2 0.3 1.5 0 2.5 -0.9 2.5 -1.9 2.5 -0.7 2.5 -0.5 -0.2 -0.6 -2.3 -1.6 -1.5 -0.9 -1.5 -0.6 -2 -0.3 -2.8 -0.5 -0.3 -2.5 -0.1 -2 -0.6 -1.5 -0.9 -1.5 -1.6 -2.6 -0.7 0.2 -0.5 2.4 -0.6 2.4 -1.9 2.1 -0.7 1.5 -0.2 2 0.1 3.5 1.1 0.2 -1.3zM78.5 446.8l0.2 0 0.5 0.5 -0.3 0.5 -0.3 0.1 -0.4 -0.1 -0.2 -0.5zM94.3 485.3l1.3 -0.2 1.5 0.6 1 1.1 0.5 2.1 0.3 0.4 2.2 0.5 1.2 1 0.5 1 0.1 1 -0.2 1 -0.7 1 -0.8 0.5 -0.6 0.1 -1 -0.1 -1 -0.5 -1.5 -1.4 -0.7 -1.6 -0.3 -0.3 -1.5 -0.6 -1 -0.9 -1 -1.7 -0.1 -1 0.1 -0.5 0.5 -0.8zM58.6 504.3l11 0.1 2.5 0.2 2 0.6 2.3 1.1 2.2 1.7 2.1 2.3 1.6 2.5 0.8 2.5 0.3 3 0.1 10 -0.2 5.5 -0.5 3 -0.7 2.2 -1 1.8 -1.8 2 -0.2 0.5 -0.1 5 -18.3 0 0 -4.5 -0.1 -1 -2.5 -2.9 -6.5 -6.7 -6.5 -5.9 -1 -0.5 -3 0 0 -18.1 3 -0.1 3 -2.3 3 -1.2 3.5 -0.6zM61.1 520.1l-0.4 0.7 0 1 0.7 1.5 1.2 1.5 1.5 1.2 1.5 0.7 1.4 0.1 0.6 -0.5 0.1 -1 -0.2 -1 -0.9 -1.4 -1 -1.2 -1.5 -1.1 -1 -0.5 -1 -0.3zM140.7 508.8l0.4 -0.2 0.5 0.1 0 0.8 -0.5 0.3 -0.5 -0.5zM146.5 511.3l0.1 -0.1 0.5 0.4 0.6 1.7 0.7 2.5 0.4 4 0.2 28.5 -5.1 0 0 -5 -0.3 -1.9 -0.5 -0.8 -0.5 -0.5 -2.5 -0.9 -0.5 0.2 -0.7 2.9 -0.1 6 -44 0 0 -7 0.3 -3 0.6 -2 1.1 -1.5 1.7 -1 2.9 -1 2.7 -0.6 6 -0.5 1 -0.4 5 -4.4 3.9 -4.1 5 -4.5 3.1 -2.2 3 -1.4 2.5 -0.7 2 -0.1 1.7 0.4 1 1 0.4 1 0.2 1 0.2 4 -0.3 5.5 0.3 2.7 0.5 2.4 0.5 0.7 1 -0.2 1 -0.4 0.7 -0.7 0.5 -1 0.5 -2 0.1 -3.5 -0.6 -3.5 0.5 -2 0.3 -3 1 -1.9 1 -2.7zM154 538.3l0.6 -0.3 1 0.1 0.5 0.5 0.3 0.7 -0.1 9 -4.1 0 -0.1 -7.3 0.5 -1.3z"/>
<path fill="#e7d7ce" fill-rule="evenodd" d="M195.4 396.8l1.7 0.1 1.3 0.9 0.7 1.5 0 0.5 -0.6 1 -1.4 1.2 -2 0.8 -2.5 0 -1.5 -0.7 -0.5 -0.6 -0.2 -0.7 0.5 -1 2.2 -2 1 -0.6zM41.1 439.8l25.5 0.1 6.5 0.8 1.5 0.3 1.6 0.8 -0.2 0.5 -3.4 1.3 -2 0.5 -4 0.5 -5.5 -0.2 -4.7 0.4 -2 0.5 -1.8 1.1 -1.5 0.2 -1 -0.3 -1.4 -1 -1.6 -0.5 -2.5 -0.4 -3.5 0zM141 442.8l0.6 -0.3 1 0.1 0.7 0.7 0.6 1.5 1.2 0.3 0.5 0.4 0.5 0.8 0 0.5 -0.5 0.8 -1 0.5 -1 -0.1 -0.8 -0.7 -0.2 -1.3 -1.5 -0.4 -0.3 -0.3 -0.4 -1 0.2 -1zM132.9 444.3l1.7 -0.2 1.5 0 2.5 0.7 1.7 1 2.5 2.5 0.8 1.3 0.5 1.2 0.3 1.5 0.1 1.5 -0.2 1.5 -0.5 1.5 -0.6 1 -2.1 1.9 -0.5 0 -1.5 -1 -1.2 -1.4 -0.7 -2 -0.4 -3.5 -0.7 -0.3 -3 -0.2 -1.5 -0.5 -1.5 -1 -1.2 -1.5 -0.2 -0.5 0 -0.5 1.3 -1.5 1.5 -1zM48.6 449.3l5 -0.1 7 0.6 6 -0.2 4.5 0.3 1.1 0.4 1 1 0.4 1.5 -0.2 2 -0.5 2 -0.8 1.9 -1 1.7 -1.5 2 -4.5 5 -4.4 3.9 -5.1 5.4 -0.3 1.1 -0.8 7 -0.9 2.5 -1.5 2.3 -1.5 1.1 -2 0.5 -7.5 0.2 0 -41.6 3.5 0zM93.6 485.8l1.5 -0.5 1 0.1 0.9 0.4 0.6 0.6 0.5 0.8 0.5 2.2 2.1 0.4 0.9 0.5 0.5 0.5 0.5 1 0.1 1 -0.2 1 -0.7 1 -1.2 0.5 -1 -0.2 -0.7 -0.3 -0.8 -0.5 -0.9 -1 -0.6 -1.7 -0.4 -0.3 -1.6 -0.5 -1 -1 -0.9 -1.5 -0.1 -1 0.5 -1zM52.3 504.8l4.8 -0.3 9.5 -0.1 4 0.2 2.5 0.4 2.2 0.8 2.3 1.5 2.5 2.4 1.5 2.1 1.1 2.5 0.5 3 0.2 9 -0.2 7 -0.4 3 -0.8 2.5 -0.9 1.7 -2 2.3 -0.3 0.5 0 5 -18 0 0 -4.5 -0.1 -1 -3 -3.5 -6.6 -6.7 -6 -5.4 -1 -0.5 -3 0 0 -17.7 3 -0.1 0.5 -0.3 2 -1.8 1.5 -0.8 2 -0.8zM61.6 519.7l-0.9 0.6 -0.2 1 0.5 1.5 1.1 1.5 1.5 1.4 1.5 0.9 1 0.3 1.2 -0.1 0.4 -0.5 0.1 -1 -0.3 -1 -0.8 -1.5 -1.1 -1.2 -1.5 -1.1 -1.5 -0.7zM146.2 511.8l0.4 -0.4 0.5 0.4 0.4 1 0.7 3 0.4 4 0.3 28.5 -4.8 0 -0.1 -6.5 -0.4 -2.1 -0.5 -1.3 -0.9 -1.1 -0.3 -1 0.2 -1.3 1 -1.6 0.5 -1.4 0.6 -4.7 -0.3 -6.5 0.8 -5zM133.5 514.3l2.1 -0.2 1.5 0.3 1 0.9 0.5 1.5 0.3 4 -0.2 6 0.7 8 -0.1 3.5 -0.6 4.5 0 5.5 -42.2 0 0.1 -6.5 0.2 -3 0.5 -2 1 -1.5 2.3 -1.4 2.5 -0.9 1.5 -0.3 5.5 -0.5 1.5 -0.4 5.3 -5 4.1 -4.5 5.1 -4.5 3.5 -2.2 1.9 -0.8z"/>
<path fill="#edd2c3" fill-rule="evenodd" d="M41.1 440.3l0 -0.4 25.5 0.1 7 0.9 1.5 0.4 0.9 0.5 -0.2 0.5 -2.7 0.9 -4.5 0.9 -20.5 0.4 -3.5 -0.3 -3.5 0zM141.3 442.8l0.8 -0.2 0.6 0.2 0.5 0.5 0.4 1.6 1.5 0.3 0.5 0.4 0.3 0.7 0 0.5 -0.3 0.6 -1 0.5 -0.8 -0.1 -0.6 -0.5 -0.3 -1.5 -1.8 -0.6 -0.4 -0.4 -0.1 -1zM133.8 444.3l2.8 0.1 1.5 0.4 1 0.5 1 0.8 1 1.3 1.5 1.1 0.9 1.3 0.7 2.5 0.1 1.5 -0.2 1.5 -1 2.3 -1.5 1.3 -0.5 0.2 -1 -0.1 -1 -0.6 -0.9 -1.1 -0.6 -1.2 -0.4 -1.3 -0.1 -3 -0.5 -0.5 -2.5 0 -2 -0.5 -1.5 -0.8 -1 -1.2 -0.4 -1 0.1 -0.5 1 -1.5 1.6 -1zM45.8 449.8l2.8 -0.3 5.5 0 7 0.4 5.5 -0.1 4 0.3 1.5 0.5 0.8 0.7 0.4 1 -0.1 1.5 -0.3 2 -0.8 2.2 -1 1.8 -1.5 2.1 -4.5 5 -4 3.4 -4.5 4.4 -1.4 1.1 -0.4 1.5 -0.8 6.5 -0.9 2.4 -1 1.4 -1.5 1 -2 0.6 -3 0.2 -4.5 0.1 0 -39.5zM94 485.8l1.1 -0.3 1.5 0.3 0.7 0.5 0.7 1 0.2 2 0.4 0.5 2 0.2 1.2 0.8 0.6 1 0.2 1 -0.3 1 -0.7 0.9 -0.5 0.3 -1 0.1 -1.5 -0.6 -1.2 -1.2 -0.6 -2 -1.8 -0.5 -1.3 -1 -0.6 -1 -0.3 -1.5 0.3 -0.8zM53.5 504.8l4.6 -0.2 9.5 0 3.5 0.2 2 0.3 2.5 1 2 1.4 2.4 2.3 1.6 2.2 1 2.4 0.5 3.4 0.1 9.5 -0.2 6 -0.4 3 -0.8 2.5 -1.1 2 -1.9 2 -0.3 0.5 0 5 -17.6 0 0 -4.5 -0.1 -1 -3 -3.5 -6.7 -6.8 -6 -5.4 -1 -0.5 -3 0 0 -17.3 3 -0.1 0.5 -0.3 2 -1.9 1.5 -0.9 2.5 -0.8zM61.1 519.8l-0.5 0.5 -0.2 0.5 0.1 1 0.7 1.5 1.2 1.5 1.7 1.4 1.5 0.7 1 0.2 1 -0.4 0.4 -0.9 -0.2 -1 -0.7 -1.5 -1 -1.3 -1 -0.9 -1.5 -1 -1.5 -0.5zM146.4 511.8l0.2 -0.2 0.3 0.2 0.5 1 0.6 3 0.5 4.5 0.3 28 -4.5 0 0 -5 -0.3 -5 0.4 -11.5 -0.1 -6 0.7 -5 1 -3.5zM132.6 514.8l2.5 -0.4 1.5 0.1 0.6 0.3 0.6 0.5 0.5 1.5 0.3 4 -0.1 5.5 0.5 7.5 -0.1 5 -0.4 4.5 0 5 -40 0 0 -6.5 0.3 -3 0.5 -2 1.1 -1.5 1.5 -1 2.2 -0.9 7 -0.8 1.1 -0.3 1.3 -1.5 4.1 -4 3.5 -4 3.8 -3.5 4 -3 2.1 -1z"/>
<path fill="#f1ccb8" fill-rule="evenodd" d="M41.1 440.3l0 -0.3 25 0.1 7.5 0.9 1 0.2 1.1 0.6 -0.2 0.5 -2.4 0.8 -6.5 0.9 -17 0.2 -8.5 -0.1zM141.6 442.8l0.8 0 0.7 0.5 0.2 1 -0.2 0.8 -1.5 0.2 -0.7 -0.5 -0.1 -1 0.3 -0.7zM132.5 444.8l2.6 -0.4 1.5 0.1 1.5 0.5 1.3 0.8 1.5 2 1.2 0.7 1 1.1 0.9 2.2 0.1 2.5 -0.3 1.5 -0.5 1 -1.2 1.4 -1 0.5 -1 -0.1 -1 -0.6 -0.7 -0.7 -0.9 -2 -0.2 -1.5 0.1 -2 -0.3 -0.6 -3 -0.1 -1.4 -0.3 -1.2 -0.5 -1.2 -1 -0.7 -1.5 0.3 -1 0.8 -1zM143.6 445.3l1 -0.1 1 0.6 0.2 1 -0.3 0.5 -0.9 0.5 -0.5 -0.1 -0.7 -0.4 -0.2 -1 0 -0.5zM47.9 449.8l6.7 -0.1 16 0.6 1.4 0.5 0.6 0.5 0.4 1 -0.1 2 -0.5 2 -0.8 2 -1.5 2.3 -2 2.5 -3.5 3.7 -3.8 3 -4.2 4 -1.8 1 -0.4 1 -1.2 7.5 -0.3 1 -0.8 1.2 -1.5 1.1 -2 0.6 -3 0.3 -4.5 0 0 -37.4 3.5 0zM94.4 485.8l0.7 -0.1 1 0.1 0.9 0.5 0.5 0.5 0.4 1 0 2 0.2 0.3 2 -0.1 0.8 0.3 0.7 0.5 0.6 1 0.2 1 -0.3 1 -0.5 0.7 -0.5 0.3 -1 0.2 -1.5 -0.6 -0.7 -0.6 -0.6 -1 -0.2 -1.9 -2 -0.2 -1.2 -0.9 -0.8 -1.3 -0.1 -1.2 0.5 -1zM55.5 504.8l12.6 -0.1 3 0.2 2.1 0.4 2.4 1 2.1 1.5 2.4 2.4 1.5 2.1 1 2.7 0.4 3.3 0.1 10 -0.3 5.5 -0.5 3 -0.7 2.1 -1 1.7 -2.1 2.2 -0.3 0.5 0 5 -17.2 0 0 -4.5 -0.1 -1 -2.6 -3 -6.7 -6.9 -6.5 -5.9 -1 -0.5 -3 0 0 -16.9 3 -0.1 3 -2.6 2.5 -1.2 2.5 -0.6zM61.1 519.6l-0.7 0.7 0 1.5 0.7 1.5 1.2 1.5 1.8 1.5 1.5 0.7 1 0.2 1.1 -0.4 0.4 -1 -0.2 -1 -0.7 -1.5 -1.1 -1.4 -1 -0.9 -1.5 -1 -1.5 -0.5zM146.6 511.8l0.5 0.6 0.7 2.9 0.6 5 0.2 28 -4.1 0 -0.2 -10 0.3 -17.5 0.7 -5.5 0.8 -2.9zM134.1 514.8l2 -0.1 1 0.4 0.6 0.7 0.5 1.5 0.2 3.5 0 5.5 0.4 7.5 -0.1 5 -0.3 4.5 0 5 -37.9 0 0 -6.5 0.3 -3 0.6 -2 1.2 -1.5 1 -0.7 1 -0.4 8.5 -1.4 0.5 -0.5 0.9 -1.5 3.8 -4 3.4 -4 3.8 -3.5 2.5 -2 1.7 -1 2.3 -1z"/>
<path fill="#f5c4ac" fill-rule="evenodd" d="M41.1 440.3l0 -0.2 25 0.2 7.5 0.8 1.8 0.7 -0.3 0.5 -2 0.7 -6.5 0.8 -17 0.3 -8.5 -0.2zM141.1 443.3l0.5 -0.3 0.5 -0.1 0.5 0.2 0.5 0.7 -0.2 1 -0.8 0.3 -0.9 -0.3 -0.3 -0.5zM133.2 444.8l1.4 -0.2 1.5 0.1 2.1 0.6 1.3 1 1.1 1.8 1.5 0.7 0.9 1 0.8 2 0.1 2.5 -0.6 2 -0.6 1 -0.6 0.6 -1 0.5 -1 -0.1 -0.9 -0.5 -0.6 -0.7 -0.5 -0.8 -0.5 -1.5 0 -3.5 -0.5 -0.4 -2.5 0 -1.5 -0.2 -2 -0.9 -0.9 -1 -0.2 -0.5 0 -1 0.5 -1 1.3 -1zM143.5 445.8l0.6 -0.4 1 0.2 0.6 0.7 -0.1 0.6 -0.5 0.6 -1 0 -0.7 -0.7zM41.1 450.3l12.5 -0.4 14.5 0.4 3.2 0.5 0.8 0.5 0.5 1 0 1.5 -0.5 2.2 -1 2.3 -1 1.6 -2 2.5 -3.5 3.7 -4 3.1 -4 3.5 -0.5 0.3 -1.5 0.5 -0.3 0.3 -0.4 1 -1.3 6.3 -0.8 2.2 -0.8 1 -1.9 0.8 -3 0.3 -5 0.1zM93.9 486.3l0.7 -0.4 1 0 1 0.3 0.6 0.6 0.4 0.6 0.2 0.9 -0.2 1.1 -0.5 0.8 -0.5 0.3 -1 0.1 -0.9 -0.3 -0.6 -0.5 -0.7 -1 -0.3 -1 0.3 -1zM98.8 490.3l0.8 -0.1 1 0.2 1.2 0.9 0.4 1 -0.1 1 -0.5 0.9 -0.5 0.4 -1 0.2 -1 -0.3 -1 -0.7 -0.5 -0.7 -0.3 -0.8 0.2 -1 0.3 -0.5zM52 505.3l4.6 -0.4 7.5 -0.1 5.5 0.1 3 0.4 2.5 0.9 1.8 1.1 2.2 2 2 2.5 1.2 2.5 0.5 3.5 0.1 9.5 -0.2 6 -0.4 3 -0.8 2.5 -1.3 2 -2 2 -0.3 0.5 -0.1 5 -16.6 0 0 -4.5 -0.2 -1 -2.6 -3 -6.8 -7 -6.5 -5.9 -1 -0.5 -3 0 0 -16.5 3 -0.1 0.5 -0.3 1.6 -1.7 1.4 -1 2 -0.9zM60.6 519.8l-0.4 1 0.3 1.5 0.9 1.5 1.2 1.4 1.5 1.2 1.5 0.7 1.5 0.2 0.8 -0.5 0.3 -1 -0.4 -1.5 -0.9 -1.5 -1.3 -1.5 -1.5 -1.1 -1.5 -0.7 -1 -0.1zM146.4 512.3l0.2 -0.3 0.5 0.7 0.1 0.6 0.6 2.5 0.5 5 0.2 27.5 -3.9 0 -0.1 -9.5 0.2 -18 0.6 -5 0.8 -3zM133.4 515.3l2.2 -0.3 1.2 0.3 0.8 0.9 0.4 1.6 0.6 15.5 -0.1 5.5 -0.3 4.5 0 5 -35.7 0 0.2 -8.5 0.3 -2 0.8 -1.5 0.8 -0.6 2.4 -0.9 7.2 -1.5 0.5 -0.5 0.5 -1.5 0.4 -0.5 3.6 -4 2.7 -3.5 1.4 -1.5 2.8 -2.5 2.7 -2 1.8 -1z"/>
<path fill="#f7bca1" fill-rule="evenodd" d="M41.1 440.3l25 0.1 7.5 0.8 1.5 0.6 -0.3 0.5 -1.7 0.5 -6.5 0.8 -17.5 0.3 -8 -0.1zM141.4 443.3l0.7 -0.2 0.6 0.2 0.2 0.5 0 0.5 -0.3 0.5 -1 0.1 -0.5 -0.6 0 -0.5zM134.6 444.8l2 0.2 2 0.8 0.9 1 0.6 1.5 2 0.9 1 1.3 0.6 1.8 -0.1 2.5 -0.8 2 -1.2 1.1 -0.5 0.1 -1 0 -1 -0.7 -0.5 -0.6 -0.5 -1 -0.3 -1.4 0.1 -3 -0.1 -0.5 -0.2 -0.2 -2.5 0.1 -2 -0.2 -1.5 -0.7 -1 -1 -0.3 -1 0 -0.5 0.6 -1 1.5 -1zM143.8 445.8l0.8 -0.2 0.6 0.2 0.3 0.5 -0.1 0.5 -0.3 0.5 -0.5 0.1 -0.6 -0.1 -0.4 -0.5 0 -0.5zM45.8 450.3l9.3 -0.3 14.5 0.7 1.5 0.4 0.8 0.7 0.3 1 0 1 -0.6 2.3 -1 2.2 -2 2.8 -3 3.3 -1.5 1.3 -3.5 2.5 -4 3.3 -1 0.5 -1.5 0.2 -0.5 0.4 -1.9 6.2 -0.6 1.2 -1 1.2 -1.5 1 -1.5 0.4 -2 0.2 -4 0.1 0 -32.5zM94.3 486.3l0.8 -0.2 1 0.1 0.9 0.6 0.3 0.5 0.2 1.5 -0.4 1 -0.5 0.4 -0.5 0.2 -1 -0.1 -0.8 -0.5 -0.7 -1 -0.3 -1 0.1 -0.5 0.2 -0.5zM98.3 490.8l0.8 -0.3 1 -0.1 0.9 0.4 0.5 0.5 0.3 0.5 0.1 1 -0.3 1 -0.4 0.5 -0.6 0.3 -1 -0.1 -1 -0.5 -0.7 -0.7 -0.3 -0.7 0 -0.8zM53.2 505.3l4.9 -0.3 9 0 3.5 0.2 2.5 0.4 2 0.8 2.2 1.4 2.3 2.2 1.6 2.3 1 2.5 0.5 3 0.1 9.5 -0.2 6 -0.5 3.1 -1 2.8 -1.1 1.6 -2.2 2 -0.3 0.5 0 5 -16.2 0 0 -5 -0.9 -1.5 -7.8 -8.1 -7.5 -6.9 -1 -0.5 -3 -0.1 0 -15.9 3 -0.2 0.5 -0.3 1.9 -2 1.4 -1 2.6 -1zM61.6 519.3l-0.5 0.1 -0.7 0.4 -0.3 1 0.3 1.5 0.9 1.5 1.8 1.9 1.5 1.1 1.5 0.5 1 0.1 0.5 -0.2 0.5 -0.4 0.2 -0.5 -0.1 -1 -0.3 -1 -0.9 -1.5 -1.4 -1.6 -1.5 -1.1 -1.5 -0.7zM146.6 512.3l0.5 0.9 0.5 2.6 0.6 5 0.2 27.5 -3.7 0 0.2 -27.5 0.6 -5 0.6 -2.6zM133.1 515.8l2 -0.4 1.5 0.3 0.6 0.6 0.5 1.5 0.7 15 -0.4 10.5 0 5 -32.8 0 0.1 -7.5 0.5 -2 1 -1.5 2.3 -1.5 6.5 -2 0.4 -0.5 0.4 -2 3.7 -4.5 3 -4 3.2 -3 2.6 -2 1.7 -1z"/>
<path fill="#f7b396" fill-rule="evenodd" d="M41.1 440.8l0 -0.5 25 0.2 7 0.8 1.7 0.5 -0.4 0.5 -1.8 0.5 -6 0.7 -25.5 0.2zM141.8 443.3l0.4 0 0.5 0.5 -0.1 0.6 -0.5 0.3 -0.7 -0.4 -0.1 -0.5zM133.1 445.3l2.5 -0.3 1.4 0.3 1.1 0.5 1.1 1 0.4 2 2 0.4 1 1 0.7 1.6 0.2 2 -0.5 2 -0.4 0.8 -0.7 0.7 -0.8 0.4 -1 -0.1 -1 -0.7 -0.5 -0.7 -0.5 -1.3 -0.1 -1.1 0.3 -3 0 -0.5 -0.2 -0.2 -2.5 0.4 -2 -0.1 -1.5 -0.6 -1.1 -1 -0.4 -1 0.3 -1 1.1 -1zM144.4 445.8l0.3 0 0.5 0.5 0 0.5 -0.6 0.4 -0.7 -0.4 0 -0.5zM48.8 450.3l7.3 -0.1 11.2 0.6 2.3 0.3 0.9 0.2 0.8 0.5 0.4 1 -0.1 1.4 -0.6 2.1 -1.4 2.5 -1.5 2 -2.5 2.7 -1.5 1.3 -3.5 2.3 -4 3 -1 0.4 -2.5 0.5 -0.6 0.8 -1.4 3.4 -1.5 1.7 -1.5 0.8 -1.5 0.4 -5.5 0.2 0 -27.7zM95.1 486.3l0.5 0 1 0.5 0.6 1 0.1 1 -0.2 0.5 -0.4 0.5 -0.6 0.3 -0.5 0.1 -1 -0.4 -0.5 -0.5 -0.5 -1 0 -0.9 0.4 -0.6zM98.9 490.8l0.7 -0.1 0.9 0.1 0.6 0.4 0.4 0.6 0.2 0.5 -0.1 1 -0.3 0.5 -0.6 0.5 -1.1 0 -0.5 -0.2 -0.9 -0.8 -0.3 -0.5 0 -1 0.3 -0.5zM55 505.3l13.1 -0.1 2.5 0.1 2.5 0.5 2.5 1 2 1.5 2 2 1.5 2.1 1 2.5 0.4 3.4 0.1 10.5 -0.3 5 -0.6 3.5 -0.9 2 -1.1 1.5 -2.3 2 -0.3 0.5 -0.1 5 -15.6 0 0 -4.5 -0.2 -1 -3 -3.5 -6.6 -6.7 -6.5 -6 -1 -0.4 -3 -0.1 0 -15.4 3 -0.2 0.5 -0.3 2.2 -2.4 1.3 -0.9 1.4 -0.6 2.1 -0.6zM61.1 519.2l-0.9 0.6 -0.2 1 0.3 1.5 1.3 2 1.5 1.5 2 1.3 1.5 0.4 1.1 -0.2 0.5 -0.5 0.2 -0.5 0 -1 -0.6 -1.5 -1.1 -1.5 -1.1 -1.2 -1.5 -1.1 -1.5 -0.7zM146.5 512.8l0.1 -0.1 0.5 1.1 0.5 2.5 0.4 4.5 0.3 27.5 -3.4 0 0.1 -27 0.6 -5.5 0.5 -2.1zM133.2 516.3l1.9 -0.3 1 0.1 0.5 0.2 0.5 0.7 0.4 1.8 0.8 14 -0.1 5.5 -0.3 5 -0.1 5 -27.9 0 0.1 -7 0.4 -2 0.8 -1.5 1.8 -1.5 3.6 -1.5 0.5 -0.3 0.3 -0.7 0.5 -2.5 5.7 -8 0.9 -1 4.6 -4 2 -1.2z"/>
<path fill="#f7a98b" fill-rule="evenodd" d="M41.1 440.8l0 -0.3 25 0.1 6.2 0.7 2.1 0.5 -0.4 0.5 -1.4 0.4 -6 0.6 -25.5 0.2zM141.7 443.8l0.4 -0.2 0.2 0.2 -0.1 0.5 -0.3 0zM134.4 445.3l2.2 0.2 1.7 0.8 0.4 0.5 0.4 1 -0.5 1.3 -1.5 0.8 -2 0.4 -2 -0.4 -1.2 -0.6 -0.8 -1 0 -1 0.2 -0.5 1.3 -1zM144.3 446.3l0.3 -0.1 0.2 0.1 -0.1 0.5 -0.3 0zM139.4 449.8l1.2 -0.4 1 0.3 1 1 0.5 1.3 0.1 1.8 -0.3 1.5 -0.8 1.4 -1 0.6 -1 -0.1 -0.6 -0.4 -0.8 -1 -0.3 -1 -0.2 -1.5 0.1 -1 0.4 -1.5zM41.1 450.8l13.5 -0.4 13 0.8 1.5 0.2 1.2 0.4 0.5 0.5 0.2 0.5 0 1 -0.6 2 -1.3 2.5 -2.5 3.1 -2.5 2.3 -8 5 -3.5 0.5 -1 0.4 -1.5 2.2 -1.5 1.1 -1.5 0.4 -1.5 0.2 -4.5 0.1zM94.5 486.8l1.1 -0.2 0.5 0.2 0.6 0.5 0.3 1 -0.1 0.5 -0.3 0.6 -0.5 0.4 -1 0 -1 -1 -0.3 -1 0.2 -0.5zM98.6 491.3l1 -0.3 0.5 0 1 0.7 0.3 1.1 -0.5 1 -0.8 0.3 -0.5 -0.1 -1.1 -0.7 -0.4 -1zM52.2 505.8l4.4 -0.4 7.5 -0.1 5 0.1 3.5 0.4 2.5 0.9 2 1.4 2.5 2.4 1.5 2.2 1 3.1 0.3 3 0 10 -0.3 5.5 -0.5 2.5 -1 2.5 -1.2 1.5 -2.4 2 -0.4 0.5 0 5 -15 0 0 -4.5 -0.2 -1 -2.6 -3 -7.2 -7.4 -6.5 -5.9 -1 -0.5 -3 -0.1 0 -14.7 3 -0.2 0.5 -0.3 1.9 -2.4 1.4 -1 2.2 -1zM60.6 519.3l-0.5 0.4 -0.2 0.6 0 1 0.6 1.5 1.4 2 1.7 1.5 2 1.1 1.5 0.2 1 -0.4 0.4 -0.9 -0.2 -1.5 -0.7 -1.5 -1.2 -1.5 -1.3 -1.2 -2 -1.2 -1.5 -0.3zM146.5 513.3l0.1 -0.2 0.5 1.3 0.8 6.4 0.3 27.5 -3.2 0 0.2 -27 0.6 -5.5 0.3 -1.6zM133.8 516.8l1.3 -0.2 1 0.2 0.5 0.5 0.2 0.5 0.4 1.5 0.9 13.5 -0.4 10 0 5.5 -23.1 0 0 -6 0.3 -2.5 1 -2 1.1 -1 1.6 -1 0.3 -0.5 0.5 -3.5 0.4 -1 4.8 -7.4 1 -1.1 2.2 -2 2.3 -1.8 2 -1.1z"/>
<path fill="#f59f80" fill-rule="evenodd" d="M41.1 440.8l0 -0.2 25 0.2 5 0.5 2.8 0.5 -0.4 0.5 -0.9 0.2 -6.5 0.7 -25 0.2zM133.4 445.8l1.7 -0.2 2 0.4 1.1 0.8 0.4 1 -0.1 0.5 -0.9 1 -1.5 0.6 -2 0 -1.5 -0.5 -1 -1.1 0 -1 0.8 -1zM139.6 450.3l1 -0.4 1 0.3 0.9 1.1 0.3 1 0.1 1.5 -0.3 1.5 -0.7 1 -0.8 0.5 -0.8 0 -0.7 -0.4 -0.5 -0.6 -0.5 -1.3 0 -2.2 0.5 -1.4zM47.4 450.8l8.2 -0.2 9.5 0.7 3 0.4 1 0.4 0.8 0.7 0.1 1 -0.4 1.6 -1 1.9 -1.5 2 -2 2.1 -1.1 0.9 -7.4 4.2 -1.5 0.4 -5.5 0.6 -4 0.9 -4.5 0.1 0 -17.4 3.5 -0.1zM94.5 487.3l0.6 -0.3 1 0.3 0.5 1 -0.5 1 -0.5 0.2 -0.5 -0.1 -0.5 -0.4 -0.3 -0.7 -0.1 -0.5zM98.7 491.8l0.9 -0.5 1 0.4 0.3 0.6 -0.1 1 -0.7 0.4 -1 -0.3 -0.5 -0.6 -0.1 -0.5zM53.6 505.8l5 -0.3 8.5 0 3.5 0.2 2.5 0.5 2 0.8 2 1.3 2.5 2.5 1.3 2 0.9 2.5 0.4 3.5 0 10.5 -0.3 5 -0.8 3.4 -1 1.9 -1 1.2 -2.7 2 -0.3 0.5 -0.1 5 -14.2 0 -0.1 -5 -0.2 -0.5 -0.7 -1 -8.2 -8.5 -7.5 -6.9 -1 -0.6 -3 0 0 -14.1 3 -0.1 0.5 -0.4 1.8 -2.4 1.7 -1.4 2.8 -1.1zM60.6 519.1l-0.7 0.7 -0.1 1.5 0.5 1.5 1.5 2 1.8 1.6 2 1.1 1.5 0.3 1 -0.4 0.4 -0.6 0.2 -0.5 -0.3 -1.5 -0.7 -1.5 -1.2 -1.5 -1.4 -1.3 -1.5 -1 -1.5 -0.5zM146.5 513.8l0.1 -0.2 0.5 1.5 0.7 5.7 0.2 27.5 -2.8 0 0.1 -27 0.6 -5.5zM133.7 517.8l1.4 -0.2 1 0.5 0.5 1 0.5 2.9 0.8 10.8 -0.1 5 -0.4 5 0 5.5 -17.6 0 0 -6 1 -4.5 0.7 -6.5 5.1 -8.5 2.1 -2 1.9 -1.5 1.8 -1z"/>
<path fill="#f39475" fill-rule="evenodd" d="M41.1 440.8l25 0.1 4.2 0.4 2.9 0.5 -0.6 0.5 -6 0.7 -25.5 0.2zM133.3 446.3l1.8 -0.3 1.7 0.3 0.8 0.5 0.3 0.5 0 1 -0.8 0.8 -1 0.4 -1.5 0.1 -1.2 -0.3 -0.8 -0.5 -0.5 -1 0.4 -1zM51.6 450.8l5.5 0.1 7.9 0.9 1.9 0.5 0.9 0.5 0.4 0.5 0.1 1 -0.3 1 -0.9 1.6 -1 1.4 -1.5 1.5 -2.5 1.5 -6 2.9 -5 0.5 -10 0.2 0 -13.5 3.5 -0.1zM139.9 450.8l0.7 -0.3 1 0.3 0.5 0.6 0.3 0.9 0.2 1 -0.3 1.5 -0.6 1 -0.6 0.4 -0.5 0.1 -0.9 -0.5 -0.7 -1.5 0 -2 0.4 -1zM95.1 488.3l0.5 -0.2 0.1 0.2 -0.1 0.1zM99.5 492.3l0.3 0 -0.2 0.5zM56.5 505.8l12.1 0 2.5 0.2 2 0.4 2.2 0.9 2.3 1.8 2.1 2.2 1.4 2.4 0.7 2.6 0.3 4 -0.1 9.5 -0.4 5 -0.8 3 -1.2 2 -1.5 1.5 -2.3 1.5 -0.4 0.5 -0.1 5 -13.3 0 -0.1 -5 -0.5 -1 -7.3 -7.7 -9 -8.4 -1 -0.6 -3 -0.1 0 -13.1 2.5 0 0.5 -0.2 2.6 -3.4 1.3 -1 1.1 -0.6 2.8 -0.9zM60.1 519.2l-0.5 1.1 0.2 1.5 1 2 1.3 1.5 1.5 1.3 2 1 1.5 0.3 1 -0.3 0.4 -0.3 0.2 -0.5 0.1 -1 -0.4 -1.5 -0.9 -1.5 -1.4 -1.6 -1.5 -1.2 -2 -1 -1.5 -0.2zM146.4 514.8l0.2 -0.5 0.5 1.6 0.5 4.9 0.2 27.5 -2.4 0 0.1 -27 0.6 -5.5zM134.1 519.3l1 0.1 0.5 0.3 0.5 0.9 0.5 1.7 0.5 3 0.4 3.5 0.2 6 -0.6 8 0 5.5 -13.7 0 0.1 -11.5 0.3 -3.5 0.3 -2 3 -6 1.6 -2.5 2.9 -2.4 1.5 -0.8z"/>
<path fill="#ef886b" fill-rule="evenodd" d="M41.1 441.3l0 -0.3 24.5 0.1 2.9 0.2 3.6 0.5 -0.5 0.5 -5 0.5 -25.5 0.2zM133.8 446.8l1.3 -0.2 1 0.1 0.8 0.6 0.2 0.5 -0.2 0.5 -0.8 0.5 -1 0.2 -1 -0.1 -0.9 -0.6 -0.2 -0.5 0.1 -0.5zM48.4 451.3l7.2 -0.3 3.6 0.3 2.9 0.5 1.8 0.5 1 0.5 0.8 1 0 1 -1 2 -1.6 1.5 -3 1.8 -4 1.5 -4.5 0.3 -7 -0.7 -3.5 0 0 -9.4 3.5 0zM140 451.8l0.6 -0.4 0.5 0.1 0.7 0.8 0.1 1.5 -0.3 1 -0.5 0.5 -0.5 0.1 -0.5 -0.3 -0.5 -0.8 -0.1 -1.5zM53.5 506.3l4.6 -0.3 8 -0.1 4 0.2 2.5 0.4 2.1 0.8 2.2 1.5 2.2 2.2 1.5 2.2 0.5 1.3 0.4 1.8 0.3 3.5 0 10 -0.5 5 -0.7 2.7 -1.3 2.3 -1.7 1.5 -2.7 1.5 -0.5 0.5 -0.1 5 -12.1 0 0 -4.5 -0.2 -1 -0.4 -0.5 -7.5 -7.8 -9 -8.5 -1 -0.6 -3 -0.1 0 -11.9 2.5 0 0.5 -0.2 0.5 -0.6 1.7 -2.8 1.5 -1.5 2.3 -1.2zM60.6 518.8l-0.8 0.5 -0.2 0.5 -0.1 1.5 0.9 2 1.6 2 2.1 1.7 2 0.9 1.5 0.1 1 -0.6 0.4 -1.1 -0.2 -1 -0.6 -1.5 -1.4 -2 -1.7 -1.6 -2 -1.1 -1.5 -0.4zM146.6 515.3l0.5 2.1 0.3 3.9 0.3 27 -2.2 0 0.2 -26.5 0.4 -4.8zM132.5 522.3l1.1 -0.4 1 0 1 0.7 0.5 1 0.5 1.6 0.5 2.7 0.3 6.4 -0.2 4.5 -0.6 4 0 5.5 -9.5 0 0 -5.5 -0.7 -7 0.1 -2.5 0.2 -2 1.1 -3 1.7 -3 1.6 -2z"/>
<path fill="#ea7b60" fill-rule="evenodd" d="M41.1 441.3l24.5 0.1 4.6 0.4 -0.9 0.5 -3.2 0.2 -25 0.2zM52.6 451.3l4.5 0.1 2.6 0.4 1.7 0.5 0.9 0.5 0.6 0.5 0.3 1 -0.3 1 -1 1.5 -1.8 1.3 -2.5 1.2 -2.5 0.5 -2.5 0.1 -2.5 -0.3 -2.6 -0.8 -3.4 -1.6 -3 -0.1 0 -4.3 3 -0.1 3.8 -0.9zM56.9 506.3l10.7 -0.1 2.5 0.2 2.5 0.4 2.4 1 2.1 1.5 2 2.1 1.5 2.6 0.7 2.8 0.3 5 -0.1 8.5 -0.6 5 -0.8 2.5 -1.5 2.2 -1.7 1.3 -3.3 1.5 -0.7 0.5 -0.2 1 0 4 -10 0 -0.1 -4.5 -0.2 -1 -0.5 -0.5 -9.3 -9.5 -8 -7.5 -1 -0.4 -2.5 0 0 -9.9 2.5 -0.1 0.5 -0.3 2.5 -4.7 1.1 -1.1 1.4 -0.9 1.4 -0.6 1.8 -0.5zM60.1 518.8l-0.7 1 0 1.5 0.8 2 1.6 2 1.8 1.5 2 1.1 1 0.3 1 0 1 -0.5 0.3 -0.4 0.2 -1 -0.3 -1.5 -1 -2 -1.2 -1.4 -1.5 -1.3 -2 -1.2 -1.5 -0.4 -1 0.1zM146.5 517.3l0.1 -0.4 0.6 4.4 0.1 27 -1.4 0 0.1 -27 0.1 -1.7zM132.7 524.8l1.4 -0.4 1 0.3 0.5 0.4 0.5 0.9 0.5 1.6 0.4 2.2 0.2 2.5 -0.1 3.5 -0.5 3.9 -0.9 3.6 0 5 -4.5 0 0 -5 -1.9 -4 -0.8 -3.5 0 -3.5 0.8 -3 1.3 -2.5 1 -1.2z"/>
<path fill="#e46e56" fill-rule="evenodd" d="M51.2 451.8l4.4 -0.1 3.6 0.6 1 0.5 0.5 0.5 0.3 0.5 0 1 -0.6 1 -1.1 1 -1.2 0.7 -1.5 0.6 -3 0.3 -3 -0.4 -1.7 -0.7 -1.5 -1 -0.8 -1 -0.2 -1 0.4 -1 0.7 -0.5 1.2 -0.5zM54.9 506.8l5.2 -0.3 7 0 3.8 0.3 2.2 0.5 2.1 1 2.4 2 2 2.5 1 2.3 0.6 4.2 0 8.5 -0.3 5 -0.3 2.1 -0.5 1.8 -0.5 1.1 -1 1.5 -1.7 1.5 -2.2 1 -5.7 1.5 -0.9 0.5 -0.1 4.5 -3.9 0 0 -4 0 -0.5 -0.3 -0.5 -3.2 -2.5 -6 -6.2 -8.1 -7.8 -2.4 -2.8 -0.5 -0.5 -0.5 -0.1 -2 0 0 -3.8 2 0 0.5 -0.3 0.5 -1.1 1.5 -5.5 0.7 -1.4 0.8 -1.2 1.4 -1.3 1.8 -1 1.6 -0.5zM60.1 518.5l-0.5 0.4 -0.4 0.9 0 1.5 0.6 1.5 1.4 2 1.9 1.9 2.5 1.4 1.5 0.3 1 -0.2 0.5 -0.2 0.7 -1.2 -0.1 -1 -0.2 -1 -1.1 -2 -1.2 -1.5 -1.6 -1.4 -1.5 -0.9 -2 -0.6zM133.1 526.8l0.5 -0.2 1 -0.1 1 0.8 0.7 1.5 0.4 2.5 0 4 -0.6 3.5 -0.5 1.1 -0.5 0.6 -1 0.5 -0.5 -0.1 -1 -0.5 -1.3 -1.6 -0.9 -2 -0.4 -2.5 0.1 -2.5 0.6 -2 0.9 -1.7z"/>
<path fill="#dd5f4b" fill-rule="evenodd" d="M52 452.3l3.1 -0.1 2.5 0.5 1 0.6 0.3 0.5 0 1 -0.8 1 -2 1 -2 0.3 -2.5 -0.4 -1.8 -0.9 -0.4 -0.5 -0.5 -1 0.1 -0.5 0.6 -0.6 0.6 -0.4zM54.8 507.3l4.3 -0.3 5.5 -0.1 4 0.1 3 0.4 2.5 0.9 1.6 1 1.9 1.7 1.5 1.9 1 2.1 0.6 3.3 0.2 6 -0.3 7.1 -0.5 3.2 -0.9 2.7 -1.1 1.6 -1.6 1.4 -2.2 1 -3.7 0.7 -5.5 0.3 -1.5 -0.1 -1 -0.3 -2 -1.5 -13.8 -13.6 -1.2 -1.5 -0.4 -1 -0.2 -1 0.1 -4.5 0.5 -3.8 1 -3 1.2 -1.7 1.9 -1.5 2.5 -1zM60.6 518.2l-1.2 0.6 -0.3 0.5 -0.2 1 0.5 2 1.5 2.5 1.7 1.7 2.5 1.6 2 0.5 1.5 -0.3 0.8 -1 0 -1.5 -0.4 -1.5 -1.2 -2 -1.7 -1.8 -2 -1.5 -2 -0.7zM133.3 528.8l0.8 -0.3 1 0.3 0.6 1 0.5 2 0 3 -0.4 2 -0.7 1.2 -1 0.4 -1 -0.4 -0.7 -0.7 -0.7 -1.5 -0.4 -1.5 0 -1.5 0.3 -1.6 0.7 -1.4z"/>
<path fill="#d55042" fill-rule="evenodd" d="M52.8 453.3l1.3 -0.2 1.4 0.2 0.8 0.5 0.1 0.5 -0.3 0.5 -0.9 0.5 -1.1 0.1 -1 -0.1 -1 -0.5 -0.3 -0.5 0.2 -0.5zM56.6 507.8l4 -0.3 4.5 -0.1 4 0.2 2.5 0.5 2 0.7 1.6 1 1.9 1.7 1.5 2 1 2.2 0.6 3.1 0.2 5.5 -0.4 6 -0.4 2.6 -1 3.1 -1.5 2.2 -2 1.5 -3 1.1 -3.5 0.5 -4.5 0.1 -1 -0.1 -1 -0.3 -1 -0.7 -2 -1.8 -10.8 -10.7 -1.7 -2 -0.5 -1 -0.1 -1 0.1 -5 0.5 -3.5 1 -2.7 1.3 -1.8 2.1 -1.5 2.8 -1zM59.6 518.2l-0.8 1.1 -0.1 1 0.1 1 1.1 2.5 1.6 2 2.1 1.7 2 1 2 0.3 1 -0.2 0.5 -0.4 0.3 -0.4 0.3 -1 -0.3 -2 -1 -2 -1.3 -1.7 -2 -1.7 -1.5 -0.9 -1.5 -0.5 -1 -0.1zM133.6 531.3l0.5 -0.2 0.5 0.1 0.5 0.6 0.2 1 -0.2 1.9 -0.5 0.8 -0.5 0.1 -0.5 -0.3 -0.3 -0.5 -0.3 -1 0.1 -1.5z"/>
<path fill="#cc403a" fill-rule="evenodd" d="M61 508.3l3.6 -0.1 3 0.1 2.8 0.5 2.2 0.8 2 1.3 2 1.9 1.4 2 0.8 2 0.6 3.5 0.1 4.5 -0.4 4.3 -0.9 3.2 -1.1 2 -2 2.1 -2.5 1.7 -2.5 1 -3 0.6 -3 0.1 -2 -0.2 -1.5 -0.7 -3.5 -2.9 -6.2 -6.2 -2.2 -2.5 -0.6 -1 -0.4 -1 -0.1 -3.5 0.5 -3.5 1 -2.9 1.5 -2.4 1.7 -1.7 2.3 -1.5 3 -1zM60.1 517.7l-1 0.5 -0.5 0.6 -0.3 1.5 0.5 2 1.4 2.5 1.3 1.5 1.1 0.9 2.5 1.4 1.5 0.5 1 0 1.5 -0.4 0.7 -0.9 0.2 -1 0 -1 -0.6 -2 -1.6 -2.5 -1.7 -1.6 -2 -1.3 -2.5 -0.8z"/>
<path fill="#c32e31" fill-rule="evenodd" d="M61.2 509.8l2.9 -0.2 3 0.2 2.3 0.5 2.2 1 2.1 1.5 1.9 2 1.2 2 0.9 2.5 0.4 3 0 3 -0.7 3 -1.1 2.5 -1.7 2.2 -2 1.8 -2.5 1.4 -2.5 0.8 -2.5 0.3 -2.5 0 -2 -0.4 -2 -0.9 -2.8 -2.2 -2.9 -3 -1.8 -2.5 -0.7 -2 -0.4 -2.5 0.2 -3 0.9 -3 1.4 -2.5 1.7 -2 1.9 -1.6 2.5 -1.2zM59.6 517.3l-0.5 0.2 -0.8 0.8 -0.4 1 0 1 0.3 2 0.6 2 1.3 2.4 1.5 1.2 3 1.2 3 0.5 1 -0.1 1 -0.5 0.8 -1.2 0.1 -2 -0.9 -4 -1.1 -2 -1.4 -1.2 -1.5 -0.6 -4 -0.9 -1 0z"/>
<path fill="#b8122a" fill-rule="evenodd" d="M62 512.8l2.1 -0.2 2.5 0.2 1.7 0.5 2 1 1.8 1.5 1.5 1.9 1 2.2 0.3 1.4 0.2 2.5 -0.3 2 -0.7 2.1 -1 1.6 -1.1 1.3 -1.9 1.5 -2 1 -1.8 0.5 -2.2 0.2 -1.8 -0.2 -1.8 -0.5 -2 -1 -1.9 -1.5 -1.5 -1.9 -1 -2 -0.5 -1.8 -0.1 -1.8 0.1 -1.9 0.5 -1.8 1 -2 1.4 -1.8 1.8 -1.5 2 -1zM62.1 514.7l-3.5 1.3 -1.1 0.8 -0.7 1 -1.1 3 -0.3 2 0.3 2.5 0.7 2 1 1.5 1.2 1.2 1.5 1 2 0.8 1.5 0.2 2 0 1.5 -0.4 3 -1 1.3 -1.3 1.6 -4 0.2 -1.5 0 -1.5 -0.3 -1.5 -0.6 -1.5 -1 -1.5 -0.9 -1 -1.3 -1 -1.5 -0.7 -2.5 -0.6 -1.5 0z"/>
<path d="M53.86 533.56L115.44 472.75" stroke="#3b4cc0" stroke-width="1.2" fill="none" opacity="0.97"/>
<path d="M124.96 463.34L166.38 422.43" stroke="#3b4cc0" stroke-width="1.2" fill="none" opacity="0.97"/>
<path d="M166.20 422.43L189.10 398.90L226.12 362.70L259.65 330.12" stroke="#3b4cc0" stroke-width="1.45" fill="none" opacity="0.8" stroke-dasharray="1.5 0.55" stroke-linecap="round" filter="url(#sb3)"/>
<ellipse cx="63.54" cy="522.85" rx="4.6" ry="2.2" transform="rotate(40 63.54 522.85)" fill="#3b4cc0" opacity="0.92"/>
<path d="M138.89 444.87L143.66 449.58" stroke="#3b4cc0" stroke-width="0.85" fill="none" opacity="0.85"/>
<path d="M141.27 443.25L145.31 447.23" stroke="#3b4cc0" stroke-width="0.85" fill="none" opacity="0.85"/>
</g>
<line x1="46.35" x2="46.35" y1="316.10" y2="554.00" stroke="#b0b0b0" stroke-width="0.7"/>
<line x1="83.00" x2="83.00" y1="316.10" y2="554.00" stroke="#b0b0b0" stroke-width="0.7"/>
<line x1="119.65" x2="119.65" y1="316.10" y2="554.00" stroke="#b0b0b0" stroke-width="0.7"/>
<line x1="156.30" x2="156.30" y1="316.10" y2="554.00" stroke="#b0b0b0" stroke-width="0.7"/>
<line x1="192.95" x2="192.95" y1="316.10" y2="554.00" stroke="#b0b0b0" stroke-width="0.7"/>
<line x1="229.60" x2="229.60" y1="316.10" y2="554.00" stroke="#b0b0b0" stroke-width="0.7"/>
<line x1="266.25" x2="266.25" y1="316.10" y2="554.00" stroke="#b0b0b0" stroke-width="0.7"/>
<line x1="35.30" x2="276.80" y1="543.70" y2="543.70" stroke="#b0b0b0" stroke-width="0.7"/>
<line x1="35.30" x2="276.80" y1="507.50" y2="507.50" stroke="#b0b0b0" stroke-width="0.7"/>
<line x1="35.30" x2="276.80" y1="471.30" y2="471.30" stroke="#b0b0b0" stroke-width="0.7"/>
<line x1="35.30" x2="276.80" y1="435.10" y2="435.10" stroke="#b0b0b0" stroke-width="0.7"/>
<line x1="35.30" x2="276.80" y1="398.90" y2="398.90" stroke="#b0b0b0" stroke-width="0.7"/>
<line x1="35.30" x2="276.80" y1="362.70" y2="362.70" stroke="#b0b0b0" stroke-width="0.7"/>
<line x1="35.30" x2="276.80" y1="326.50" y2="326.50" stroke="#b0b0b0" stroke-width="0.7"/>
</g>
<rect x="35.30" y="316.10" width="241.50" height="237.90" fill="none" stroke="#1a1a1a" stroke-width="0.75"/>
<line x1="46.35" x2="46.35" y1="554.00" y2="557.00" stroke="#1a1a1a" stroke-width="0.7"/>
<text x="46.35" y="564.60" font-size="7.0" text-anchor="middle" textLength="12.0" lengthAdjust="spacingAndGlyphs" >400</text>
<line x1="83.00" x2="83.00" y1="554.00" y2="557.00" stroke="#1a1a1a" stroke-width="0.7"/>
<text x="83.00" y="564.60" font-size="7.0" text-anchor="middle" textLength="12.0" lengthAdjust="spacingAndGlyphs" >500</text>
<line x1="119.65" x2="119.65" y1="554.00" y2="557.00" stroke="#1a1a1a" stroke-width="0.7"/>
<text x="119.65" y="564.60" font-size="7.0" text-anchor="middle" textLength="12.0" lengthAdjust="spacingAndGlyphs" >600</text>
<line x1="156.30" x2="156.30" y1="554.00" y2="557.00" stroke="#1a1a1a" stroke-width="0.7"/>
<text x="156.30" y="564.60" font-size="7.0" text-anchor="middle" textLength="12.0" lengthAdjust="spacingAndGlyphs" >700</text>
<line x1="192.95" x2="192.95" y1="554.00" y2="557.00" stroke="#1a1a1a" stroke-width="0.7"/>
<text x="192.95" y="564.60" font-size="7.0" text-anchor="middle" textLength="12.0" lengthAdjust="spacingAndGlyphs" >800</text>
<line x1="229.60" x2="229.60" y1="554.00" y2="557.00" stroke="#1a1a1a" stroke-width="0.7"/>
<text x="229.60" y="564.60" font-size="7.0" text-anchor="middle" textLength="12.0" lengthAdjust="spacingAndGlyphs" >900</text>
<line x1="266.25" x2="266.25" y1="554.00" y2="557.00" stroke="#1a1a1a" stroke-width="0.7"/>
<text x="266.25" y="564.60" font-size="7.0" text-anchor="middle" textLength="16.0" lengthAdjust="spacingAndGlyphs" >1000</text>
<line x1="32.30" x2="35.30" y1="543.70" y2="543.70" stroke="#1a1a1a" stroke-width="0.7"/>
<text x="29.20" y="546.20" font-size="7.0" text-anchor="end" textLength="12.0" lengthAdjust="spacingAndGlyphs" >400</text>
<line x1="32.30" x2="35.30" y1="507.50" y2="507.50" stroke="#1a1a1a" stroke-width="0.7"/>
<text x="29.20" y="510.00" font-size="7.0" text-anchor="end" textLength="12.0" lengthAdjust="spacingAndGlyphs" >500</text>
<line x1="32.30" x2="35.30" y1="471.30" y2="471.30" stroke="#1a1a1a" stroke-width="0.7"/>
<text x="29.20" y="473.80" font-size="7.0" text-anchor="end" textLength="12.0" lengthAdjust="spacingAndGlyphs" >600</text>
<line x1="32.30" x2="35.30" y1="435.10" y2="435.10" stroke="#1a1a1a" stroke-width="0.7"/>
<text x="29.20" y="437.60" font-size="7.0" text-anchor="end" textLength="12.0" lengthAdjust="spacingAndGlyphs" >700</text>
<line x1="32.30" x2="35.30" y1="398.90" y2="398.90" stroke="#1a1a1a" stroke-width="0.7"/>
<text x="29.20" y="401.40" font-size="7.0" text-anchor="end" textLength="12.0" lengthAdjust="spacingAndGlyphs" >800</text>
<line x1="32.30" x2="35.30" y1="362.70" y2="362.70" stroke="#1a1a1a" stroke-width="0.7"/>
<text x="29.20" y="365.20" font-size="7.0" text-anchor="end" textLength="12.0" lengthAdjust="spacingAndGlyphs" >900</text>
<line x1="32.30" x2="35.30" y1="326.50" y2="326.50" stroke="#1a1a1a" stroke-width="0.7"/>
<text x="29.20" y="329.00" font-size="7.0" text-anchor="end" textLength="16.0" lengthAdjust="spacingAndGlyphs" >1000</text>
<text x="154.30" y="310.80" font-size="8.7" text-anchor="middle" textLength="75.4" lengthAdjust="spacingAndGlyphs" >BS:Band1− Band2</text>
<text x="156.05" y="575.00" font-size="8.7" text-anchor="middle" textLength="90.6" lengthAdjust="spacingAndGlyphs" >Band1 Wavelengh/nm</text>
<text font-size="8.7" text-anchor="middle" textLength="90" lengthAdjust="spacingAndGlyphs" transform="translate(7.60,435.65) rotate(-90)" >Band2 Wavelengh/nm</text>
<text x="5.50" y="298.90" font-size="11.5" text-anchor="start" font-weight="bold" fill="#000">c</text>
<rect x="292.10" y="316.10" width="11.80" height="237.90" fill="url(#cbg)" stroke="#1a1a1a" stroke-width="0.75"/>
<line x1="303.90" x2="306.90" y1="554.00" y2="554.00" stroke="#1a1a1a" stroke-width="0.7"/>
<text x="310.20" y="556.95" font-size="8.4" text-anchor="start" textLength="11.8" lengthAdjust="spacingAndGlyphs" >0.0</text>
<line x1="303.90" x2="306.90" y1="523.89" y2="523.89" stroke="#1a1a1a" stroke-width="0.7"/>
<text x="310.20" y="526.84" font-size="8.4" text-anchor="start" textLength="11.8" lengthAdjust="spacingAndGlyphs" >0.1</text>
<line x1="303.90" x2="306.90" y1="493.77" y2="493.77" stroke="#1a1a1a" stroke-width="0.7"/>
<text x="310.20" y="496.72" font-size="8.4" text-anchor="start" textLength="11.8" lengthAdjust="spacingAndGlyphs" >0.2</text>
<line x1="303.90" x2="306.90" y1="463.66" y2="463.66" stroke="#1a1a1a" stroke-width="0.7"/>
<text x="310.20" y="466.61" font-size="8.4" text-anchor="start" textLength="11.8" lengthAdjust="spacingAndGlyphs" >0.3</text>
<line x1="303.90" x2="306.90" y1="433.54" y2="433.54" stroke="#1a1a1a" stroke-width="0.7"/>
<text x="310.20" y="436.49" font-size="8.4" text-anchor="start" textLength="11.8" lengthAdjust="spacingAndGlyphs" >0.4</text>
<line x1="303.90" x2="306.90" y1="403.43" y2="403.43" stroke="#1a1a1a" stroke-width="0.7"/>
<text x="310.20" y="406.38" font-size="8.4" text-anchor="start" textLength="11.8" lengthAdjust="spacingAndGlyphs" >0.5</text>
<line x1="303.90" x2="306.90" y1="373.32" y2="373.32" stroke="#1a1a1a" stroke-width="0.7"/>
<text x="310.20" y="376.27" font-size="8.4" text-anchor="start" textLength="11.8" lengthAdjust="spacingAndGlyphs" >0.6</text>
<line x1="303.90" x2="306.90" y1="343.20" y2="343.20" stroke="#1a1a1a" stroke-width="0.7"/>
<text x="310.20" y="346.15" font-size="8.4" text-anchor="start" textLength="11.8" lengthAdjust="spacingAndGlyphs" >0.7</text>
<text transform="translate(333.90,435.85) rotate(-90)" font-size="8.7" text-anchor="middle" letter-spacing="0.45">Test <tspan font-style="italic">R</tspan><tspan font-size="6" dy="-3.2">2</tspan></text>
</g>
<g>
<clipPath id="clipd"><rect x="386.50" y="316.10" width="241.50" height="237.90"/></clipPath>
<g clip-path="url(#clipd)">
<g transform="translate(351.2,291.7)"><rect x="42.6" y="31.1" width="226.8" height="224.0" rx="3.2" fill="#3b4cc0"/><g filter="url(#sb2)" fill="none" stroke-linecap="round" stroke-linejoin="round"><path d="M165.8 95.8L166.4 105.8" stroke="#4e68d8" stroke-width="1.8"/><path d="M167.1 108.1Q168.1 113.8 171.4 118.8" stroke="#6282ea" stroke-width="3.0"/><path d="M171.4 118.8L175.3 123.8" stroke="#4e68d8" stroke-width="2.0"/><path d="M175.3 124.1Q180.8 126.5 188.6 127.9" stroke="#6282ea" stroke-width="3.0"/><path d="M192.8 129.6L200.8 129.9" stroke="#4e68d8" stroke-width="1.6" opacity="0.7"/><path d="M179.8 110.3L186.8 114.3" stroke="#4e68d8" stroke-width="1.2" opacity="0.6"/><path d="M59.3 176.3L60.8 171.3M52.8 228.3L56.8 232.3M68.8 235.3L72.8 237.3" stroke="#4e68d8" stroke-width="1.3" opacity="0.7"/></g></g>
<line x1="397.55" x2="397.55" y1="316.10" y2="554.00" stroke="#b0b0b0" stroke-width="0.7"/>
<line x1="434.20" x2="434.20" y1="316.10" y2="554.00" stroke="#b0b0b0" stroke-width="0.7"/>
<line x1="470.85" x2="470.85" y1="316.10" y2="554.00" stroke="#b0b0b0" stroke-width="0.7"/>
<line x1="507.50" x2="507.50" y1="316.10" y2="554.00" stroke="#b0b0b0" stroke-width="0.7"/>
<line x1="544.15" x2="544.15" y1="316.10" y2="554.00" stroke="#b0b0b0" stroke-width="0.7"/>
<line x1="580.80" x2="580.80" y1="316.10" y2="554.00" stroke="#b0b0b0" stroke-width="0.7"/>
<line x1="617.45" x2="617.45" y1="316.10" y2="554.00" stroke="#b0b0b0" stroke-width="0.7"/>
<line x1="386.50" x2="628.00" y1="543.70" y2="543.70" stroke="#b0b0b0" stroke-width="0.7"/>
<line x1="386.50" x2="628.00" y1="507.50" y2="507.50" stroke="#b0b0b0" stroke-width="0.7"/>
<line x1="386.50" x2="628.00" y1="471.30" y2="471.30" stroke="#b0b0b0" stroke-width="0.7"/>
<line x1="386.50" x2="628.00" y1="435.10" y2="435.10" stroke="#b0b0b0" stroke-width="0.7"/>
<line x1="386.50" x2="628.00" y1="398.90" y2="398.90" stroke="#b0b0b0" stroke-width="0.7"/>
<line x1="386.50" x2="628.00" y1="362.70" y2="362.70" stroke="#b0b0b0" stroke-width="0.7"/>
<line x1="386.50" x2="628.00" y1="326.50" y2="326.50" stroke="#b0b0b0" stroke-width="0.7"/>
</g>
<rect x="386.50" y="316.10" width="241.50" height="237.90" fill="none" stroke="#1a1a1a" stroke-width="0.75"/>
<line x1="397.55" x2="397.55" y1="554.00" y2="557.00" stroke="#1a1a1a" stroke-width="0.7"/>
<text x="397.55" y="564.60" font-size="7.0" text-anchor="middle" textLength="12.0" lengthAdjust="spacingAndGlyphs" >400</text>
<line x1="434.20" x2="434.20" y1="554.00" y2="557.00" stroke="#1a1a1a" stroke-width="0.7"/>
<text x="434.20" y="564.60" font-size="7.0" text-anchor="middle" textLength="12.0" lengthAdjust="spacingAndGlyphs" >500</text>
<line x1="470.85" x2="470.85" y1="554.00" y2="557.00" stroke="#1a1a1a" stroke-width="0.7"/>
<text x="470.85" y="564.60" font-size="7.0" text-anchor="middle" textLength="12.0" lengthAdjust="spacingAndGlyphs" >600</text>
<line x1="507.50" x2="507.50" y1="554.00" y2="557.00" stroke="#1a1a1a" stroke-width="0.7"/>
<text x="507.50" y="564.60" font-size="7.0" text-anchor="middle" textLength="12.0" lengthAdjust="spacingAndGlyphs" >700</text>
<line x1="544.15" x2="544.15" y1="554.00" y2="557.00" stroke="#1a1a1a" stroke-width="0.7"/>
<text x="544.15" y="564.60" font-size="7.0" text-anchor="middle" textLength="12.0" lengthAdjust="spacingAndGlyphs" >800</text>
<line x1="580.80" x2="580.80" y1="554.00" y2="557.00" stroke="#1a1a1a" stroke-width="0.7"/>
<text x="580.80" y="564.60" font-size="7.0" text-anchor="middle" textLength="12.0" lengthAdjust="spacingAndGlyphs" >900</text>
<line x1="617.45" x2="617.45" y1="554.00" y2="557.00" stroke="#1a1a1a" stroke-width="0.7"/>
<text x="617.45" y="564.60" font-size="7.0" text-anchor="middle" textLength="16.0" lengthAdjust="spacingAndGlyphs" >1000</text>
<line x1="383.50" x2="386.50" y1="543.70" y2="543.70" stroke="#1a1a1a" stroke-width="0.7"/>
<text x="380.40" y="546.20" font-size="7.0" text-anchor="end" textLength="12.0" lengthAdjust="spacingAndGlyphs" >400</text>
<line x1="383.50" x2="386.50" y1="507.50" y2="507.50" stroke="#1a1a1a" stroke-width="0.7"/>
<text x="380.40" y="510.00" font-size="7.0" text-anchor="end" textLength="12.0" lengthAdjust="spacingAndGlyphs" >500</text>
<line x1="383.50" x2="386.50" y1="471.30" y2="471.30" stroke="#1a1a1a" stroke-width="0.7"/>
<text x="380.40" y="473.80" font-size="7.0" text-anchor="end" textLength="12.0" lengthAdjust="spacingAndGlyphs" >600</text>
<line x1="383.50" x2="386.50" y1="435.10" y2="435.10" stroke="#1a1a1a" stroke-width="0.7"/>
<text x="380.40" y="437.60" font-size="7.0" text-anchor="end" textLength="12.0" lengthAdjust="spacingAndGlyphs" >700</text>
<line x1="383.50" x2="386.50" y1="398.90" y2="398.90" stroke="#1a1a1a" stroke-width="0.7"/>
<text x="380.40" y="401.40" font-size="7.0" text-anchor="end" textLength="12.0" lengthAdjust="spacingAndGlyphs" >800</text>
<line x1="383.50" x2="386.50" y1="362.70" y2="362.70" stroke="#1a1a1a" stroke-width="0.7"/>
<text x="380.40" y="365.20" font-size="7.0" text-anchor="end" textLength="12.0" lengthAdjust="spacingAndGlyphs" >900</text>
<line x1="383.50" x2="386.50" y1="326.50" y2="326.50" stroke="#1a1a1a" stroke-width="0.7"/>
<text x="380.40" y="329.00" font-size="7.0" text-anchor="end" textLength="16.0" lengthAdjust="spacingAndGlyphs" >1000</text>
<text x="506.00" y="310.80" font-size="8.7" text-anchor="middle" textLength="161.4" lengthAdjust="spacingAndGlyphs" >NBD:(Band1− Band2)/(Band1+ Band2)</text>
<text x="507.25" y="575.00" font-size="8.7" text-anchor="middle" textLength="90.6" lengthAdjust="spacingAndGlyphs" >Band1 Wavelengh/nm</text>
<text font-size="8.7" text-anchor="middle" textLength="90" lengthAdjust="spacingAndGlyphs" transform="translate(358.80,435.65) rotate(-90)" >Band2 Wavelengh/nm</text>
<text x="355.30" y="298.90" font-size="11.5" text-anchor="start" font-weight="bold" fill="#000">d</text>
<rect x="643.30" y="316.10" width="11.80" height="237.90" fill="url(#cbg)" stroke="#1a1a1a" stroke-width="0.75"/>
<line x1="655.10" x2="658.10" y1="554.00" y2="554.00" stroke="#1a1a1a" stroke-width="0.7"/>
<text x="661.40" y="556.95" font-size="8.4" text-anchor="start" textLength="11.8" lengthAdjust="spacingAndGlyphs" >0.0</text>
<line x1="655.10" x2="658.10" y1="523.89" y2="523.89" stroke="#1a1a1a" stroke-width="0.7"/>
<text x="661.40" y="526.84" font-size="8.4" text-anchor="start" textLength="11.8" lengthAdjust="spacingAndGlyphs" >0.1</text>
<line x1="655.10" x2="658.10" y1="493.77" y2="493.77" stroke="#1a1a1a" stroke-width="0.7"/>
<text x="661.40" y="496.72" font-size="8.4" text-anchor="start" textLength="11.8" lengthAdjust="spacingAndGlyphs" >0.2</text>
<line x1="655.10" x2="658.10" y1="463.66" y2="463.66" stroke="#1a1a1a" stroke-width="0.7"/>
<text x="661.40" y="466.61" font-size="8.4" text-anchor="start" textLength="11.8" lengthAdjust="spacingAndGlyphs" >0.3</text>
<line x1="655.10" x2="658.10" y1="433.54" y2="433.54" stroke="#1a1a1a" stroke-width="0.7"/>
<text x="661.40" y="436.49" font-size="8.4" text-anchor="start" textLength="11.8" lengthAdjust="spacingAndGlyphs" >0.4</text>
<line x1="655.10" x2="658.10" y1="403.43" y2="403.43" stroke="#1a1a1a" stroke-width="0.7"/>
<text x="661.40" y="406.38" font-size="8.4" text-anchor="start" textLength="11.8" lengthAdjust="spacingAndGlyphs" >0.5</text>
<line x1="655.10" x2="658.10" y1="373.32" y2="373.32" stroke="#1a1a1a" stroke-width="0.7"/>
<text x="661.40" y="376.27" font-size="8.4" text-anchor="start" textLength="11.8" lengthAdjust="spacingAndGlyphs" >0.6</text>
<line x1="655.10" x2="658.10" y1="343.20" y2="343.20" stroke="#1a1a1a" stroke-width="0.7"/>
<text x="661.40" y="346.15" font-size="8.4" text-anchor="start" textLength="11.8" lengthAdjust="spacingAndGlyphs" >0.7</text>
<text transform="translate(685.10,435.85) rotate(-90)" font-size="8.7" text-anchor="middle" letter-spacing="0.45">Test <tspan font-style="italic">R</tspan><tspan font-size="6" dy="-3.2">2</tspan></text>
</g>
</svg>
</body></html>
